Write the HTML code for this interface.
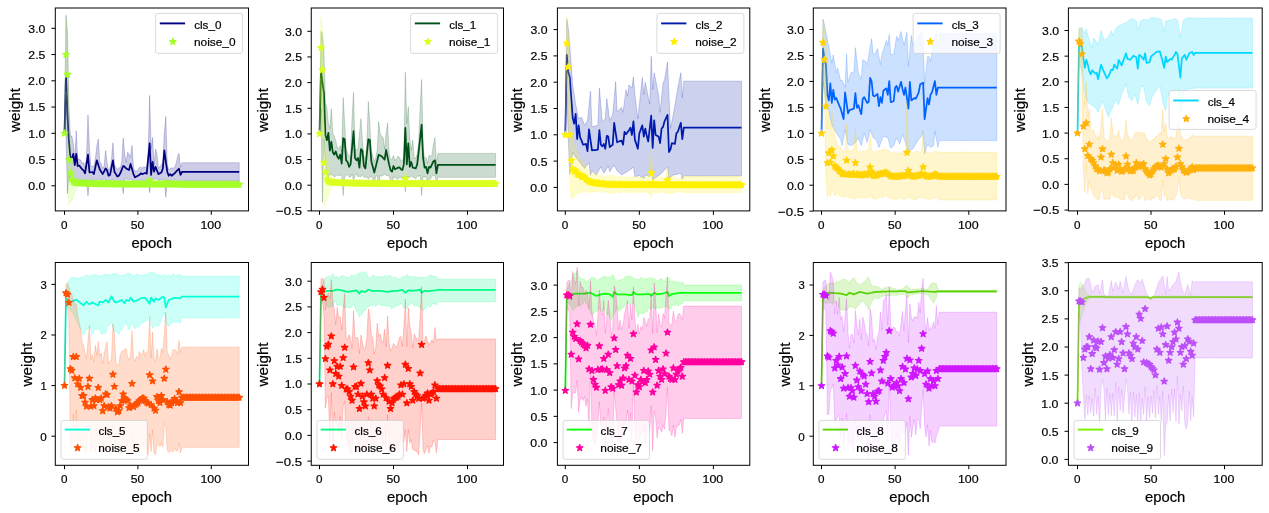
<!DOCTYPE html>
<html><head><meta charset="utf-8"><title>weights</title>
<style>
html,body{margin:0;padding:0;background:#fff}
body{width:1269px;height:513px;overflow:hidden;position:relative}
svg text{font-family:"Liberation Sans",sans-serif;fill:#000;stroke:#000;stroke-width:0.2px}
</style></head><body>
<svg width="1269" height="513" viewBox="0 0 1269 513" style="display:block;position:absolute;left:0;top:0">
<defs><path id="st" d="M0.00 -3.40 L0.82 -1.13 L3.23 -1.05 L1.33 0.43 L2.00 2.75 L0.00 1.40 L-2.00 2.75 L-1.33 0.43 L-3.23 -1.05 L-0.82 -1.13Z"/>
<clipPath id="c0"><rect x="55.3" y="8" width="193.2" height="202.9"/></clipPath>
<clipPath id="c1"><rect x="311.25" y="8" width="192.25" height="202.9"/></clipPath>
<clipPath id="c2"><rect x="557.4" y="8" width="192.4" height="202.9"/></clipPath>
<clipPath id="c3"><rect x="813.3" y="8" width="192.7" height="202.9"/></clipPath>
<clipPath id="c4"><rect x="1068.4" y="8" width="193.8" height="202.9"/></clipPath>
<clipPath id="c5"><rect x="55.3" y="262.5" width="193.2" height="202.8"/></clipPath>
<clipPath id="c6"><rect x="311.25" y="262.5" width="192.25" height="202.8"/></clipPath>
<clipPath id="c7"><rect x="557.4" y="262.5" width="192.4" height="202.8"/></clipPath>
<clipPath id="c8"><rect x="813.3" y="262.5" width="192.7" height="202.8"/></clipPath>
<clipPath id="c9"><rect x="1068.4" y="262.5" width="193.8" height="202.8"/></clipPath>
</defs>
<rect width="1269" height="513" fill="#fff"/>
<g style="will-change:transform;filter:blur(0.35px)">
<g clip-path="url(#c0)">
<path d="M64.5 126.74 L65.97 15.18 L67.44 33.55 L68.9 107.05 L70.37 135.93 L71.84 135.93 L73.31 143.8 L74.78 158.88 L76.24 130.68 L77.71 159.08 L79.18 158.97 L80.65 159.99 L82.12 163.36 L83.58 162.38 L85.05 167.97 L86.52 156.64 L87.99 114.93 L89.46 149.05 L90.92 166.56 L92.39 166.14 L93.86 166.34 L95.33 158.94 L96.8 146.43 L98.26 139.08 L99.73 161.25 L101.2 163.62 L102.67 168.59 L104.14 165.91 L105.6 150.62 L107.07 162.38 L108.54 170.17 L110.01 168.35 L111.48 159.37 L112.94 142.75 L114.41 164.26 L115.88 167.87 L117.35 169.13 L118.82 167.85 L120.28 168 L121.75 162.05 L123.22 138.03 L124.69 154.3 L126.16 162.32 L127.62 152.2 L129.09 154.3 L130.56 157.26 L132.03 145.38 L133.5 167.94 L134.96 171.19 L136.43 170.88 L137.9 170.42 L139.37 167.53 L140.84 167.39 L142.3 168.03 L143.77 166.75 L145.24 167.56 L146.71 166.57 L148.18 152.79 L149.64 95.5 L151.11 149.05 L152.58 137.5 L154.05 165.13 L155.52 149.05 L156.98 154.3 L158.45 168.71 L159.92 166.37 L161.39 165.15 L162.86 161.58 L164.32 133.3 L165.79 116.5 L167.26 163.59 L168.73 170.05 L170.2 168.42 L171.66 167.94 L173.13 168.01 L174.6 167.53 L176.07 163.51 L177.54 156.93 L179 153.25 L180.47 167.38 L181.94 162.7 L183.41 162.7 L184.88 162.7 L186.34 162.7 L187.81 162.7 L189.28 162.7 L190.75 162.7 L192.22 162.7 L193.68 162.7 L195.15 162.7 L196.62 162.7 L198.09 162.7 L199.56 162.7 L201.02 162.7 L202.49 162.7 L203.96 162.7 L205.43 162.7 L206.9 162.7 L208.36 162.7 L209.83 162.7 L211.3 162.7 L212.77 162.7 L214.24 162.7 L215.7 162.7 L217.17 162.7 L218.64 162.7 L220.11 162.7 L221.58 162.7 L223.04 162.7 L224.51 162.7 L225.98 162.7 L227.45 162.7 L228.92 162.7 L230.38 162.7 L231.85 162.7 L233.32 162.7 L234.79 162.7 L236.26 162.7 L237.72 162.7 L239.19 162.7 L239.19 181.08 L237.72 181.08 L236.26 181.08 L234.79 181.08 L233.32 181.08 L231.85 181.08 L230.38 181.08 L228.92 181.08 L227.45 181.08 L225.98 181.08 L224.51 181.08 L223.04 181.08 L221.58 181.08 L220.11 181.08 L218.64 181.08 L217.17 181.08 L215.7 181.08 L214.24 181.08 L212.77 181.08 L211.3 181.08 L209.83 181.08 L208.36 181.08 L206.9 181.08 L205.43 181.08 L203.96 181.08 L202.49 181.08 L201.02 181.08 L199.56 181.08 L198.09 181.08 L196.62 181.08 L195.15 181.08 L193.68 181.08 L192.22 181.08 L190.75 181.08 L189.28 181.08 L187.81 181.08 L186.34 181.08 L184.88 181.08 L183.41 181.08 L181.94 181.08 L180.47 182.46 L179 180.73 L177.54 180.72 L176.07 180.07 L174.6 179.73 L173.13 181.02 L171.66 183.52 L170.2 179.93 L168.73 181.41 L167.26 180.66 L165.79 197.35 L164.32 179 L162.86 179.83 L161.39 179.84 L159.92 180.24 L158.45 179.98 L156.98 179.24 L155.52 178.99 L154.05 179.23 L152.58 180 L151.11 182.38 L149.64 192.62 L148.18 180.37 L146.71 180.69 L145.24 179.96 L143.77 180.34 L142.3 180.2 L140.84 180.8 L139.37 182.31 L137.9 181.04 L136.43 182.2 L134.96 183.51 L133.5 180.64 L132.03 180.23 L130.56 178.99 L129.09 179.83 L127.62 179.24 L126.16 179.07 L124.69 178.9 L123.22 193.68 L121.75 180.64 L120.28 180.62 L118.82 183.61 L117.35 183.95 L115.88 180.36 L114.41 180.63 L112.94 179.39 L111.48 179.84 L110.01 181.5 L108.54 181.29 L107.07 180.3 L105.6 180.43 L104.14 178.77 L102.67 180.1 L101.2 180.25 L99.73 179.75 L98.26 179.08 L96.8 179.96 L95.33 180.25 L93.86 181.89 L92.39 178.83 L90.92 180.19 L89.46 180.68 L87.99 195.78 L86.52 180.4 L85.05 180.72 L83.58 179.91 L82.12 179.41 L80.65 180.01 L79.18 180.62 L77.71 179.67 L76.24 180.65 L74.78 180.67 L73.31 178.9 L71.84 180.52 L70.37 180.38 L68.9 175.3 L67.44 193.68 L65.97 133.3 L64.5 133.3Z" fill="#000080" fill-opacity="0.2" stroke="#000080" stroke-opacity="0.2" stroke-width="1"/>
<path d="M64.5 133.3 L65.97 74.5 L67.44 114.4 L68.9 141.18 L70.37 157.12 L71.84 157.93 L73.31 153.89 L74.78 165.21 L76.24 153.89 L77.71 166.02 L79.18 165.54 L80.65 167.4 L82.12 169.26 L83.58 170.39 L85.05 173.3 L86.52 164 L87.99 154.7 L89.46 172.49 L90.92 172.25 L92.39 172.01 L93.86 174.11 L95.33 167.24 L96.8 160.36 L98.26 164.81 L99.73 169.26 L101.2 171.69 L102.67 174.11 L104.14 171.28 L105.6 168.45 L107.07 170.39 L108.54 175.73 L110.01 174.92 L111.48 167.64 L112.94 160.36 L114.41 171.69 L115.88 174.11 L117.35 176.54 L118.82 175.73 L120.28 173.3 L121.75 169.66 L123.22 166.02 L124.69 166.83 L126.16 168.45 L127.62 169.26 L129.09 170.07 L130.56 163.92 L132.03 169.02 L133.5 174.11 L134.96 177.35 L136.43 176.54 L137.9 175.73 L139.37 174.92 L140.84 173.3 L142.3 174.11 L143.77 173.55 L145.24 172.98 L146.71 173.63 L148.18 158.5 L149.64 143.37 L151.11 174.92 L152.58 161.98 L154.05 171.69 L155.52 166.83 L156.98 170.47 L158.45 174.11 L159.92 173.3 L161.39 172.49 L162.86 168.45 L164.32 150.33 L165.79 161.01 L167.26 171.69 L168.73 175.73 L170.2 174.11 L171.66 175.73 L173.13 174.52 L174.6 173.3 L176.07 171.69 L177.54 170.23 L179 168.77 L180.47 174.92 L181.94 171.99 L183.41 171.99 L184.88 171.99 L186.34 171.99 L187.81 171.99 L189.28 171.99 L190.75 171.99 L192.22 171.99 L193.68 171.99 L195.15 171.99 L196.62 171.99 L198.09 171.99 L199.56 171.99 L201.02 171.99 L202.49 171.99 L203.96 171.99 L205.43 171.99 L206.9 171.99 L208.36 171.99 L209.83 171.99 L211.3 171.99 L212.77 171.99 L214.24 171.99 L215.7 171.99 L217.17 171.99 L218.64 171.99 L220.11 171.99 L221.58 171.99 L223.04 171.99 L224.51 171.99 L225.98 171.99 L227.45 171.99 L228.92 171.99 L230.38 171.99 L231.85 171.99 L233.32 171.99 L234.79 171.99 L236.26 171.99 L237.72 171.99 L239.19 171.99" fill="none" stroke="#000080" stroke-width="1.75" stroke-linejoin="round" stroke-linecap="butt"/>
<path d="M64.5 133.3 L65.97 17.8 L67.44 32.5 L68.9 114.93 L70.37 144.33 L71.84 158.5 L73.31 166.9 L74.78 173.2 L76.24 176.48 L77.71 178.69 L79.18 181.16 L80.65 181.26 L82.12 181.35 L83.58 181.43 L85.05 181.51 L86.52 181.58 L87.99 179.28 L89.46 181.7 L90.92 181.76 L92.39 181.81 L93.86 181.85 L95.33 181.9 L96.8 181.94 L98.26 181.97 L99.73 182.01 L101.2 182.04 L102.67 182.06 L104.14 182.09 L105.6 182.11 L107.07 182.14 L108.54 182.16 L110.01 182.17 L111.48 182.19 L112.94 182.21 L114.41 182.22 L115.88 182.23 L117.35 182.25 L118.82 182.26 L120.28 182.27 L121.75 182.28 L123.22 182.29 L124.69 182.29 L126.16 182.3 L127.62 182.31 L129.09 182.32 L130.56 182.32 L132.03 182.33 L133.5 182.33 L134.96 182.34 L136.43 182.34 L137.9 182.34 L139.37 182.35 L140.84 182.35 L142.3 182.35 L143.77 182.36 L145.24 182.36 L146.71 182.36 L148.18 182.36 L149.64 172.68 L151.11 181.34 L152.58 182.37 L154.05 182.37 L155.52 182.37 L156.98 182.37 L158.45 182.37 L159.92 182.37 L161.39 182.38 L162.86 182.38 L164.32 182.38 L165.79 178.45 L167.26 182.38 L168.73 182.38 L170.2 182.38 L171.66 182.38 L173.13 182.38 L174.6 182.38 L176.07 182.38 L177.54 182.38 L179 182.38 L180.47 182.38 L181.94 182.65 L183.41 182.65 L184.88 182.65 L186.34 182.65 L187.81 182.65 L189.28 182.65 L190.75 182.65 L192.22 182.65 L193.68 182.65 L195.15 182.65 L196.62 182.65 L198.09 182.65 L199.56 182.65 L201.02 182.65 L202.49 182.65 L203.96 182.65 L205.43 182.65 L206.9 182.65 L208.36 182.65 L209.83 182.65 L211.3 182.65 L212.77 182.65 L214.24 182.65 L215.7 182.65 L217.17 182.65 L218.64 182.65 L220.11 182.65 L221.58 182.65 L223.04 182.65 L224.51 182.65 L225.98 182.65 L227.45 182.65 L228.92 182.65 L230.38 182.65 L231.85 182.65 L233.32 182.65 L234.79 182.65 L236.26 182.65 L237.72 182.65 L239.19 182.65 L239.19 186.33 L237.72 186.33 L236.26 186.33 L234.79 186.33 L233.32 186.33 L231.85 186.33 L230.38 186.33 L228.92 186.33 L227.45 186.33 L225.98 186.33 L224.51 186.33 L223.04 186.33 L221.58 186.33 L220.11 186.33 L218.64 186.33 L217.17 186.33 L215.7 186.33 L214.24 186.33 L212.77 186.33 L211.3 186.33 L209.83 186.33 L208.36 186.33 L206.9 186.33 L205.43 186.33 L203.96 186.33 L202.49 186.33 L201.02 186.33 L199.56 186.33 L198.09 186.33 L196.62 186.33 L195.15 186.33 L193.68 186.33 L192.22 186.33 L190.75 186.33 L189.28 186.33 L187.81 186.33 L186.34 186.33 L184.88 186.33 L183.41 186.33 L181.94 186.33 L180.47 186.06 L179 186.06 L177.54 186.06 L176.07 186.06 L174.6 186.06 L173.13 186.06 L171.66 186.06 L170.2 186.06 L168.73 186.05 L167.26 186.05 L165.79 186.85 L164.32 186.05 L162.86 186.05 L161.39 186.05 L159.92 186.05 L158.45 186.05 L156.98 186.05 L155.52 186.05 L154.05 186.05 L152.58 186.04 L151.11 185.01 L149.64 188.43 L148.18 186.04 L146.71 186.04 L145.24 186.03 L143.77 186.03 L142.3 186.03 L140.84 186.03 L139.37 186.02 L137.9 186.02 L136.43 186.01 L134.96 186.01 L133.5 186.01 L132.03 186 L130.56 186 L129.09 185.99 L127.62 185.98 L126.16 185.98 L124.69 185.97 L123.22 185.96 L121.75 185.95 L120.28 185.94 L118.82 185.93 L117.35 185.92 L115.88 185.91 L114.41 185.9 L112.94 185.88 L111.48 185.87 L110.01 185.85 L108.54 185.83 L107.07 185.81 L105.6 185.79 L104.14 185.77 L102.67 185.74 L101.2 185.71 L99.73 185.68 L98.26 185.65 L96.8 185.61 L95.33 185.57 L93.86 185.53 L92.39 185.48 L90.92 185.43 L89.46 185.38 L87.99 187.68 L86.52 185.25 L85.05 185.18 L83.58 185.11 L82.12 185.02 L80.65 184.93 L79.18 184.84 L77.71 187.09 L76.24 189.08 L74.78 192.1 L73.31 196.3 L71.84 200.5 L70.37 202.08 L68.9 204.18 L67.44 116.5 L65.97 91.3 L64.5 133.3Z" fill="#a4ff28" fill-opacity="0.2" stroke="#a4ff28" stroke-opacity="0.2" stroke-width="1"/>
<g fill="#a4ff28" stroke="#a4ff28" stroke-width="1.2" stroke-linejoin="round">
<use href="#st" x="64.5" y="133.3"/><use href="#st" x="65.97" y="54.55"/><use href="#st" x="67.44" y="74.5"/><use href="#st" x="68.9" y="159.55"/><use href="#st" x="70.37" y="173.2"/><use href="#st" x="71.84" y="179.5"/><use href="#st" x="73.31" y="181.6"/><use href="#st" x="74.78" y="182.65"/><use href="#st" x="76.24" y="182.78"/><use href="#st" x="77.71" y="182.89"/><use href="#st" x="79.18" y="183"/><use href="#st" x="80.65" y="183.1"/><use href="#st" x="82.12" y="183.19"/><use href="#st" x="83.58" y="183.27"/><use href="#st" x="85.05" y="183.35"/><use href="#st" x="86.52" y="183.42"/><use href="#st" x="87.99" y="183.48"/><use href="#st" x="89.46" y="183.54"/><use href="#st" x="90.92" y="183.6"/><use href="#st" x="92.39" y="183.65"/><use href="#st" x="93.86" y="183.69"/><use href="#st" x="95.33" y="183.73"/><use href="#st" x="96.8" y="183.77"/><use href="#st" x="98.26" y="183.81"/><use href="#st" x="99.73" y="183.84"/><use href="#st" x="101.2" y="183.87"/><use href="#st" x="102.67" y="183.9"/><use href="#st" x="104.14" y="183.93"/><use href="#st" x="105.6" y="183.95"/><use href="#st" x="107.07" y="183.97"/><use href="#st" x="108.54" y="183.99"/><use href="#st" x="110.01" y="184.01"/><use href="#st" x="111.48" y="184.03"/><use href="#st" x="112.94" y="184.04"/><use href="#st" x="114.41" y="184.06"/><use href="#st" x="115.88" y="184.07"/><use href="#st" x="117.35" y="184.08"/><use href="#st" x="118.82" y="184.1"/><use href="#st" x="120.28" y="184.11"/><use href="#st" x="121.75" y="184.12"/><use href="#st" x="123.22" y="184.12"/><use href="#st" x="124.69" y="184.13"/><use href="#st" x="126.16" y="184.14"/><use href="#st" x="127.62" y="184.15"/><use href="#st" x="129.09" y="184.15"/><use href="#st" x="130.56" y="184.16"/><use href="#st" x="132.03" y="184.16"/><use href="#st" x="133.5" y="184.17"/><use href="#st" x="134.96" y="184.17"/><use href="#st" x="136.43" y="184.18"/><use href="#st" x="137.9" y="184.18"/><use href="#st" x="139.37" y="184.18"/><use href="#st" x="140.84" y="184.19"/><use href="#st" x="142.3" y="184.19"/><use href="#st" x="143.77" y="184.19"/><use href="#st" x="145.24" y="184.2"/><use href="#st" x="146.71" y="184.2"/><use href="#st" x="148.18" y="184.2"/><use href="#st" x="149.64" y="180.55"/><use href="#st" x="151.11" y="183.18"/><use href="#st" x="152.58" y="184.21"/><use href="#st" x="154.05" y="184.21"/><use href="#st" x="155.52" y="184.21"/><use href="#st" x="156.98" y="184.21"/><use href="#st" x="158.45" y="184.21"/><use href="#st" x="159.92" y="184.21"/><use href="#st" x="161.39" y="184.21"/><use href="#st" x="162.86" y="184.21"/><use href="#st" x="164.32" y="184.22"/><use href="#st" x="165.79" y="182.65"/><use href="#st" x="167.26" y="184.22"/><use href="#st" x="168.73" y="184.22"/><use href="#st" x="170.2" y="184.22"/><use href="#st" x="171.66" y="184.22"/><use href="#st" x="173.13" y="184.22"/><use href="#st" x="174.6" y="184.22"/><use href="#st" x="176.07" y="184.22"/><use href="#st" x="177.54" y="184.22"/><use href="#st" x="179" y="184.22"/><use href="#st" x="180.47" y="184.22"/><use href="#st" x="181.94" y="184.49"/><use href="#st" x="183.41" y="184.49"/><use href="#st" x="184.88" y="184.49"/><use href="#st" x="186.34" y="184.49"/><use href="#st" x="187.81" y="184.49"/><use href="#st" x="189.28" y="184.49"/><use href="#st" x="190.75" y="184.49"/><use href="#st" x="192.22" y="184.49"/><use href="#st" x="193.68" y="184.49"/><use href="#st" x="195.15" y="184.49"/><use href="#st" x="196.62" y="184.49"/><use href="#st" x="198.09" y="184.49"/><use href="#st" x="199.56" y="184.49"/><use href="#st" x="201.02" y="184.49"/><use href="#st" x="202.49" y="184.49"/><use href="#st" x="203.96" y="184.49"/><use href="#st" x="205.43" y="184.49"/><use href="#st" x="206.9" y="184.49"/><use href="#st" x="208.36" y="184.49"/><use href="#st" x="209.83" y="184.49"/><use href="#st" x="211.3" y="184.49"/><use href="#st" x="212.77" y="184.49"/><use href="#st" x="214.24" y="184.49"/><use href="#st" x="215.7" y="184.49"/><use href="#st" x="217.17" y="184.49"/><use href="#st" x="218.64" y="184.49"/><use href="#st" x="220.11" y="184.49"/><use href="#st" x="221.58" y="184.49"/><use href="#st" x="223.04" y="184.49"/><use href="#st" x="224.51" y="184.49"/><use href="#st" x="225.98" y="184.49"/><use href="#st" x="227.45" y="184.49"/><use href="#st" x="228.92" y="184.49"/><use href="#st" x="230.38" y="184.49"/><use href="#st" x="231.85" y="184.49"/><use href="#st" x="233.32" y="184.49"/><use href="#st" x="234.79" y="184.49"/><use href="#st" x="236.26" y="184.49"/><use href="#st" x="237.72" y="184.49"/><use href="#st" x="239.19" y="184.49"/>
</g>
</g>
<rect x="155.6" y="13.4" width="87" height="40" rx="2.4" ry="2.4" fill="#fff" fill-opacity="0.8" stroke="#ccc" stroke-opacity="0.8" stroke-width="0.9"/>
<path d="M160.75 23.4 H184.15" stroke="#000080" stroke-width="1.9" stroke-linecap="square" fill="none"/>
<use href="#st" x="172.8" y="41.7" fill="#a4ff28" stroke="#a4ff28" stroke-width="1.2" stroke-linejoin="round"/>
<text x="194.2" y="28.7" font-size="11.6" textLength="27.2" lengthAdjust="spacingAndGlyphs">cls_0</text>
<text x="193.93" y="46" font-size="11.6" textLength="41.67" lengthAdjust="spacingAndGlyphs">noise_0</text>
<rect x="55.3" y="8" width="193.2" height="202.9" fill="none" stroke="#000" stroke-width="1"/>
<text x="60.96" y="228.7" font-size="11.6" textLength="6.5" lengthAdjust="spacingAndGlyphs">0</text>
<text x="130.82" y="228.7" font-size="11.6" textLength="13.56" lengthAdjust="spacingAndGlyphs">50</text>
<text x="200.43" y="228.7" font-size="11.6" textLength="20.68" lengthAdjust="spacingAndGlyphs">100</text>
<text x="28.22" y="190.2" font-size="11.6" textLength="17.15" lengthAdjust="spacingAndGlyphs">0.0</text>
<text x="28.44" y="163.95" font-size="11.6" textLength="16.95" lengthAdjust="spacingAndGlyphs">0.5</text>
<text x="28.23" y="137.7" font-size="11.6" textLength="17.14" lengthAdjust="spacingAndGlyphs">1.0</text>
<text x="28.46" y="111.45" font-size="11.6" textLength="16.93" lengthAdjust="spacingAndGlyphs">1.5</text>
<text x="28.14" y="85.2" font-size="11.6" textLength="17.22" lengthAdjust="spacingAndGlyphs">2.0</text>
<text x="28.37" y="58.95" font-size="11.6" textLength="17.02" lengthAdjust="spacingAndGlyphs">2.5</text>
<text x="28.33" y="32.7" font-size="11.6" textLength="17.03" lengthAdjust="spacingAndGlyphs">3.0</text>
<path d="M64.5 210.9v3.9M137.9 210.9v3.9M211.3 210.9v3.9M55.3 185.8h-3.9M55.3 159.55h-3.9M55.3 133.3h-3.9M55.3 107.05h-3.9M55.3 80.8h-3.9M55.3 54.55h-3.9M55.3 28.3h-3.9" stroke="#000" stroke-width="1" fill="none"/>
<text x="131.59" y="247.5" font-size="14.2" textLength="40.34" lengthAdjust="spacingAndGlyphs">epoch</text>
<g transform="translate(20.1 110.05) rotate(-90)"><text x="-22.06" y="0" font-size="14.2" textLength="44.17" lengthAdjust="spacingAndGlyphs">weight</text></g>
<g clip-path="url(#c1)">
<path d="M319.5 123.9 L320.98 31.3 L322.46 33.86 L323.94 51.82 L325.42 103.12 L326.9 107.74 L328.38 123.64 L329.86 128.77 L331.34 108.76 L332.82 133.9 L334.3 135.95 L335.78 141.07 L337.26 147.54 L338.74 148.42 L340.22 145.72 L341.7 152.15 L343.18 97.48 L344.66 123.64 L346.14 148.67 L347.62 153.43 L349.1 156.54 L350.58 155.92 L352.06 118.51 L353.54 92.35 L355.02 149.19 L356.5 149.69 L357.98 148.79 L359.46 133.9 L360.94 118.51 L362.42 141 L363.9 155.88 L365.38 159.4 L366.86 143.04 L368.34 101.58 L369.82 123.64 L371.3 151.36 L372.78 155.36 L374.26 161.9 L375.74 157.95 L377.22 149.67 L378.7 121.59 L380.18 133.9 L381.66 136.47 L383.14 137.49 L384.62 149 L386.1 133.9 L387.58 123.13 L389.06 153 L390.54 159.65 L392.02 159.55 L393.5 155.57 L394.98 160.7 L396.46 158.73 L397.94 155.93 L399.42 157.43 L400.9 160.93 L402.38 160.83 L403.86 155.91 L405.34 72.34 L406.82 123.64 L408.3 106.71 L409.78 139.03 L411.26 150.62 L412.74 140.06 L414.22 158.62 L415.7 158.08 L417.18 154.72 L418.66 143.05 L420.14 108.25 L421.62 79.52 L423.1 147.65 L424.58 158.09 L426.06 157.55 L427.54 163.5 L429.02 155.2 L430.5 156.4 L431.98 154.63 L433.46 144.16 L434.94 137.49 L436.42 163.98 L437.9 153.39 L439.38 153.39 L440.86 153.39 L442.34 153.39 L443.82 153.39 L445.3 153.39 L446.78 153.39 L448.26 153.39 L449.74 153.39 L451.22 153.39 L452.7 153.39 L454.18 153.39 L455.66 153.39 L457.14 153.39 L458.62 153.39 L460.1 153.39 L461.58 153.39 L463.06 153.39 L464.54 153.39 L466.02 153.39 L467.5 153.39 L468.98 153.39 L470.46 153.39 L471.94 153.39 L473.42 153.39 L474.9 153.39 L476.38 153.39 L477.86 153.39 L479.34 153.39 L480.82 153.39 L482.3 153.39 L483.78 153.39 L485.26 153.39 L486.74 153.39 L488.22 153.39 L489.7 153.39 L491.18 153.39 L492.66 153.39 L494.14 153.39 L495.62 153.39 L495.62 177.35 L494.14 177.35 L492.66 177.35 L491.18 177.35 L489.7 177.35 L488.22 177.35 L486.74 177.35 L485.26 177.35 L483.78 177.35 L482.3 177.35 L480.82 177.35 L479.34 177.35 L477.86 177.35 L476.38 177.35 L474.9 177.35 L473.42 177.35 L471.94 177.35 L470.46 177.35 L468.98 177.35 L467.5 177.35 L466.02 177.35 L464.54 177.35 L463.06 177.35 L461.58 177.35 L460.1 177.35 L458.62 177.35 L457.14 177.35 L455.66 177.35 L454.18 177.35 L452.7 177.35 L451.22 177.35 L449.74 177.35 L448.26 177.35 L446.78 177.35 L445.3 177.35 L443.82 177.35 L442.34 177.35 L440.86 177.35 L439.38 177.35 L437.9 177.35 L436.42 182.61 L434.94 175.7 L433.46 175.26 L431.98 176.2 L430.5 178.86 L429.02 178.44 L427.54 183.09 L426.06 176.09 L424.58 177.17 L423.1 176.28 L421.62 195.46 L420.14 175.01 L418.66 176.54 L417.18 175.72 L415.7 178.8 L414.22 177.44 L412.74 177.19 L411.26 175.96 L409.78 177.5 L408.3 176.78 L406.82 176.58 L405.34 191.87 L403.86 176.08 L402.38 179.28 L400.9 177.57 L399.42 177.18 L397.94 179.33 L396.46 178.15 L394.98 177.79 L393.5 176.45 L392.02 183.8 L390.54 180.46 L389.06 175.79 L387.58 175.82 L386.1 175.45 L384.62 173.71 L383.14 175.59 L381.66 176.18 L380.18 175.37 L378.7 187.25 L377.22 176.07 L375.74 175.69 L374.26 183.07 L372.78 178.29 L371.3 176.39 L369.82 177.09 L368.34 179.04 L366.86 176.65 L365.38 177.47 L363.9 177.12 L362.42 174.34 L360.94 176.67 L359.46 176.28 L357.98 176.67 L356.5 173.66 L355.02 175.63 L353.54 180.07 L352.06 174.01 L350.58 176.91 L349.1 177.1 L347.62 174.5 L346.14 175.23 L344.66 177.07 L343.18 195.46 L341.7 175.02 L340.22 175.27 L338.74 175.66 L337.26 174.87 L335.78 176.01 L334.3 176.92 L332.82 175.11 L331.34 175.06 L329.86 173.91 L328.38 176.89 L326.9 174.32 L325.42 164.68 L323.94 139.03 L322.46 202.13 L320.98 108.25 L319.5 133.9Z" fill="#005019" fill-opacity="0.2" stroke="#005019" stroke-opacity="0.2" stroke-width="1"/>
<path d="M319.5 133.9 L320.98 71.31 L322.46 82.6 L323.94 93.37 L325.42 135.27 L326.9 140.12 L328.38 132.84 L329.86 150.64 L331.34 141.74 L332.82 152.26 L334.3 154.69 L335.78 151.45 L337.26 156.3 L338.74 158.73 L340.22 154.69 L341.7 163.58 L343.18 138.18 L344.66 139.31 L346.14 160.35 L347.62 161.97 L349.1 166.82 L350.58 164.39 L352.06 147.81 L353.54 131.22 L355.02 157.92 L356.5 160.35 L357.98 157.92 L359.46 167.63 L360.94 149.02 L362.42 150.64 L363.9 166.01 L365.38 168.44 L366.86 153.88 L368.34 139.31 L369.82 140.12 L371.3 161.16 L372.78 166.82 L374.26 172.48 L375.74 166.82 L377.22 160.75 L378.7 154.69 L380.18 155.49 L381.66 156.3 L383.14 157.92 L384.62 159.54 L386.1 149.83 L387.58 157.11 L389.06 164.39 L390.54 170.06 L392.02 171.67 L393.5 166.01 L394.98 169.25 L396.46 168.44 L397.94 167.63 L399.42 167.31 L400.9 169.25 L402.38 170.06 L403.86 164.39 L405.34 127.99 L406.82 164.39 L408.3 143.36 L409.78 166.82 L411.26 161.97 L412.74 167.63 L414.22 168.03 L415.7 168.44 L417.18 164.39 L418.66 151.45 L420.14 138.1 L421.62 124.75 L423.1 157.92 L424.58 167.63 L426.06 166.82 L427.54 173.29 L429.02 166.82 L430.5 167.63 L431.98 164.39 L433.46 161.16 L434.94 160.35 L436.42 173.29 L437.9 164.89 L439.38 164.89 L440.86 164.89 L442.34 164.89 L443.82 164.89 L445.3 164.89 L446.78 164.89 L448.26 164.89 L449.74 164.89 L451.22 164.89 L452.7 164.89 L454.18 164.89 L455.66 164.89 L457.14 164.89 L458.62 164.89 L460.1 164.89 L461.58 164.89 L463.06 164.89 L464.54 164.89 L466.02 164.89 L467.5 164.89 L468.98 164.89 L470.46 164.89 L471.94 164.89 L473.42 164.89 L474.9 164.89 L476.38 164.89 L477.86 164.89 L479.34 164.89 L480.82 164.89 L482.3 164.89 L483.78 164.89 L485.26 164.89 L486.74 164.89 L488.22 164.89 L489.7 164.89 L491.18 164.89 L492.66 164.89 L494.14 164.89 L495.62 164.89" fill="none" stroke="#005019" stroke-width="1.75" stroke-linejoin="round" stroke-linecap="butt"/>
<path d="M319.5 133.9 L320.98 16.94 L322.46 31.3 L323.94 119.02 L325.42 144.16 L326.9 158.52 L328.38 166.73 L329.86 172.89 L331.34 176.09 L332.82 178.25 L334.3 180.41 L335.78 180.51 L337.26 180.59 L338.74 180.68 L340.22 180.75 L341.7 180.82 L343.18 180.88 L344.66 180.94 L346.14 180.99 L347.62 181.04 L349.1 181.09 L350.58 181.13 L352.06 181.17 L353.54 181.2 L355.02 181.24 L356.5 181.27 L357.98 181.29 L359.46 181.32 L360.94 181.34 L362.42 181.36 L363.9 181.38 L365.38 181.4 L366.86 181.42 L368.34 181.43 L369.82 181.45 L371.3 181.46 L372.78 181.47 L374.26 181.48 L375.74 181.49 L377.22 181.5 L378.7 181.51 L380.18 181.52 L381.66 181.53 L383.14 181.53 L384.62 181.54 L386.1 181.54 L387.58 181.55 L389.06 181.55 L390.54 181.56 L392.02 181.56 L393.5 181.57 L394.98 181.57 L396.46 181.57 L397.94 181.58 L399.42 181.58 L400.9 181.58 L402.38 181.58 L403.86 181.59 L405.34 168.27 L406.82 180.58 L408.3 181.59 L409.78 181.59 L411.26 181.59 L412.74 181.59 L414.22 181.6 L415.7 181.6 L417.18 181.6 L418.66 181.6 L420.14 181.6 L421.62 178.52 L423.1 181.6 L424.58 181.6 L426.06 181.6 L427.54 181.6 L429.02 181.6 L430.5 181.6 L431.98 181.6 L433.46 181.6 L434.94 181.6 L436.42 181.61 L437.9 181.61 L439.38 181.61 L440.86 181.61 L442.34 181.61 L443.82 181.61 L445.3 181.61 L446.78 181.61 L448.26 181.61 L449.74 181.61 L451.22 181.61 L452.7 181.61 L454.18 181.61 L455.66 181.61 L457.14 181.61 L458.62 181.61 L460.1 181.61 L461.58 181.61 L463.06 181.61 L464.54 181.61 L466.02 181.61 L467.5 181.61 L468.98 181.61 L470.46 181.61 L471.94 181.61 L473.42 181.61 L474.9 181.61 L476.38 181.61 L477.86 181.61 L479.34 181.61 L480.82 181.61 L482.3 181.61 L483.78 181.61 L485.26 181.61 L486.74 181.61 L488.22 181.61 L489.7 181.61 L491.18 181.61 L492.66 181.61 L494.14 181.61 L495.62 181.61 L495.62 185.71 L494.14 185.71 L492.66 185.71 L491.18 185.71 L489.7 185.71 L488.22 185.71 L486.74 185.71 L485.26 185.71 L483.78 185.71 L482.3 185.71 L480.82 185.71 L479.34 185.71 L477.86 185.71 L476.38 185.71 L474.9 185.71 L473.42 185.71 L471.94 185.71 L470.46 185.71 L468.98 185.71 L467.5 185.71 L466.02 185.71 L464.54 185.71 L463.06 185.71 L461.58 185.71 L460.1 185.71 L458.62 185.71 L457.14 185.71 L455.66 185.71 L454.18 185.71 L452.7 185.71 L451.22 185.71 L449.74 185.71 L448.26 185.71 L446.78 185.71 L445.3 185.71 L443.82 185.71 L442.34 185.71 L440.86 185.71 L439.38 185.71 L437.9 185.71 L436.42 185.71 L434.94 185.71 L433.46 185.71 L431.98 185.71 L430.5 185.71 L429.02 185.71 L427.54 185.71 L426.06 185.71 L424.58 185.71 L423.1 185.7 L421.62 188.78 L420.14 185.7 L418.66 185.7 L417.18 185.7 L415.7 185.7 L414.22 185.7 L412.74 185.7 L411.26 185.7 L409.78 185.7 L408.3 185.69 L406.82 184.69 L405.34 188.79 L403.86 185.69 L402.38 185.69 L400.9 185.68 L399.42 185.68 L397.94 185.68 L396.46 185.68 L394.98 185.67 L393.5 185.67 L392.02 185.67 L390.54 185.66 L389.06 185.66 L387.58 185.65 L386.1 185.65 L384.62 185.64 L383.14 185.64 L381.66 185.63 L380.18 185.62 L378.7 185.61 L377.22 185.61 L375.74 185.6 L374.26 185.59 L372.78 185.58 L371.3 185.56 L369.82 185.55 L368.34 185.54 L366.86 185.52 L365.38 185.5 L363.9 185.49 L362.42 185.47 L360.94 185.45 L359.46 185.42 L357.98 185.4 L356.5 185.37 L355.02 185.34 L353.54 185.31 L352.06 185.27 L350.58 185.23 L349.1 185.19 L347.62 185.15 L346.14 185.1 L344.66 185.04 L343.18 184.99 L341.7 184.92 L340.22 184.85 L338.74 184.78 L337.26 184.7 L335.78 184.61 L334.3 184.51 L332.82 186.46 L331.34 188.4 L329.86 191.36 L328.38 195.46 L326.9 199.56 L325.42 200.59 L323.94 206.23 L322.46 108.25 L320.98 78.5 L319.5 133.9Z" fill="#dbff20" fill-opacity="0.2" stroke="#dbff20" stroke-opacity="0.2" stroke-width="1"/>
<g fill="#dbff20" stroke="#dbff20" stroke-width="1.2" stroke-linejoin="round">
<use href="#st" x="319.5" y="133.9"/><use href="#st" x="320.98" y="47.72"/><use href="#st" x="322.46" y="69.77"/><use href="#st" x="323.94" y="162.63"/><use href="#st" x="325.42" y="172.38"/><use href="#st" x="326.9" y="179.04"/><use href="#st" x="328.38" y="181.1"/><use href="#st" x="329.86" y="182.12"/><use href="#st" x="331.34" y="182.25"/><use href="#st" x="332.82" y="182.36"/><use href="#st" x="334.3" y="182.46"/><use href="#st" x="335.78" y="182.56"/><use href="#st" x="337.26" y="182.65"/><use href="#st" x="338.74" y="182.73"/><use href="#st" x="340.22" y="182.8"/><use href="#st" x="341.7" y="182.87"/><use href="#st" x="343.18" y="182.93"/><use href="#st" x="344.66" y="182.99"/><use href="#st" x="346.14" y="183.05"/><use href="#st" x="347.62" y="183.09"/><use href="#st" x="349.1" y="183.14"/><use href="#st" x="350.58" y="183.18"/><use href="#st" x="352.06" y="183.22"/><use href="#st" x="353.54" y="183.26"/><use href="#st" x="355.02" y="183.29"/><use href="#st" x="356.5" y="183.32"/><use href="#st" x="357.98" y="183.35"/><use href="#st" x="359.46" y="183.37"/><use href="#st" x="360.94" y="183.39"/><use href="#st" x="362.42" y="183.41"/><use href="#st" x="363.9" y="183.43"/><use href="#st" x="365.38" y="183.45"/><use href="#st" x="366.86" y="183.47"/><use href="#st" x="368.34" y="183.48"/><use href="#st" x="369.82" y="183.5"/><use href="#st" x="371.3" y="183.51"/><use href="#st" x="372.78" y="183.52"/><use href="#st" x="374.26" y="183.53"/><use href="#st" x="375.74" y="183.54"/><use href="#st" x="377.22" y="183.55"/><use href="#st" x="378.7" y="183.56"/><use href="#st" x="380.18" y="183.57"/><use href="#st" x="381.66" y="183.58"/><use href="#st" x="383.14" y="183.58"/><use href="#st" x="384.62" y="183.59"/><use href="#st" x="386.1" y="183.6"/><use href="#st" x="387.58" y="183.6"/><use href="#st" x="389.06" y="183.61"/><use href="#st" x="390.54" y="183.61"/><use href="#st" x="392.02" y="183.61"/><use href="#st" x="393.5" y="183.62"/><use href="#st" x="394.98" y="183.62"/><use href="#st" x="396.46" y="183.62"/><use href="#st" x="397.94" y="183.63"/><use href="#st" x="399.42" y="183.63"/><use href="#st" x="400.9" y="183.63"/><use href="#st" x="402.38" y="183.64"/><use href="#st" x="403.86" y="183.64"/><use href="#st" x="405.34" y="178.53"/><use href="#st" x="406.82" y="182.63"/><use href="#st" x="408.3" y="183.64"/><use href="#st" x="409.78" y="183.64"/><use href="#st" x="411.26" y="183.65"/><use href="#st" x="412.74" y="183.65"/><use href="#st" x="414.22" y="183.65"/><use href="#st" x="415.7" y="183.65"/><use href="#st" x="417.18" y="183.65"/><use href="#st" x="418.66" y="183.65"/><use href="#st" x="420.14" y="183.65"/><use href="#st" x="421.62" y="183.65"/><use href="#st" x="423.1" y="183.65"/><use href="#st" x="424.58" y="183.65"/><use href="#st" x="426.06" y="183.65"/><use href="#st" x="427.54" y="183.65"/><use href="#st" x="429.02" y="183.66"/><use href="#st" x="430.5" y="183.66"/><use href="#st" x="431.98" y="183.66"/><use href="#st" x="433.46" y="183.66"/><use href="#st" x="434.94" y="183.66"/><use href="#st" x="436.42" y="183.66"/><use href="#st" x="437.9" y="183.66"/><use href="#st" x="439.38" y="183.66"/><use href="#st" x="440.86" y="183.66"/><use href="#st" x="442.34" y="183.66"/><use href="#st" x="443.82" y="183.66"/><use href="#st" x="445.3" y="183.66"/><use href="#st" x="446.78" y="183.66"/><use href="#st" x="448.26" y="183.66"/><use href="#st" x="449.74" y="183.66"/><use href="#st" x="451.22" y="183.66"/><use href="#st" x="452.7" y="183.66"/><use href="#st" x="454.18" y="183.66"/><use href="#st" x="455.66" y="183.66"/><use href="#st" x="457.14" y="183.66"/><use href="#st" x="458.62" y="183.66"/><use href="#st" x="460.1" y="183.66"/><use href="#st" x="461.58" y="183.66"/><use href="#st" x="463.06" y="183.66"/><use href="#st" x="464.54" y="183.66"/><use href="#st" x="466.02" y="183.66"/><use href="#st" x="467.5" y="183.66"/><use href="#st" x="468.98" y="183.66"/><use href="#st" x="470.46" y="183.66"/><use href="#st" x="471.94" y="183.66"/><use href="#st" x="473.42" y="183.66"/><use href="#st" x="474.9" y="183.66"/><use href="#st" x="476.38" y="183.66"/><use href="#st" x="477.86" y="183.66"/><use href="#st" x="479.34" y="183.66"/><use href="#st" x="480.82" y="183.66"/><use href="#st" x="482.3" y="183.66"/><use href="#st" x="483.78" y="183.66"/><use href="#st" x="485.26" y="183.66"/><use href="#st" x="486.74" y="183.66"/><use href="#st" x="488.22" y="183.66"/><use href="#st" x="489.7" y="183.66"/><use href="#st" x="491.18" y="183.66"/><use href="#st" x="492.66" y="183.66"/><use href="#st" x="494.14" y="183.66"/><use href="#st" x="495.62" y="183.66"/>
</g>
</g>
<rect x="410.6" y="13.4" width="87" height="40" rx="2.4" ry="2.4" fill="#fff" fill-opacity="0.8" stroke="#ccc" stroke-opacity="0.8" stroke-width="0.9"/>
<path d="M415.75 23.4 H439.15" stroke="#005019" stroke-width="1.9" stroke-linecap="square" fill="none"/>
<use href="#st" x="427.8" y="41.7" fill="#dbff20" stroke="#dbff20" stroke-width="1.2" stroke-linejoin="round"/>
<text x="449.21" y="28.7" font-size="11.6" textLength="27.04" lengthAdjust="spacingAndGlyphs">cls_1</text>
<text x="448.93" y="46" font-size="11.6" textLength="41.5" lengthAdjust="spacingAndGlyphs">noise_1</text>
<rect x="311.25" y="8" width="192.25" height="202.9" fill="none" stroke="#000" stroke-width="1"/>
<text x="315.96" y="228.7" font-size="11.6" textLength="6.5" lengthAdjust="spacingAndGlyphs">0</text>
<text x="386.42" y="228.7" font-size="11.6" textLength="13.56" lengthAdjust="spacingAndGlyphs">50</text>
<text x="456.63" y="228.7" font-size="11.6" textLength="20.68" lengthAdjust="spacingAndGlyphs">100</text>
<text x="276.06" y="215.25" font-size="11.6" textLength="26.03" lengthAdjust="spacingAndGlyphs">−0.5</text>
<text x="284.87" y="189.6" font-size="11.6" textLength="17.15" lengthAdjust="spacingAndGlyphs">0.0</text>
<text x="285.09" y="163.95" font-size="11.6" textLength="16.95" lengthAdjust="spacingAndGlyphs">0.5</text>
<text x="284.88" y="138.3" font-size="11.6" textLength="17.14" lengthAdjust="spacingAndGlyphs">1.0</text>
<text x="285.11" y="112.65" font-size="11.6" textLength="16.93" lengthAdjust="spacingAndGlyphs">1.5</text>
<text x="284.79" y="87" font-size="11.6" textLength="17.22" lengthAdjust="spacingAndGlyphs">2.0</text>
<text x="285.02" y="61.35" font-size="11.6" textLength="17.02" lengthAdjust="spacingAndGlyphs">2.5</text>
<text x="284.98" y="35.7" font-size="11.6" textLength="17.03" lengthAdjust="spacingAndGlyphs">3.0</text>
<path d="M319.5 210.9v3.9M393.5 210.9v3.9M467.5 210.9v3.9M311.25 210.85h-3.9M311.25 185.2h-3.9M311.25 159.55h-3.9M311.25 133.9h-3.9M311.25 108.25h-3.9M311.25 82.6h-3.9M311.25 56.95h-3.9M311.25 31.3h-3.9" stroke="#000" stroke-width="1" fill="none"/>
<text x="387.07" y="247.5" font-size="14.2" textLength="40.34" lengthAdjust="spacingAndGlyphs">epoch</text>
<g transform="translate(267.5 110.05) rotate(-90)"><text x="-22.06" y="0" font-size="14.2" textLength="44.17" lengthAdjust="spacingAndGlyphs">weight</text></g>
<g clip-path="url(#c2)">
<path d="M565.3 134.8 L566.78 19.08 L568.26 27.5 L569.74 45.38 L571.22 65.12 L572.7 84.85 L574.19 94.56 L575.67 104.27 L577.15 111.55 L578.63 118.83 L580.11 118.02 L581.59 117.21 L583.07 121.26 L584.55 125.3 L586.03 122.88 L587.51 120.45 L589 105.89 L590.48 91.33 L591.96 126.92 L593.44 126.52 L594.92 126.11 L596.4 125.71 L597.88 125.3 L599.36 88.09 L600.84 105.08 L602.32 122.07 L603.81 120.45 L605.29 118.83 L606.77 98.61 L608.25 109.53 L609.73 120.45 L611.21 117.62 L612.69 114.79 L614.17 98.2 L615.65 81.62 L617.13 111.55 L618.62 110.2 L620.1 108.85 L621.58 107.51 L623.06 112.36 L624.54 101.03 L626.02 89.71 L627.5 96.18 L628.98 84.85 L630.46 86.47 L631.94 88.09 L633.43 76.93 L634.91 94.56 L636.39 106.7 L637.87 118.83 L639.35 105.08 L640.83 91.33 L642.31 77.57 L643.79 94.56 L645.27 82.27 L646.75 89.71 L648.24 96.99 L649.72 104.27 L651.2 56.38 L652.68 89.71 L654.16 72.72 L655.64 80 L657.12 87.69 L658.6 95.37 L660.08 112.36 L661.56 97.8 L663.05 83.24 L664.53 80 L666.01 71.1 L667.49 62.2 L668.97 95.37 L670.45 128.54 L671.93 121.26 L673.41 113.98 L674.89 105.35 L676.38 96.72 L677.86 88.09 L679.34 80.4 L680.82 72.72 L682.3 97.8 L683.78 81.15 L685.26 81.15 L686.74 81.15 L688.22 81.15 L689.7 81.15 L691.18 81.15 L692.67 81.15 L694.15 81.15 L695.63 81.15 L697.11 81.15 L698.59 81.15 L700.07 81.15 L701.55 81.15 L703.03 81.15 L704.51 81.15 L706 81.15 L707.48 81.15 L708.96 81.15 L710.44 81.15 L711.92 81.15 L713.4 81.15 L714.88 81.15 L716.36 81.15 L717.84 81.15 L719.32 81.15 L720.8 81.15 L722.29 81.15 L723.77 81.15 L725.25 81.15 L726.73 81.15 L728.21 81.15 L729.69 81.15 L731.17 81.15 L732.65 81.15 L734.13 81.15 L735.62 81.15 L737.1 81.15 L738.58 81.15 L740.06 81.15 L741.54 81.15 L741.54 175.83 L740.06 175.83 L738.58 175.83 L737.1 175.83 L735.62 175.83 L734.13 175.83 L732.65 175.83 L731.17 175.83 L729.69 175.83 L728.21 175.83 L726.73 175.83 L725.25 175.83 L723.77 175.83 L722.29 175.83 L720.8 175.83 L719.32 175.83 L717.84 175.83 L716.36 175.83 L714.88 175.83 L713.4 175.83 L711.92 175.83 L710.44 175.83 L708.96 175.83 L707.48 175.83 L706 175.83 L704.51 175.83 L703.03 175.83 L701.55 175.83 L700.07 175.83 L698.59 175.83 L697.11 175.83 L695.63 175.83 L694.15 175.83 L692.67 175.83 L691.18 175.83 L689.7 175.83 L688.22 175.83 L686.74 175.83 L685.26 175.83 L683.78 175.83 L682.3 178.97 L680.82 173.3 L679.34 173.71 L677.86 174.11 L676.38 174.38 L674.89 174.65 L673.41 174.92 L671.93 176 L670.45 177.08 L668.97 178.16 L667.49 166.83 L666.01 168.45 L664.53 170.07 L663.05 171.69 L661.56 173.3 L660.08 174.38 L658.6 175.46 L657.12 176.54 L655.64 177.62 L654.16 178.7 L652.68 179.78 L651.2 169.26 L649.72 176.54 L648.24 176 L646.75 175.46 L645.27 174.92 L643.79 178.16 L642.31 177.35 L640.83 176.54 L639.35 175.73 L637.87 176 L636.39 176.27 L634.91 176.54 L633.43 166.83 L631.94 168.45 L630.46 169.46 L628.98 170.47 L627.5 171.48 L626.02 172.49 L624.54 173.3 L623.06 174.11 L621.58 174.92 L620.1 173.57 L618.62 172.23 L617.13 170.88 L615.65 168.05 L614.17 165.21 L612.69 167.37 L611.21 169.53 L609.73 171.69 L608.25 166.02 L606.77 168.45 L605.29 170.88 L603.81 173.3 L602.32 170.07 L600.84 166.83 L599.36 169.53 L597.88 172.23 L596.4 174.92 L594.92 173.57 L593.44 172.23 L591.96 170.88 L590.48 174.92 L589 162.79 L587.51 164.67 L586.03 166.56 L584.55 168.45 L583.07 166.56 L581.59 164.67 L580.11 162.79 L578.63 160.9 L577.15 159.01 L575.67 157.12 L574.19 154.7 L572.7 152.27 L571.22 163.73 L569.74 174.25 L568.26 134.8 L566.78 92.72 L565.3 134.8Z" fill="#001bac" fill-opacity="0.2" stroke="#001bac" stroke-opacity="0.2" stroke-width="1"/>
<path d="M565.3 134.8 L566.78 54.85 L568.26 71.68 L569.74 76.94 L571.22 97.48 L572.7 118.02 L574.19 123.69 L575.67 113.98 L577.15 139.06 L578.63 125.3 L580.11 137.44 L581.59 140.67 L583.07 144.72 L584.55 144.32 L586.03 143.91 L587.51 151.19 L589 129.35 L590.48 139.87 L591.96 150.38 L593.44 150.22 L594.92 150.06 L596.4 149.82 L597.88 149.57 L599.36 130.16 L600.84 144.72 L602.32 146.34 L603.81 143.91 L605.29 148.76 L606.77 135.82 L608.25 136.63 L609.73 147.15 L611.21 145.93 L612.69 144.72 L614.17 122.88 L615.65 132.58 L617.13 142.29 L618.62 141.48 L620.1 141.08 L621.58 140.67 L623.06 144.72 L624.54 131.78 L626.02 134.2 L627.5 132.18 L628.98 130.16 L630.46 127.73 L631.94 135.01 L633.43 121.26 L634.91 139.87 L636.39 144.32 L637.87 148.76 L639.35 133.39 L640.83 129.35 L642.31 125.3 L643.79 136.63 L645.27 128.54 L646.75 135.82 L648.24 141.48 L649.72 128.54 L651.2 115.6 L652.68 147.96 L654.16 120.45 L655.64 135.01 L657.12 135.82 L658.6 136.63 L660.08 143.1 L661.56 128.54 L663.05 126.92 L664.53 121.26 L666.01 118.02 L667.49 114.79 L668.97 152 L670.45 149.57 L671.93 143.1 L673.41 143.51 L674.89 143.91 L676.38 133.39 L677.86 131.78 L679.34 127.33 L680.82 122.88 L682.3 139.06 L683.78 127.7 L685.26 127.7 L686.74 127.7 L688.22 127.7 L689.7 127.7 L691.18 127.7 L692.67 127.7 L694.15 127.7 L695.63 127.7 L697.11 127.7 L698.59 127.7 L700.07 127.7 L701.55 127.7 L703.03 127.7 L704.51 127.7 L706 127.7 L707.48 127.7 L708.96 127.7 L710.44 127.7 L711.92 127.7 L713.4 127.7 L714.88 127.7 L716.36 127.7 L717.84 127.7 L719.32 127.7 L720.8 127.7 L722.29 127.7 L723.77 127.7 L725.25 127.7 L726.73 127.7 L728.21 127.7 L729.69 127.7 L731.17 127.7 L732.65 127.7 L734.13 127.7 L735.62 127.7 L737.1 127.7 L738.58 127.7 L740.06 127.7 L741.54 127.7" fill="none" stroke="#001bac" stroke-width="1.75" stroke-linejoin="round" stroke-linecap="butt"/>
<path d="M565.3 134.8 L566.78 16.98 L568.26 32.76 L569.74 87.46 L571.22 122.72 L572.7 138.88 L574.19 146.35 L575.67 147.58 L577.15 153.98 L578.63 155.88 L580.11 158.59 L581.59 161.08 L583.07 161.49 L584.55 163.87 L586.03 166.14 L587.51 168.49 L589 171.35 L590.48 171.3 L591.96 172.89 L593.44 173.13 L594.92 175.23 L596.4 173.44 L597.88 175.31 L599.36 175.74 L600.84 175.77 L602.32 175.14 L603.81 176.33 L605.29 177.08 L606.77 176.78 L608.25 175.61 L609.73 175.25 L611.21 176.09 L612.69 175.53 L614.17 175.73 L615.65 177 L617.13 177.79 L618.62 176.33 L620.1 176.6 L621.58 177.13 L623.06 177.51 L624.54 177.05 L626.02 176.9 L627.5 177.44 L628.98 177.4 L630.46 176.98 L631.94 175.93 L633.43 176.66 L634.91 177.46 L636.39 177.48 L637.87 177.02 L639.35 177.68 L640.83 177.69 L642.31 176.88 L643.79 178 L645.27 176.96 L646.75 177.29 L648.24 176.38 L649.72 176.29 L651.2 149.53 L652.68 174.8 L654.16 177.28 L655.64 176.51 L657.12 177.38 L658.6 176.77 L660.08 177.43 L661.56 177.12 L663.05 178.13 L664.53 177.66 L666.01 175.75 L667.49 166.89 L668.97 176.49 L670.45 176.6 L671.93 176.42 L673.41 177.08 L674.89 176.76 L676.38 178.16 L677.86 178.15 L679.34 177.82 L680.82 177.95 L682.3 178.09 L683.78 176.35 L685.26 176.35 L686.74 176.35 L688.22 176.35 L689.7 176.35 L691.18 176.35 L692.67 176.35 L694.15 176.35 L695.63 176.35 L697.11 176.35 L698.59 176.35 L700.07 176.35 L701.55 176.35 L703.03 176.35 L704.51 176.35 L706 176.35 L707.48 176.35 L708.96 176.35 L710.44 176.35 L711.92 176.35 L713.4 176.35 L714.88 176.35 L716.36 176.35 L717.84 176.35 L719.32 176.35 L720.8 176.35 L722.29 176.35 L723.77 176.35 L725.25 176.35 L726.73 176.35 L728.21 176.35 L729.69 176.35 L731.17 176.35 L732.65 176.35 L734.13 176.35 L735.62 176.35 L737.1 176.35 L738.58 176.35 L740.06 176.35 L741.54 176.35 L741.54 192.4 L740.06 192.4 L738.58 192.4 L737.1 192.4 L735.62 192.4 L734.13 192.4 L732.65 192.4 L731.17 192.4 L729.69 192.4 L728.21 192.4 L726.73 192.4 L725.25 192.4 L723.77 192.4 L722.29 192.4 L720.8 192.4 L719.32 192.4 L717.84 192.4 L716.36 192.4 L714.88 192.4 L713.4 192.4 L711.92 192.4 L710.44 192.4 L708.96 192.4 L707.48 192.4 L706 192.4 L704.51 192.4 L703.03 192.4 L701.55 192.4 L700.07 192.4 L698.59 192.4 L697.11 192.4 L695.63 192.4 L694.15 192.4 L692.67 192.4 L691.18 192.4 L689.7 192.4 L688.22 192.4 L686.74 192.4 L685.26 192.4 L683.78 192.4 L682.3 191.77 L680.82 191.9 L679.34 192.02 L677.86 191.68 L676.38 191.66 L674.89 193.05 L673.41 192.72 L671.93 193.37 L670.45 193.18 L668.97 193.28 L667.49 193.19 L666.01 194.01 L664.53 192.09 L663.05 191.6 L661.56 192.61 L660.08 192.29 L658.6 192.93 L657.12 192.32 L655.64 193.18 L654.16 192.4 L652.68 191.58 L651.2 196.87 L649.72 193.36 L648.24 193.26 L646.75 192.34 L645.27 192.66 L643.79 191.61 L642.31 192.73 L640.83 191.9 L639.35 191.91 L637.87 192.56 L636.39 192.09 L634.91 192.1 L633.43 192.89 L631.94 193.61 L630.46 192.53 L628.98 192.08 L627.5 192.01 L626.02 192.52 L624.54 192.34 L623.06 191.84 L621.58 192.19 L620.1 192.69 L618.62 192.92 L617.13 191.43 L615.65 192.14 L614.17 193.32 L612.69 193.43 L611.21 192.78 L609.73 193.53 L608.25 193.68 L606.77 191.97 L605.29 191.4 L603.81 191.09 L602.32 192.39 L600.84 192.21 L599.36 190.56 L597.88 192.04 L596.4 191.92 L594.92 191.97 L593.44 191.62 L591.96 191.61 L590.48 192.65 L589 190.94 L587.51 192.12 L586.03 192.31 L584.55 190.06 L583.07 191.73 L581.59 192.94 L580.11 190.83 L578.63 193.96 L577.15 193.7 L575.67 193.38 L574.19 196.98 L572.7 198.83 L571.22 198.43 L569.74 182.14 L568.26 101.14 L566.78 69.58 L565.3 134.8Z" fill="#fff000" fill-opacity="0.2" stroke="#fff000" stroke-opacity="0.2" stroke-width="1"/>
<g fill="#fff000" stroke="#fff000" stroke-width="1.2" stroke-linejoin="round">
<use href="#st" x="565.3" y="134.8"/><use href="#st" x="566.78" y="43.28"/><use href="#st" x="568.26" y="66.95"/><use href="#st" x="569.74" y="134.8"/><use href="#st" x="571.22" y="160.57"/><use href="#st" x="572.7" y="168.86"/><use href="#st" x="574.19" y="171.66"/><use href="#st" x="575.67" y="170.48"/><use href="#st" x="577.15" y="173.84"/><use href="#st" x="578.63" y="174.92"/><use href="#st" x="580.11" y="174.71"/><use href="#st" x="581.59" y="177.01"/><use href="#st" x="583.07" y="176.61"/><use href="#st" x="584.55" y="176.96"/><use href="#st" x="586.03" y="179.23"/><use href="#st" x="587.51" y="180.31"/><use href="#st" x="589" y="181.15"/><use href="#st" x="590.48" y="181.97"/><use href="#st" x="591.96" y="182.25"/><use href="#st" x="593.44" y="182.37"/><use href="#st" x="594.92" y="183.6"/><use href="#st" x="596.4" y="182.68"/><use href="#st" x="597.88" y="183.68"/><use href="#st" x="599.36" y="183.15"/><use href="#st" x="600.84" y="183.99"/><use href="#st" x="602.32" y="183.76"/><use href="#st" x="603.81" y="183.71"/><use href="#st" x="605.29" y="184.24"/><use href="#st" x="606.77" y="184.37"/><use href="#st" x="608.25" y="184.64"/><use href="#st" x="609.73" y="184.39"/><use href="#st" x="611.21" y="184.44"/><use href="#st" x="612.69" y="184.48"/><use href="#st" x="614.17" y="184.52"/><use href="#st" x="615.65" y="184.57"/><use href="#st" x="617.13" y="184.61"/><use href="#st" x="618.62" y="184.63"/><use href="#st" x="620.1" y="184.64"/><use href="#st" x="621.58" y="184.66"/><use href="#st" x="623.06" y="184.68"/><use href="#st" x="624.54" y="184.69"/><use href="#st" x="626.02" y="184.71"/><use href="#st" x="627.5" y="184.72"/><use href="#st" x="628.98" y="184.74"/><use href="#st" x="630.46" y="184.75"/><use href="#st" x="631.94" y="184.77"/><use href="#st" x="633.43" y="184.77"/><use href="#st" x="634.91" y="184.78"/><use href="#st" x="636.39" y="184.78"/><use href="#st" x="637.87" y="184.79"/><use href="#st" x="639.35" y="184.79"/><use href="#st" x="640.83" y="184.8"/><use href="#st" x="642.31" y="184.8"/><use href="#st" x="643.79" y="184.81"/><use href="#st" x="645.27" y="184.81"/><use href="#st" x="646.75" y="184.82"/><use href="#st" x="648.24" y="184.82"/><use href="#st" x="649.72" y="184.83"/><use href="#st" x="651.2" y="173.2"/><use href="#st" x="652.68" y="183.19"/><use href="#st" x="654.16" y="184.84"/><use href="#st" x="655.64" y="184.84"/><use href="#st" x="657.12" y="184.85"/><use href="#st" x="658.6" y="184.85"/><use href="#st" x="660.08" y="184.86"/><use href="#st" x="661.56" y="184.86"/><use href="#st" x="663.05" y="184.87"/><use href="#st" x="664.53" y="184.87"/><use href="#st" x="666.01" y="184.88"/><use href="#st" x="667.49" y="180.04"/><use href="#st" x="668.97" y="184.89"/><use href="#st" x="670.45" y="184.89"/><use href="#st" x="671.93" y="184.9"/><use href="#st" x="673.41" y="184.9"/><use href="#st" x="674.89" y="184.9"/><use href="#st" x="676.38" y="184.91"/><use href="#st" x="677.86" y="184.91"/><use href="#st" x="679.34" y="184.92"/><use href="#st" x="680.82" y="184.92"/><use href="#st" x="682.3" y="184.93"/><use href="#st" x="683.78" y="184.98"/><use href="#st" x="685.26" y="184.98"/><use href="#st" x="686.74" y="184.98"/><use href="#st" x="688.22" y="184.98"/><use href="#st" x="689.7" y="184.98"/><use href="#st" x="691.18" y="184.98"/><use href="#st" x="692.67" y="184.98"/><use href="#st" x="694.15" y="184.98"/><use href="#st" x="695.63" y="184.98"/><use href="#st" x="697.11" y="184.98"/><use href="#st" x="698.59" y="184.98"/><use href="#st" x="700.07" y="184.98"/><use href="#st" x="701.55" y="184.98"/><use href="#st" x="703.03" y="184.98"/><use href="#st" x="704.51" y="184.98"/><use href="#st" x="706" y="184.98"/><use href="#st" x="707.48" y="184.98"/><use href="#st" x="708.96" y="184.98"/><use href="#st" x="710.44" y="184.98"/><use href="#st" x="711.92" y="184.98"/><use href="#st" x="713.4" y="184.98"/><use href="#st" x="714.88" y="184.98"/><use href="#st" x="716.36" y="184.98"/><use href="#st" x="717.84" y="184.98"/><use href="#st" x="719.32" y="184.98"/><use href="#st" x="720.8" y="184.98"/><use href="#st" x="722.29" y="184.98"/><use href="#st" x="723.77" y="184.98"/><use href="#st" x="725.25" y="184.98"/><use href="#st" x="726.73" y="184.98"/><use href="#st" x="728.21" y="184.98"/><use href="#st" x="729.69" y="184.98"/><use href="#st" x="731.17" y="184.98"/><use href="#st" x="732.65" y="184.98"/><use href="#st" x="734.13" y="184.98"/><use href="#st" x="735.62" y="184.98"/><use href="#st" x="737.1" y="184.98"/><use href="#st" x="738.58" y="184.98"/><use href="#st" x="740.06" y="184.98"/><use href="#st" x="741.54" y="184.98"/>
</g>
</g>
<rect x="656.9" y="13.4" width="87" height="40" rx="2.4" ry="2.4" fill="#fff" fill-opacity="0.8" stroke="#ccc" stroke-opacity="0.8" stroke-width="0.9"/>
<path d="M662.05 23.4 H685.45" stroke="#001bac" stroke-width="1.9" stroke-linecap="square" fill="none"/>
<use href="#st" x="674.1" y="41.7" fill="#fff000" stroke="#fff000" stroke-width="1.2" stroke-linejoin="round"/>
<text x="695.51" y="28.7" font-size="11.6" textLength="26.95" lengthAdjust="spacingAndGlyphs">cls_2</text>
<text x="695.23" y="46" font-size="11.6" textLength="41.42" lengthAdjust="spacingAndGlyphs">noise_2</text>
<rect x="557.4" y="8" width="192.4" height="202.9" fill="none" stroke="#000" stroke-width="1"/>
<text x="561.76" y="228.7" font-size="11.6" textLength="6.5" lengthAdjust="spacingAndGlyphs">0</text>
<text x="632.27" y="228.7" font-size="11.6" textLength="13.56" lengthAdjust="spacingAndGlyphs">50</text>
<text x="702.53" y="228.7" font-size="11.6" textLength="20.68" lengthAdjust="spacingAndGlyphs">100</text>
<text x="530.32" y="191.8" font-size="11.6" textLength="17.15" lengthAdjust="spacingAndGlyphs">0.0</text>
<text x="530.54" y="165.5" font-size="11.6" textLength="16.95" lengthAdjust="spacingAndGlyphs">0.5</text>
<text x="530.33" y="139.2" font-size="11.6" textLength="17.14" lengthAdjust="spacingAndGlyphs">1.0</text>
<text x="530.56" y="112.9" font-size="11.6" textLength="16.93" lengthAdjust="spacingAndGlyphs">1.5</text>
<text x="530.24" y="86.6" font-size="11.6" textLength="17.22" lengthAdjust="spacingAndGlyphs">2.0</text>
<text x="530.47" y="60.3" font-size="11.6" textLength="17.02" lengthAdjust="spacingAndGlyphs">2.5</text>
<text x="530.43" y="34" font-size="11.6" textLength="17.03" lengthAdjust="spacingAndGlyphs">3.0</text>
<path d="M565.3 210.9v3.9M639.35 210.9v3.9M713.4 210.9v3.9M557.4 187.4h-3.9M557.4 161.1h-3.9M557.4 134.8h-3.9M557.4 108.5h-3.9M557.4 82.2h-3.9M557.4 55.9h-3.9M557.4 29.6h-3.9" stroke="#000" stroke-width="1" fill="none"/>
<text x="633.29" y="247.5" font-size="14.2" textLength="40.34" lengthAdjust="spacingAndGlyphs">epoch</text>
<g transform="translate(522.2 110.05) rotate(-90)"><text x="-22.06" y="0" font-size="14.2" textLength="44.17" lengthAdjust="spacingAndGlyphs">weight</text></g>
<g clip-path="url(#c3)">
<path d="M821.5 133.3 L822.97 19.12 L824.45 24.31 L825.92 32.27 L827.39 39.55 L828.87 46.83 L830.34 54.92 L831.81 63.01 L833.28 54.92 L834.76 63.82 L836.23 72.72 L837.7 67.87 L839.18 74.34 L840.65 80.81 L842.12 80 L843.6 83.64 L845.07 87.28 L846.54 54.11 L848.01 82.43 L849.49 77.57 L850.96 72.72 L852.43 72.32 L853.91 71.91 L855.38 47.64 L856.85 60.18 L858.33 72.72 L859.8 75.96 L861.27 79.19 L862.74 59.78 L864.22 60.58 L865.69 61.39 L867.16 64.63 L868.64 56 L870.11 47.37 L871.58 38.74 L873.05 53.3 L874.53 54.92 L876 51.69 L877.47 48.45 L878.95 56.54 L880.42 64.63 L881.89 54.92 L883.37 50.07 L884.84 45.21 L886.31 40.36 L887.78 45.21 L889.26 34.7 L890.73 54.92 L892.2 54.52 L893.68 54.11 L895.15 45.21 L896.62 36.31 L898.1 40.36 L899.57 35.91 L901.04 31.46 L902.51 38.34 L903.99 45.21 L905.46 38.74 L906.93 32.27 L908.41 66.25 L909.88 50.88 L911.35 35.51 L912.83 45.21 L914.3 42.79 L915.77 40.36 L917.25 38.34 L918.72 36.31 L920.19 34.29 L921.66 32.27 L923.14 40.36 L924.61 84.05 L926.08 70.29 L927.56 56.54 L929.03 56.54 L930.5 61.39 L931.98 52.49 L933.45 43.6 L934.92 37.93 L936.39 32.27 L937.87 48.45 L939.34 33.65 L940.81 33.65 L942.29 33.65 L943.76 33.65 L945.23 33.65 L946.71 33.65 L948.18 33.65 L949.65 33.65 L951.12 33.65 L952.6 33.65 L954.07 33.65 L955.54 33.65 L957.02 33.65 L958.49 33.65 L959.96 33.65 L961.43 33.65 L962.91 33.65 L964.38 33.65 L965.85 33.65 L967.33 33.65 L968.8 33.65 L970.27 33.65 L971.75 33.65 L973.22 33.65 L974.69 33.65 L976.16 33.65 L977.64 33.65 L979.11 33.65 L980.58 33.65 L982.06 33.65 L983.53 33.65 L985 33.65 L986.48 33.65 L987.95 33.65 L989.42 33.65 L990.89 33.65 L992.37 33.65 L993.84 33.65 L995.31 33.65 L996.79 33.65 L996.79 140.57 L995.31 140.57 L993.84 140.57 L992.37 140.57 L990.89 140.57 L989.42 140.57 L987.95 140.57 L986.48 140.57 L985 140.57 L983.53 140.57 L982.06 140.57 L980.58 140.57 L979.11 140.57 L977.64 140.57 L976.16 140.57 L974.69 140.57 L973.22 140.57 L971.75 140.57 L970.27 140.57 L968.8 140.57 L967.33 140.57 L965.85 140.57 L964.38 140.57 L962.91 140.57 L961.43 140.57 L959.96 140.57 L958.49 140.57 L957.02 140.57 L955.54 140.57 L954.07 140.57 L952.6 140.57 L951.12 140.57 L949.65 140.57 L948.18 140.57 L946.71 140.57 L945.23 140.57 L943.76 140.57 L942.29 140.57 L940.81 140.57 L939.34 140.57 L937.87 147.42 L936.39 139.33 L934.92 131.24 L933.45 145.8 L931.98 146.61 L930.5 147.42 L929.03 145.8 L927.56 144.18 L926.08 149.03 L924.61 153.89 L923.14 131.24 L921.66 136.09 L920.19 137.71 L918.72 139.33 L917.25 141.75 L915.77 144.18 L914.3 146.61 L912.83 149.03 L911.35 149.57 L909.88 150.11 L908.41 150.65 L906.93 146.61 L905.46 142.56 L903.99 138.52 L902.51 134.47 L901.04 139.33 L899.57 144.18 L898.1 140.94 L896.62 137.71 L895.15 141.75 L893.68 145.8 L892.2 147.01 L890.73 148.22 L889.26 142.97 L887.78 137.71 L886.31 137.17 L884.84 136.63 L883.37 136.09 L881.89 139.87 L880.42 143.64 L878.95 147.42 L877.47 143.37 L876 139.33 L874.53 138.52 L873.05 137.71 L871.58 133.66 L870.11 129.62 L868.64 136.09 L867.16 142.56 L865.69 137.71 L864.22 132.85 L862.74 139.33 L861.27 145.8 L859.8 141.75 L858.33 137.71 L856.85 140.13 L855.38 142.56 L853.91 143.64 L852.43 144.72 L850.96 145.8 L849.49 144.99 L848.01 144.18 L846.54 136.9 L845.07 129.62 L843.6 137.71 L842.12 145.8 L840.65 139.33 L839.18 137.17 L837.7 135.01 L836.23 132.85 L834.76 130.16 L833.28 127.46 L831.81 124.76 L830.34 118.29 L828.87 111.82 L827.39 106.99 L825.92 102.16 L824.45 91.78 L822.97 81.4 L821.5 133.3Z" fill="#0063ff" fill-opacity="0.2" stroke="#0063ff" stroke-opacity="0.2" stroke-width="1"/>
<path d="M821.5 133.3 L822.97 48.7 L824.45 58.04 L825.92 64.85 L827.39 94.79 L828.87 100.45 L830.34 83.46 L831.81 102.88 L833.28 89.93 L834.76 99.64 L836.23 98.02 L837.7 101.66 L839.18 105.3 L840.65 108.54 L842.12 113.8 L843.6 119.06 L845.07 92.36 L846.54 102.88 L848.01 113.39 L849.49 110.16 L850.96 109.62 L852.43 109.08 L853.91 108.54 L855.38 93.17 L856.85 107.73 L858.33 105.3 L859.8 109.75 L861.27 114.2 L862.74 98.83 L864.22 97.21 L865.69 100.05 L867.16 102.88 L868.64 102.07 L870.11 77.8 L871.58 81.03 L873.05 95.6 L874.53 96.4 L876 95.19 L877.47 93.98 L878.95 106.11 L880.42 97.21 L881.89 102.88 L883.37 90.74 L884.84 89.53 L886.31 88.31 L887.78 94.79 L889.26 81.03 L890.73 102.07 L892.2 101.66 L893.68 101.26 L895.15 87.51 L896.62 85.89 L898.1 91.55 L899.57 86.7 L901.04 81.84 L902.51 89.12 L903.99 94.79 L905.46 87.51 L906.93 98.02 L908.41 108.54 L909.88 81.84 L911.35 100.45 L912.83 99.24 L914.3 98.02 L915.77 98.83 L917.25 95.6 L918.72 92.36 L920.19 84.27 L921.66 83.46 L923.14 82.65 L924.61 119.06 L926.08 108.54 L927.56 98.02 L929.03 104.49 L930.5 94.79 L931.98 92.36 L933.45 86.7 L934.92 81.03 L936.39 94.79 L937.87 87.51 L939.34 87.63 L940.81 87.63 L942.29 87.63 L943.76 87.63 L945.23 87.63 L946.71 87.63 L948.18 87.63 L949.65 87.63 L951.12 87.63 L952.6 87.63 L954.07 87.63 L955.54 87.63 L957.02 87.63 L958.49 87.63 L959.96 87.63 L961.43 87.63 L962.91 87.63 L964.38 87.63 L965.85 87.63 L967.33 87.63 L968.8 87.63 L970.27 87.63 L971.75 87.63 L973.22 87.63 L974.69 87.63 L976.16 87.63 L977.64 87.63 L979.11 87.63 L980.58 87.63 L982.06 87.63 L983.53 87.63 L985 87.63 L986.48 87.63 L987.95 87.63 L989.42 87.63 L990.89 87.63 L992.37 87.63 L993.84 87.63 L995.31 87.63 L996.79 87.63" fill="none" stroke="#0063ff" stroke-width="1.75" stroke-linejoin="round" stroke-linecap="butt"/>
<path d="M821.5 133.3 L822.97 19.12 L824.45 28.46 L825.92 38.84 L827.39 129.15 L828.87 111.5 L830.34 128.63 L831.81 110.98 L833.28 119.81 L834.76 135.89 L836.23 140.57 L837.7 146.18 L839.18 146.18 L840.65 146.85 L842.12 151.47 L843.6 150.64 L845.07 151.96 L846.54 123.96 L848.01 152.37 L849.49 149.52 L850.96 151.66 L852.43 149.55 L853.91 149.54 L855.38 126.55 L856.85 151.96 L858.33 152.79 L859.8 151.15 L861.27 153.02 L862.74 150.74 L864.22 151.23 L865.69 151.38 L867.16 149.58 L868.64 150.36 L870.11 133.3 L871.58 149.42 L873.05 151.84 L874.53 152.43 L876 151.56 L877.47 151.77 L878.95 150.48 L880.42 150.75 L881.89 150.04 L883.37 149.08 L884.84 150.39 L886.31 149.78 L887.78 150.42 L889.26 150.88 L890.73 153.27 L892.2 152.85 L893.68 152.63 L895.15 151.79 L896.62 153.45 L898.1 152.59 L899.57 153.98 L901.04 152.51 L902.51 153.49 L903.99 151.2 L905.46 152.2 L906.93 100.6 L908.41 147.57 L909.88 150.2 L911.35 152.8 L912.83 153.55 L914.3 152.8 L915.77 151.43 L917.25 151.38 L918.72 151.69 L920.19 152.76 L921.66 150.12 L923.14 130.7 L924.61 150.74 L926.08 151.27 L927.56 152.98 L929.03 152.7 L930.5 154.38 L931.98 152.38 L933.45 153.14 L934.92 150.59 L936.39 151.89 L937.87 151.67 L939.34 152.24 L940.81 152.24 L942.29 152.24 L943.76 152.24 L945.23 152.24 L946.71 152.24 L948.18 152.24 L949.65 152.24 L951.12 152.24 L952.6 152.24 L954.07 152.24 L955.54 152.24 L957.02 152.24 L958.49 152.24 L959.96 152.24 L961.43 152.24 L962.91 152.24 L964.38 152.24 L965.85 152.24 L967.33 152.24 L968.8 152.24 L970.27 152.24 L971.75 152.24 L973.22 152.24 L974.69 152.24 L976.16 152.24 L977.64 152.24 L979.11 152.24 L980.58 152.24 L982.06 152.24 L983.53 152.24 L985 152.24 L986.48 152.24 L987.95 152.24 L989.42 152.24 L990.89 152.24 L992.37 152.24 L993.84 152.24 L995.31 152.24 L996.79 152.24 L996.79 199.99 L995.31 199.99 L993.84 199.99 L992.37 199.99 L990.89 199.99 L989.42 199.99 L987.95 199.99 L986.48 199.99 L985 199.99 L983.53 199.99 L982.06 199.99 L980.58 199.99 L979.11 199.99 L977.64 199.99 L976.16 199.99 L974.69 199.99 L973.22 199.99 L971.75 199.99 L970.27 199.99 L968.8 199.99 L967.33 199.99 L965.85 199.99 L964.38 199.99 L962.91 199.99 L961.43 199.99 L959.96 199.99 L958.49 199.99 L957.02 199.99 L955.54 199.99 L954.07 199.99 L952.6 199.99 L951.12 199.99 L949.65 199.99 L948.18 199.99 L946.71 199.99 L945.23 199.99 L943.76 199.99 L942.29 199.99 L940.81 199.99 L939.34 199.99 L937.87 198.55 L936.39 197.75 L934.92 198.01 L933.45 197.54 L931.98 199.34 L930.5 198.38 L929.03 199.44 L927.56 199.63 L926.08 198.36 L924.61 198.4 L923.14 198.25 L921.66 197.44 L920.19 196.88 L918.72 198.24 L917.25 198.43 L915.77 200.29 L914.3 199.96 L912.83 199.21 L911.35 198.29 L909.88 198.68 L908.41 193.76 L906.93 198.56 L905.46 198.48 L903.99 200.52 L902.51 198.22 L901.04 198.02 L899.57 198.72 L898.1 198.33 L896.62 199.3 L895.15 198.02 L893.68 200.12 L892.2 197.84 L890.73 198.04 L889.26 198.5 L887.78 197.14 L886.31 195.71 L884.84 195.1 L883.37 197.45 L881.89 197.52 L880.42 196.82 L878.95 198.12 L877.47 197.87 L876 199.12 L874.53 199.29 L873.05 198.83 L871.58 194 L870.11 198.55 L868.64 197.2 L867.16 197.68 L865.69 198.26 L864.22 197.37 L862.74 198.1 L861.27 197.66 L859.8 198.49 L858.33 196.85 L856.85 196.64 L855.38 199.21 L853.91 198.03 L852.43 199.05 L850.96 197.98 L849.49 197.67 L848.01 196.24 L846.54 196.62 L845.07 195.61 L843.6 197.89 L842.12 196.09 L840.65 196.57 L839.18 195.15 L837.7 191.01 L836.23 194.54 L834.76 196.1 L833.28 192.47 L831.81 188.83 L830.34 196.1 L828.87 194.54 L827.39 196.62 L825.92 173.78 L824.45 90.74 L822.97 65.83 L821.5 133.3Z" fill="#ffd303" fill-opacity="0.2" stroke="#ffd303" stroke-opacity="0.2" stroke-width="1"/>
<g fill="#ffd303" stroke="#ffd303" stroke-width="1.2" stroke-linejoin="round">
<use href="#st" x="821.5" y="133.3"/><use href="#st" x="822.97" y="42.47"/><use href="#st" x="824.45" y="59.6"/><use href="#st" x="825.92" y="106.31"/><use href="#st" x="827.39" y="162.88"/><use href="#st" x="828.87" y="153.02"/><use href="#st" x="830.34" y="162.36"/><use href="#st" x="831.81" y="149.91"/><use href="#st" x="833.28" y="156.14"/><use href="#st" x="834.76" y="166"/><use href="#st" x="836.23" y="167.55"/><use href="#st" x="837.7" y="168.59"/><use href="#st" x="839.18" y="170.67"/><use href="#st" x="840.65" y="171.71"/><use href="#st" x="842.12" y="173.78"/><use href="#st" x="843.6" y="174.3"/><use href="#st" x="845.07" y="173.78"/><use href="#st" x="846.54" y="160.29"/><use href="#st" x="848.01" y="174.3"/><use href="#st" x="849.49" y="174.3"/><use href="#st" x="850.96" y="174.82"/><use href="#st" x="852.43" y="174.3"/><use href="#st" x="853.91" y="173.78"/><use href="#st" x="855.38" y="162.88"/><use href="#st" x="856.85" y="174.3"/><use href="#st" x="858.33" y="174.82"/><use href="#st" x="859.8" y="174.82"/><use href="#st" x="861.27" y="175.34"/><use href="#st" x="862.74" y="174.82"/><use href="#st" x="864.22" y="174.3"/><use href="#st" x="865.69" y="174.82"/><use href="#st" x="867.16" y="174.3"/><use href="#st" x="868.64" y="173.78"/><use href="#st" x="870.11" y="167.03"/><use href="#st" x="871.58" y="171.71"/><use href="#st" x="873.05" y="175.34"/><use href="#st" x="874.53" y="175.86"/><use href="#st" x="876" y="175.34"/><use href="#st" x="877.47" y="174.82"/><use href="#st" x="878.95" y="174.3"/><use href="#st" x="880.42" y="173.78"/><use href="#st" x="881.89" y="173.78"/><use href="#st" x="883.37" y="173.26"/><use href="#st" x="884.84" y="172.74"/><use href="#st" x="886.31" y="172.74"/><use href="#st" x="887.78" y="173.78"/><use href="#st" x="889.26" y="174.82"/><use href="#st" x="890.73" y="175.86"/><use href="#st" x="892.2" y="176.38"/><use href="#st" x="893.68" y="176.38"/><use href="#st" x="895.15" y="176.38"/><use href="#st" x="896.62" y="176.38"/><use href="#st" x="898.1" y="176.38"/><use href="#st" x="899.57" y="176.38"/><use href="#st" x="901.04" y="175.86"/><use href="#st" x="902.51" y="175.86"/><use href="#st" x="903.99" y="175.86"/><use href="#st" x="905.46" y="175.34"/><use href="#st" x="906.93" y="152.5"/><use href="#st" x="908.41" y="170.67"/><use href="#st" x="909.88" y="174.82"/><use href="#st" x="911.35" y="175.86"/><use href="#st" x="912.83" y="176.38"/><use href="#st" x="914.3" y="176.38"/><use href="#st" x="915.77" y="175.86"/><use href="#st" x="917.25" y="175.86"/><use href="#st" x="918.72" y="175.34"/><use href="#st" x="920.19" y="174.82"/><use href="#st" x="921.66" y="173.78"/><use href="#st" x="923.14" y="167.03"/><use href="#st" x="924.61" y="174.82"/><use href="#st" x="926.08" y="175.86"/><use href="#st" x="927.56" y="176.38"/><use href="#st" x="929.03" y="176.38"/><use href="#st" x="930.5" y="176.38"/><use href="#st" x="931.98" y="175.86"/><use href="#st" x="933.45" y="175.34"/><use href="#st" x="934.92" y="174.3"/><use href="#st" x="936.39" y="174.82"/><use href="#st" x="937.87" y="175.86"/><use href="#st" x="939.34" y="176.53"/><use href="#st" x="940.81" y="176.53"/><use href="#st" x="942.29" y="176.53"/><use href="#st" x="943.76" y="176.53"/><use href="#st" x="945.23" y="176.53"/><use href="#st" x="946.71" y="176.53"/><use href="#st" x="948.18" y="176.53"/><use href="#st" x="949.65" y="176.53"/><use href="#st" x="951.12" y="176.53"/><use href="#st" x="952.6" y="176.53"/><use href="#st" x="954.07" y="176.53"/><use href="#st" x="955.54" y="176.53"/><use href="#st" x="957.02" y="176.53"/><use href="#st" x="958.49" y="176.53"/><use href="#st" x="959.96" y="176.53"/><use href="#st" x="961.43" y="176.53"/><use href="#st" x="962.91" y="176.53"/><use href="#st" x="964.38" y="176.53"/><use href="#st" x="965.85" y="176.53"/><use href="#st" x="967.33" y="176.53"/><use href="#st" x="968.8" y="176.53"/><use href="#st" x="970.27" y="176.53"/><use href="#st" x="971.75" y="176.53"/><use href="#st" x="973.22" y="176.53"/><use href="#st" x="974.69" y="176.53"/><use href="#st" x="976.16" y="176.53"/><use href="#st" x="977.64" y="176.53"/><use href="#st" x="979.11" y="176.53"/><use href="#st" x="980.58" y="176.53"/><use href="#st" x="982.06" y="176.53"/><use href="#st" x="983.53" y="176.53"/><use href="#st" x="985" y="176.53"/><use href="#st" x="986.48" y="176.53"/><use href="#st" x="987.95" y="176.53"/><use href="#st" x="989.42" y="176.53"/><use href="#st" x="990.89" y="176.53"/><use href="#st" x="992.37" y="176.53"/><use href="#st" x="993.84" y="176.53"/><use href="#st" x="995.31" y="176.53"/><use href="#st" x="996.79" y="176.53"/>
</g>
</g>
<rect x="913.1" y="13.4" width="87" height="40" rx="2.4" ry="2.4" fill="#fff" fill-opacity="0.8" stroke="#ccc" stroke-opacity="0.8" stroke-width="0.9"/>
<path d="M918.25 23.4 H941.65" stroke="#0063ff" stroke-width="1.9" stroke-linecap="square" fill="none"/>
<use href="#st" x="930.3" y="41.7" fill="#ffd303" stroke="#ffd303" stroke-width="1.2" stroke-linejoin="round"/>
<text x="951.71" y="28.7" font-size="11.6" textLength="27.12" lengthAdjust="spacingAndGlyphs">cls_3</text>
<text x="951.43" y="46" font-size="11.6" textLength="41.58" lengthAdjust="spacingAndGlyphs">noise_3</text>
<rect x="813.3" y="8" width="192.7" height="202.9" fill="none" stroke="#000" stroke-width="1"/>
<text x="817.96" y="228.7" font-size="11.6" textLength="6.5" lengthAdjust="spacingAndGlyphs">0</text>
<text x="888.07" y="228.7" font-size="11.6" textLength="13.56" lengthAdjust="spacingAndGlyphs">50</text>
<text x="957.93" y="228.7" font-size="11.6" textLength="20.68" lengthAdjust="spacingAndGlyphs">100</text>
<text x="778.11" y="215.55" font-size="11.6" textLength="26.03" lengthAdjust="spacingAndGlyphs">−0.5</text>
<text x="786.92" y="189.6" font-size="11.6" textLength="17.15" lengthAdjust="spacingAndGlyphs">0.0</text>
<text x="787.14" y="163.65" font-size="11.6" textLength="16.95" lengthAdjust="spacingAndGlyphs">0.5</text>
<text x="786.93" y="137.7" font-size="11.6" textLength="17.14" lengthAdjust="spacingAndGlyphs">1.0</text>
<text x="787.16" y="111.75" font-size="11.6" textLength="16.93" lengthAdjust="spacingAndGlyphs">1.5</text>
<text x="786.84" y="85.8" font-size="11.6" textLength="17.22" lengthAdjust="spacingAndGlyphs">2.0</text>
<text x="787.07" y="59.85" font-size="11.6" textLength="17.02" lengthAdjust="spacingAndGlyphs">2.5</text>
<text x="787.03" y="33.9" font-size="11.6" textLength="17.03" lengthAdjust="spacingAndGlyphs">3.0</text>
<path d="M821.5 210.9v3.9M895.15 210.9v3.9M968.8 210.9v3.9M813.3 211.15h-3.9M813.3 185.2h-3.9M813.3 159.25h-3.9M813.3 133.3h-3.9M813.3 107.35h-3.9M813.3 81.4h-3.9M813.3 55.45h-3.9M813.3 29.5h-3.9" stroke="#000" stroke-width="1" fill="none"/>
<text x="889.34" y="247.5" font-size="14.2" textLength="40.34" lengthAdjust="spacingAndGlyphs">epoch</text>
<g transform="translate(769.55 110.05) rotate(-90)"><text x="-22.06" y="0" font-size="14.2" textLength="44.17" lengthAdjust="spacingAndGlyphs">weight</text></g>
<g clip-path="url(#c4)">
<path d="M1077.5 133.1 L1078.97 29.03 L1080.44 28.22 L1081.91 27.42 L1083.38 30.65 L1084.85 33.89 L1086.32 29.03 L1087.79 34.7 L1089.26 40.36 L1090.73 44 L1092.2 47.64 L1093.67 37.93 L1095.14 39.96 L1096.61 41.98 L1098.08 45.21 L1099.55 37.93 L1101.02 30.65 L1102.49 35.51 L1103.96 40.36 L1105.43 39.28 L1106.9 38.2 L1108.37 37.12 L1109.84 33.89 L1111.31 30.65 L1112.78 35.51 L1114.25 32.27 L1115.72 29.03 L1117.19 27.42 L1118.66 25.8 L1120.13 25.19 L1121.6 24.58 L1123.07 23.98 L1124.54 23.37 L1126.01 22.56 L1127.48 21.75 L1128.95 20.67 L1130.42 19.6 L1131.89 18.52 L1133.36 19.33 L1134.83 20.13 L1136.3 20.94 L1137.77 30.65 L1139.24 25.8 L1140.71 20.94 L1142.18 20.13 L1143.65 19.33 L1145.12 19.6 L1146.59 19.87 L1148.06 20.13 L1149.53 18.92 L1151 17.71 L1152.47 17.79 L1153.94 17.87 L1155.41 17.95 L1156.88 18.03 L1158.35 18.46 L1159.82 18.89 L1161.29 19.33 L1162.76 25.39 L1164.23 31.46 L1165.7 20.94 L1167.17 20.67 L1168.64 20.4 L1170.11 20.13 L1171.58 19.73 L1173.05 19.33 L1174.52 18.92 L1175.99 18.52 L1177.46 20.13 L1178.93 29.03 L1180.4 37.93 L1181.87 29.03 L1183.34 20.13 L1184.81 19.08 L1186.28 18.03 L1187.75 18.03 L1189.22 18.03 L1190.69 18.03 L1192.16 18.03 L1193.63 18.03 L1195.1 18.19 L1196.57 18.19 L1198.04 18.19 L1199.51 18.19 L1200.98 18.19 L1202.45 18.19 L1203.92 18.19 L1205.39 18.19 L1206.86 18.19 L1208.33 18.19 L1209.8 18.19 L1211.27 18.19 L1212.74 18.19 L1214.21 18.19 L1215.68 18.19 L1217.15 18.19 L1218.62 18.19 L1220.09 18.19 L1221.56 18.19 L1223.03 18.19 L1224.5 18.19 L1225.97 18.19 L1227.44 18.19 L1228.91 18.19 L1230.38 18.19 L1231.85 18.19 L1233.32 18.19 L1234.79 18.19 L1236.26 18.19 L1237.73 18.19 L1239.2 18.19 L1240.67 18.19 L1242.14 18.19 L1243.61 18.19 L1245.08 18.19 L1246.55 18.19 L1248.02 18.19 L1249.49 18.19 L1250.96 18.19 L1252.43 18.19 L1252.43 88.11 L1250.96 88.11 L1249.49 88.11 L1248.02 88.11 L1246.55 88.11 L1245.08 88.11 L1243.61 88.11 L1242.14 88.11 L1240.67 88.11 L1239.2 88.11 L1237.73 88.11 L1236.26 88.11 L1234.79 88.11 L1233.32 88.11 L1231.85 88.11 L1230.38 88.11 L1228.91 88.11 L1227.44 88.11 L1225.97 88.11 L1224.5 88.11 L1223.03 88.11 L1221.56 88.11 L1220.09 88.11 L1218.62 88.11 L1217.15 88.11 L1215.68 88.11 L1214.21 88.11 L1212.74 88.11 L1211.27 88.11 L1209.8 88.11 L1208.33 88.11 L1206.86 88.11 L1205.39 88.11 L1203.92 88.11 L1202.45 88.11 L1200.98 88.11 L1199.51 88.11 L1198.04 88.11 L1196.57 88.11 L1195.1 88.11 L1193.63 88.61 L1192.16 88.61 L1190.69 88.81 L1189.22 89.01 L1187.75 89.21 L1186.28 89.42 L1184.81 91.03 L1183.34 92.65 L1181.87 102.36 L1180.4 112.07 L1178.93 99.93 L1177.46 87.8 L1175.99 89.42 L1174.52 90.22 L1173.05 91.03 L1171.58 91.84 L1170.11 92.65 L1168.64 95.08 L1167.17 97.51 L1165.7 110.45 L1164.23 106.4 L1162.76 102.36 L1161.29 93.87 L1159.82 85.37 L1158.35 87.39 L1156.88 89.42 L1155.41 91.57 L1153.94 93.73 L1152.47 95.89 L1151 100.74 L1149.53 105.6 L1148.06 103.98 L1146.59 102.36 L1145.12 94.27 L1143.65 86.18 L1142.18 86.58 L1140.71 86.99 L1139.24 95.48 L1137.77 103.98 L1136.3 99.12 L1134.83 94.27 L1133.36 97.51 L1131.89 100.74 L1130.42 99.12 L1128.95 97.51 L1127.48 90.63 L1126.01 83.75 L1124.54 87.26 L1123.07 90.76 L1121.6 94.27 L1120.13 99.53 L1118.66 104.79 L1117.19 101.96 L1115.72 99.12 L1114.25 103.17 L1112.78 107.21 L1111.31 110.45 L1109.84 113.69 L1108.37 116.92 L1106.9 112.88 L1105.43 108.83 L1103.96 104.79 L1102.49 100.74 L1101.02 104.52 L1099.55 108.29 L1098.08 112.07 L1096.61 109.64 L1095.14 107.21 L1093.67 106.4 L1092.2 105.6 L1090.73 104.52 L1089.26 103.44 L1087.79 102.36 L1086.32 97.51 L1084.85 92.65 L1083.38 79.71 L1081.91 71.54 L1080.44 66.41 L1078.97 66.41 L1077.5 133.1Z" fill="#00d7ff" fill-opacity="0.2" stroke="#00d7ff" stroke-opacity="0.2" stroke-width="1"/>
<path d="M1077.5 133.1 L1078.97 46.02 L1080.44 46.02 L1081.91 46.02 L1083.38 58.16 L1084.85 67.87 L1086.32 59.78 L1087.79 64.63 L1089.26 71.1 L1090.73 74.34 L1092.2 70.29 L1093.67 71.91 L1095.14 73.53 L1096.61 72.72 L1098.08 79.19 L1099.55 71.91 L1101.02 64.63 L1102.49 68.67 L1103.96 71.91 L1105.43 75.15 L1106.9 78.38 L1108.37 76.76 L1109.84 73.12 L1111.31 69.48 L1112.78 70.29 L1114.25 64.63 L1115.72 66.65 L1117.19 68.67 L1118.66 59.78 L1120.13 62.61 L1121.6 65.44 L1123.07 61.39 L1124.54 57.35 L1126.01 53.3 L1127.48 58.97 L1128.95 59.37 L1130.42 59.78 L1131.89 57.75 L1133.36 55.73 L1134.83 56.54 L1136.3 57.35 L1137.77 68.67 L1139.24 54.92 L1140.71 55.73 L1142.18 57.75 L1143.65 59.78 L1145.12 53.3 L1146.59 63.01 L1148.06 62.61 L1149.53 62.2 L1151 56.54 L1152.47 55.33 L1153.94 54.11 L1155.41 52.9 L1156.88 51.69 L1158.35 51.52 L1159.82 51.36 L1161.29 56.54 L1162.76 62.2 L1164.23 67.87 L1165.7 56.54 L1167.17 62.2 L1168.64 60.58 L1170.11 58.97 L1171.58 59.78 L1173.05 57.35 L1174.52 54.92 L1175.99 52.01 L1177.46 54.11 L1178.93 65.84 L1180.4 77.57 L1181.87 58.16 L1183.34 56.54 L1184.81 54.92 L1186.28 59.78 L1187.75 56.54 L1189.22 53.3 L1190.69 52.66 L1192.16 52.01 L1193.63 54.92 L1195.1 52.82 L1196.57 52.82 L1198.04 52.82 L1199.51 52.82 L1200.98 52.82 L1202.45 52.82 L1203.92 52.82 L1205.39 52.82 L1206.86 52.82 L1208.33 52.82 L1209.8 52.82 L1211.27 52.82 L1212.74 52.82 L1214.21 52.82 L1215.68 52.82 L1217.15 52.82 L1218.62 52.82 L1220.09 52.82 L1221.56 52.82 L1223.03 52.82 L1224.5 52.82 L1225.97 52.82 L1227.44 52.82 L1228.91 52.82 L1230.38 52.82 L1231.85 52.82 L1233.32 52.82 L1234.79 52.82 L1236.26 52.82 L1237.73 52.82 L1239.2 52.82 L1240.67 52.82 L1242.14 52.82 L1243.61 52.82 L1245.08 52.82 L1246.55 52.82 L1248.02 52.82 L1249.49 52.82 L1250.96 52.82 L1252.43 52.82" fill="none" stroke="#00d7ff" stroke-width="1.75" stroke-linejoin="round" stroke-linecap="butt"/>
<path d="M1077.5 133.1 L1078.97 27.42 L1080.44 27.94 L1081.91 28.45 L1083.38 80.26 L1084.85 105.4 L1086.32 81.8 L1087.79 117.2 L1089.26 108.48 L1090.73 128.55 L1092.2 130.63 L1093.67 129.82 L1095.14 134.43 L1096.61 138.96 L1098.08 135.25 L1099.55 140.41 L1101.02 125.84 L1102.49 108.99 L1103.96 137.57 L1105.43 138.85 L1106.9 140.8 L1108.37 141.48 L1109.84 138.31 L1111.31 117.45 L1112.78 131.93 L1114.25 137.49 L1115.72 135.33 L1117.19 136.36 L1118.66 130.23 L1120.13 138.8 L1121.6 142.21 L1123.07 140.26 L1124.54 136.18 L1126.01 120.28 L1127.48 135.03 L1128.95 136.81 L1130.42 141.81 L1131.89 138.66 L1133.36 138.03 L1134.83 133.17 L1136.3 132.28 L1137.77 132.57 L1139.24 133.25 L1140.71 131.44 L1142.18 135.65 L1143.65 132.23 L1145.12 134.73 L1146.59 139.77 L1148.06 139.7 L1149.53 143.12 L1151 140.94 L1152.47 139.33 L1153.94 139.62 L1155.41 137.27 L1156.88 136.12 L1158.35 134.89 L1159.82 132.25 L1161.29 134.99 L1162.76 109.5 L1164.23 131.73 L1165.7 122.84 L1167.17 135.6 L1168.64 139.12 L1170.11 137.14 L1171.58 136.05 L1173.05 139.8 L1174.52 137.92 L1175.99 137.02 L1177.46 125.17 L1178.93 120.28 L1180.4 134.38 L1181.87 136.75 L1183.34 138.92 L1184.81 140.57 L1186.28 139.28 L1187.75 140.53 L1189.22 137.52 L1190.69 137.24 L1192.16 134.72 L1193.63 135.98 L1195.1 136.18 L1196.57 136.18 L1198.04 136.18 L1199.51 136.18 L1200.98 136.18 L1202.45 136.18 L1203.92 136.18 L1205.39 136.18 L1206.86 136.18 L1208.33 136.18 L1209.8 136.18 L1211.27 136.18 L1212.74 136.18 L1214.21 136.18 L1215.68 136.18 L1217.15 136.18 L1218.62 136.18 L1220.09 136.18 L1221.56 136.18 L1223.03 136.18 L1224.5 136.18 L1225.97 136.18 L1227.44 136.18 L1228.91 136.18 L1230.38 136.18 L1231.85 136.18 L1233.32 136.18 L1234.79 136.18 L1236.26 136.18 L1237.73 136.18 L1239.2 136.18 L1240.67 136.18 L1242.14 136.18 L1243.61 136.18 L1245.08 136.18 L1246.55 136.18 L1248.02 136.18 L1249.49 136.18 L1250.96 136.18 L1252.43 136.18 L1252.43 200.3 L1250.96 200.3 L1249.49 200.3 L1248.02 200.3 L1246.55 200.3 L1245.08 200.3 L1243.61 200.3 L1242.14 200.3 L1240.67 200.3 L1239.2 200.3 L1237.73 200.3 L1236.26 200.3 L1234.79 200.3 L1233.32 200.3 L1231.85 200.3 L1230.38 200.3 L1228.91 200.3 L1227.44 200.3 L1225.97 200.3 L1224.5 200.3 L1223.03 200.3 L1221.56 200.3 L1220.09 200.3 L1218.62 200.3 L1217.15 200.3 L1215.68 200.3 L1214.21 200.3 L1212.74 200.3 L1211.27 200.3 L1209.8 200.3 L1208.33 200.3 L1206.86 200.3 L1205.39 200.3 L1203.92 200.3 L1202.45 200.3 L1200.98 200.3 L1199.51 200.3 L1198.04 200.3 L1196.57 200.3 L1195.1 200.3 L1193.63 198.61 L1192.16 199.19 L1190.69 198.79 L1189.22 197.94 L1187.75 197.86 L1186.28 198.8 L1184.81 199.11 L1183.34 198.53 L1181.87 197.17 L1180.4 193.38 L1178.93 176.71 L1177.46 189.25 L1175.99 195.87 L1174.52 198.8 L1173.05 199.25 L1171.58 199.78 L1170.11 200.61 L1168.64 198.45 L1167.17 200.96 L1165.7 194.66 L1164.23 196.03 L1162.76 179.27 L1161.29 199.66 L1159.82 200.64 L1158.35 195.95 L1156.88 195.74 L1155.41 196.64 L1153.94 198.1 L1152.47 198.13 L1151 200.16 L1149.53 199.82 L1148.06 198.47 L1146.59 199.29 L1145.12 200.97 L1143.65 195.53 L1142.18 194.16 L1140.71 197.96 L1139.24 200.11 L1137.77 198.52 L1136.3 193.42 L1134.83 198.28 L1133.36 197.69 L1131.89 200.54 L1130.42 199.98 L1128.95 198.54 L1127.48 193.75 L1126.01 192.09 L1124.54 199.54 L1123.07 199.38 L1121.6 199.4 L1120.13 199.22 L1118.66 197.85 L1117.19 197.98 L1115.72 195.51 L1114.25 197.45 L1112.78 193.78 L1111.31 191.33 L1109.84 199.19 L1108.37 199.04 L1106.9 199.03 L1105.43 198.73 L1103.96 199.61 L1102.49 189.02 L1101.02 188.58 L1099.55 199.07 L1098.08 199.74 L1096.61 199.06 L1095.14 197.44 L1093.67 195.88 L1092.2 189.94 L1090.73 188.95 L1089.26 180.3 L1087.79 194.15 L1086.32 163.88 L1084.85 192.61 L1083.38 172.6 L1081.91 79.75 L1080.44 58.72 L1078.97 55.12 L1077.5 133.1Z" fill="#ffb20d" fill-opacity="0.2" stroke="#ffb20d" stroke-opacity="0.2" stroke-width="1"/>
<g fill="#ffb20d" stroke="#ffb20d" stroke-width="1.2" stroke-linejoin="round">
<use href="#st" x="1077.5" y="133.1"/><use href="#st" x="1078.97" y="41.27"/><use href="#st" x="1080.44" y="43.33"/><use href="#st" x="1081.91" y="54.1"/><use href="#st" x="1083.38" y="126.43"/><use href="#st" x="1084.85" y="149"/><use href="#st" x="1086.32" y="122.84"/><use href="#st" x="1087.79" y="155.67"/><use href="#st" x="1089.26" y="144.39"/><use href="#st" x="1090.73" y="158.75"/><use href="#st" x="1092.2" y="160.29"/><use href="#st" x="1093.67" y="162.85"/><use href="#st" x="1095.14" y="165.93"/><use href="#st" x="1096.61" y="169.01"/><use href="#st" x="1098.08" y="169.01"/><use href="#st" x="1099.55" y="171.06"/><use href="#st" x="1101.02" y="157.21"/><use href="#st" x="1102.49" y="149"/><use href="#st" x="1103.96" y="170.04"/><use href="#st" x="1105.43" y="171.06"/><use href="#st" x="1106.9" y="173.11"/><use href="#st" x="1108.37" y="172.09"/><use href="#st" x="1109.84" y="169.01"/><use href="#st" x="1111.31" y="154.39"/><use href="#st" x="1112.78" y="162.85"/><use href="#st" x="1114.25" y="167.47"/><use href="#st" x="1115.72" y="165.42"/><use href="#st" x="1117.19" y="170.55"/><use href="#st" x="1118.66" y="164.39"/><use href="#st" x="1120.13" y="169.01"/><use href="#st" x="1121.6" y="171.58"/><use href="#st" x="1123.07" y="170.55"/><use href="#st" x="1124.54" y="169.01"/><use href="#st" x="1126.01" y="156.19"/><use href="#st" x="1127.48" y="164.39"/><use href="#st" x="1128.95" y="169.01"/><use href="#st" x="1130.42" y="171.06"/><use href="#st" x="1131.89" y="170.55"/><use href="#st" x="1133.36" y="170.55"/><use href="#st" x="1134.83" y="167.47"/><use href="#st" x="1136.3" y="162.85"/><use href="#st" x="1137.77" y="165.93"/><use href="#st" x="1139.24" y="166.96"/><use href="#st" x="1140.71" y="165.42"/><use href="#st" x="1142.18" y="164.91"/><use href="#st" x="1143.65" y="163.88"/><use href="#st" x="1145.12" y="169.01"/><use href="#st" x="1146.59" y="171.06"/><use href="#st" x="1148.06" y="173.11"/><use href="#st" x="1149.53" y="175.17"/><use href="#st" x="1151" y="174.14"/><use href="#st" x="1152.47" y="171.06"/><use href="#st" x="1153.94" y="169.01"/><use href="#st" x="1155.41" y="166.96"/><use href="#st" x="1156.88" y="165.93"/><use href="#st" x="1158.35" y="165.42"/><use href="#st" x="1159.82" y="166.44"/><use href="#st" x="1161.29" y="167.47"/><use href="#st" x="1162.76" y="144.39"/><use href="#st" x="1164.23" y="163.88"/><use href="#st" x="1165.7" y="158.75"/><use href="#st" x="1167.17" y="169.01"/><use href="#st" x="1168.64" y="173.11"/><use href="#st" x="1170.11" y="171.06"/><use href="#st" x="1171.58" y="169.52"/><use href="#st" x="1173.05" y="169.52"/><use href="#st" x="1174.52" y="169.01"/><use href="#st" x="1175.99" y="166.44"/><use href="#st" x="1177.46" y="157.21"/><use href="#st" x="1178.93" y="148.49"/><use href="#st" x="1180.4" y="163.88"/><use href="#st" x="1181.87" y="166.96"/><use href="#st" x="1183.34" y="170.04"/><use href="#st" x="1184.81" y="171.06"/><use href="#st" x="1186.28" y="172.6"/><use href="#st" x="1187.75" y="171.58"/><use href="#st" x="1189.22" y="170.04"/><use href="#st" x="1190.69" y="169.01"/><use href="#st" x="1192.16" y="166.96"/><use href="#st" x="1193.63" y="170.04"/><use href="#st" x="1195.1" y="168.14"/><use href="#st" x="1196.57" y="168.14"/><use href="#st" x="1198.04" y="168.14"/><use href="#st" x="1199.51" y="168.14"/><use href="#st" x="1200.98" y="168.14"/><use href="#st" x="1202.45" y="168.14"/><use href="#st" x="1203.92" y="168.14"/><use href="#st" x="1205.39" y="168.14"/><use href="#st" x="1206.86" y="168.14"/><use href="#st" x="1208.33" y="168.14"/><use href="#st" x="1209.8" y="168.14"/><use href="#st" x="1211.27" y="168.14"/><use href="#st" x="1212.74" y="168.14"/><use href="#st" x="1214.21" y="168.14"/><use href="#st" x="1215.68" y="168.14"/><use href="#st" x="1217.15" y="168.14"/><use href="#st" x="1218.62" y="168.14"/><use href="#st" x="1220.09" y="168.14"/><use href="#st" x="1221.56" y="168.14"/><use href="#st" x="1223.03" y="168.14"/><use href="#st" x="1224.5" y="168.14"/><use href="#st" x="1225.97" y="168.14"/><use href="#st" x="1227.44" y="168.14"/><use href="#st" x="1228.91" y="168.14"/><use href="#st" x="1230.38" y="168.14"/><use href="#st" x="1231.85" y="168.14"/><use href="#st" x="1233.32" y="168.14"/><use href="#st" x="1234.79" y="168.14"/><use href="#st" x="1236.26" y="168.14"/><use href="#st" x="1237.73" y="168.14"/><use href="#st" x="1239.2" y="168.14"/><use href="#st" x="1240.67" y="168.14"/><use href="#st" x="1242.14" y="168.14"/><use href="#st" x="1243.61" y="168.14"/><use href="#st" x="1245.08" y="168.14"/><use href="#st" x="1246.55" y="168.14"/><use href="#st" x="1248.02" y="168.14"/><use href="#st" x="1249.49" y="168.14"/><use href="#st" x="1250.96" y="168.14"/><use href="#st" x="1252.43" y="168.14"/>
</g>
</g>
<rect x="1169.1" y="90.5" width="87" height="38.9" rx="2.4" ry="2.4" fill="#fff" fill-opacity="0.8" stroke="#ccc" stroke-opacity="0.8" stroke-width="0.9"/>
<path d="M1174.25 100.5 H1197.65" stroke="#00d7ff" stroke-width="1.9" stroke-linecap="square" fill="none"/>
<use href="#st" x="1186.3" y="118.8" fill="#ffb20d" stroke="#ffb20d" stroke-width="1.2" stroke-linejoin="round"/>
<text x="1207.7" y="105.8" font-size="11.6" textLength="27.23" lengthAdjust="spacingAndGlyphs">cls_4</text>
<text x="1207.43" y="123.1" font-size="11.6" textLength="41.69" lengthAdjust="spacingAndGlyphs">noise_4</text>
<rect x="1068.4" y="8" width="193.8" height="202.9" fill="none" stroke="#000" stroke-width="1"/>
<text x="1073.96" y="228.7" font-size="11.6" textLength="6.5" lengthAdjust="spacingAndGlyphs">0</text>
<text x="1143.92" y="228.7" font-size="11.6" textLength="13.56" lengthAdjust="spacingAndGlyphs">50</text>
<text x="1213.63" y="228.7" font-size="11.6" textLength="20.68" lengthAdjust="spacingAndGlyphs">100</text>
<text x="1033.21" y="214.45" font-size="11.6" textLength="26.03" lengthAdjust="spacingAndGlyphs">−0.5</text>
<text x="1042.02" y="188.8" font-size="11.6" textLength="17.15" lengthAdjust="spacingAndGlyphs">0.0</text>
<text x="1042.24" y="163.15" font-size="11.6" textLength="16.95" lengthAdjust="spacingAndGlyphs">0.5</text>
<text x="1042.03" y="137.5" font-size="11.6" textLength="17.14" lengthAdjust="spacingAndGlyphs">1.0</text>
<text x="1042.26" y="111.85" font-size="11.6" textLength="16.93" lengthAdjust="spacingAndGlyphs">1.5</text>
<text x="1041.94" y="86.2" font-size="11.6" textLength="17.22" lengthAdjust="spacingAndGlyphs">2.0</text>
<text x="1042.17" y="60.55" font-size="11.6" textLength="17.02" lengthAdjust="spacingAndGlyphs">2.5</text>
<text x="1042.13" y="34.9" font-size="11.6" textLength="17.03" lengthAdjust="spacingAndGlyphs">3.0</text>
<path d="M1077.5 210.9v3.9M1151 210.9v3.9M1224.5 210.9v3.9M1068.4 210.05h-3.9M1068.4 184.4h-3.9M1068.4 158.75h-3.9M1068.4 133.1h-3.9M1068.4 107.45h-3.9M1068.4 81.8h-3.9M1068.4 56.15h-3.9M1068.4 30.5h-3.9" stroke="#000" stroke-width="1" fill="none"/>
<text x="1144.99" y="247.5" font-size="14.2" textLength="40.34" lengthAdjust="spacingAndGlyphs">epoch</text>
<g transform="translate(1024.65 110.05) rotate(-90)"><text x="-22.06" y="0" font-size="14.2" textLength="44.17" lengthAdjust="spacingAndGlyphs">weight</text></g>
<g clip-path="url(#c5)">
<path d="M64.5 384.8 L65.97 293.08 L67.44 282.38 L68.9 281.13 L70.37 278.17 L71.84 277.18 L73.31 277.31 L74.78 277.54 L76.24 278.11 L77.71 277.93 L79.18 278.04 L80.65 277.16 L82.12 277.33 L83.58 276.67 L85.05 276 L86.52 274.76 L87.99 275.48 L89.46 276.68 L90.92 276.12 L92.39 274.85 L93.86 275.04 L95.33 274.5 L96.8 275.14 L98.26 276.08 L99.73 275.71 L101.2 275.62 L102.67 276.03 L104.14 273.96 L105.6 274.71 L107.07 274.71 L108.54 274.5 L110.01 274.75 L111.48 275.44 L112.94 273.79 L114.41 273.13 L115.88 273.53 L117.35 273.74 L118.82 275.57 L120.28 275.93 L121.75 275.79 L123.22 275.25 L124.69 274.73 L126.16 274.81 L127.62 272.98 L129.09 273.43 L130.56 274.39 L132.03 274.52 L133.5 276.6 L134.96 275.58 L136.43 274.45 L137.9 274.08 L139.37 275.17 L140.84 275.46 L142.3 275 L143.77 275.01 L145.24 273.93 L146.71 274.76 L148.18 273.67 L149.64 271.82 L151.11 272.69 L152.58 272.55 L154.05 272.77 L155.52 273.45 L156.98 275.16 L158.45 274.65 L159.92 275.32 L161.39 275.7 L162.86 275.26 L164.32 275.09 L165.79 275.38 L167.26 276.48 L168.73 275.34 L170.2 276.08 L171.66 275.24 L173.13 273.87 L174.6 275.03 L176.07 275.66 L177.54 274.47 L179 275.41 L180.47 274.32 L181.94 276.3 L183.41 276.3 L184.88 276.3 L186.34 276.3 L187.81 276.3 L189.28 276.3 L190.75 276.3 L192.22 276.3 L193.68 276.3 L195.15 276.3 L196.62 276.3 L198.09 276.3 L199.56 276.3 L201.02 276.3 L202.49 276.3 L203.96 276.3 L205.43 276.3 L206.9 276.3 L208.36 276.3 L209.83 276.3 L211.3 276.3 L212.77 276.3 L214.24 276.3 L215.7 276.3 L217.17 276.3 L218.64 276.3 L220.11 276.3 L221.58 276.3 L223.04 276.3 L224.51 276.3 L225.98 276.3 L227.45 276.3 L228.92 276.3 L230.38 276.3 L231.85 276.3 L233.32 276.3 L234.79 276.3 L236.26 276.3 L237.72 276.3 L239.19 276.3 L239.19 317.8 L237.72 317.8 L236.26 317.8 L234.79 317.8 L233.32 317.8 L231.85 317.8 L230.38 317.8 L228.92 317.8 L227.45 317.8 L225.98 317.8 L224.51 317.8 L223.04 317.8 L221.58 317.8 L220.11 317.8 L218.64 317.8 L217.17 317.8 L215.7 317.8 L214.24 317.8 L212.77 317.8 L211.3 317.8 L209.83 317.8 L208.36 317.8 L206.9 317.8 L205.43 317.8 L203.96 317.8 L202.49 317.8 L201.02 317.8 L199.56 317.8 L198.09 317.8 L196.62 317.8 L195.15 317.8 L193.68 317.8 L192.22 317.8 L190.75 317.8 L189.28 317.8 L187.81 317.8 L186.34 317.8 L184.88 317.8 L183.41 317.8 L181.94 317.8 L180.47 323.28 L179 322.4 L177.54 321.53 L176.07 322.56 L174.6 321.91 L173.13 321.67 L171.66 323.06 L170.2 324.06 L168.73 326.22 L167.26 325.68 L165.79 320.33 L164.32 312.72 L162.86 315.66 L161.39 318.84 L159.92 324.29 L158.45 326.44 L156.98 325.68 L155.52 324.84 L154.05 326.16 L152.58 328.57 L151.11 322.89 L149.64 316.94 L148.18 317.45 L146.71 320.41 L145.24 321.76 L143.77 322.12 L142.3 323.41 L140.84 324.15 L139.37 325.86 L137.9 326.96 L136.43 326.53 L134.96 328.77 L133.5 327.1 L132.03 322.13 L130.56 325.24 L129.09 330.08 L127.62 326.3 L126.16 321.39 L124.69 324.74 L123.22 326.86 L121.75 329.83 L120.28 331.35 L118.82 334.57 L117.35 332.38 L115.88 331.36 L114.41 331.98 L112.94 326.79 L111.48 322.25 L110.01 323.51 L108.54 326 L107.07 326.82 L105.6 333.49 L104.14 332.97 L102.67 333.39 L101.2 334.31 L99.73 329.52 L98.26 328.19 L96.8 329.97 L95.33 328.59 L93.86 331.27 L92.39 334.63 L90.92 328.65 L89.46 326.87 L87.99 329.21 L86.52 328.71 L85.05 332.62 L83.58 335.32 L82.12 332.34 L80.65 329.03 L79.18 326.18 L77.71 323.48 L76.24 320.14 L74.78 316.69 L73.31 313.77 L71.84 312.04 L70.37 309.09 L68.9 308.24 L67.44 307.49 L65.97 304.84 L64.5 386.89Z" fill="#00fed8" fill-opacity="0.2" stroke="#00fed8" stroke-opacity="0.2" stroke-width="1"/>
<path d="M64.5 385.6 L65.97 298.57 L67.44 299.21 L68.9 302.45 L70.37 301.91 L71.84 301.37 L73.31 300.83 L74.78 300.18 L76.24 299.54 L77.71 300.83 L79.18 302.05 L80.65 303.26 L82.12 304.31 L83.58 305.36 L85.05 303.5 L86.52 301.64 L87.99 303.02 L89.46 304.39 L90.92 303.42 L92.39 302.45 L93.86 303.26 L95.33 304.07 L96.8 304.71 L98.26 305.36 L99.73 301.64 L101.2 302.05 L102.67 302.45 L104.14 301.24 L105.6 300.02 L107.07 301.24 L108.54 302.45 L110.01 299.38 L111.48 296.3 L112.94 298.97 L114.41 301.64 L115.88 302.45 L117.35 301.91 L118.82 301.37 L120.28 300.83 L121.75 300.02 L123.22 301.64 L124.69 303.26 L126.16 300.02 L127.62 300.43 L129.09 300.83 L130.56 297.6 L132.03 299.62 L133.5 301.64 L134.96 301.24 L136.43 300.83 L137.9 300.02 L139.37 299.21 L140.84 298.57 L142.3 297.92 L143.77 297.92 L145.24 297.92 L146.71 300.02 L148.18 301.88 L149.64 303.74 L151.11 297.6 L152.58 299.62 L154.05 301.64 L155.52 298.4 L156.98 299.21 L158.45 300.02 L159.92 298.81 L161.39 297.6 L162.86 296.79 L164.32 297.92 L165.79 307.3 L167.26 303.66 L168.73 300.02 L170.2 299.46 L171.66 298.89 L173.13 298.4 L174.6 297.92 L176.07 297.92 L177.54 297.92 L179 298.16 L180.47 298.4 L181.94 296.54 L183.41 296.54 L184.88 296.54 L186.34 296.54 L187.81 296.54 L189.28 296.54 L190.75 296.54 L192.22 296.54 L193.68 296.54 L195.15 296.54 L196.62 296.54 L198.09 296.54 L199.56 296.54 L201.02 296.54 L202.49 296.54 L203.96 296.54 L205.43 296.54 L206.9 296.54 L208.36 296.54 L209.83 296.54 L211.3 296.54 L212.77 296.54 L214.24 296.54 L215.7 296.54 L217.17 296.54 L218.64 296.54 L220.11 296.54 L221.58 296.54 L223.04 296.54 L224.51 296.54 L225.98 296.54 L227.45 296.54 L228.92 296.54 L230.38 296.54 L231.85 296.54 L233.32 296.54 L234.79 296.54 L236.26 296.54 L237.72 296.54 L239.19 296.54" fill="none" stroke="#00fed8" stroke-width="1.75" stroke-linejoin="round" stroke-linecap="butt"/>
<path d="M64.5 385.6 L65.97 284.4 L67.44 283.39 L68.9 286.93 L70.37 291.99 L71.84 294.52 L73.31 299.58 L74.78 304.64 L76.24 303.63 L77.71 314.76 L79.18 322.35 L80.65 329.94 L82.12 342.59 L83.58 345.5 L85.05 353.02 L86.52 359.02 L87.99 340.68 L89.46 325.65 L90.92 359.96 L92.39 354.54 L93.86 362.16 L95.33 345.29 L96.8 355.46 L98.26 341.35 L99.73 356.04 L101.2 352.97 L102.67 363.91 L104.14 353.76 L105.6 347.7 L107.07 341.73 L108.54 363.55 L110.01 361.8 L111.48 358.97 L112.94 323.72 L114.41 334.1 L115.88 362.12 L117.35 364.53 L118.82 365.16 L120.28 354.72 L121.75 351.31 L123.22 350.5 L124.69 349.13 L126.16 348.71 L127.62 357.45 L129.09 360.24 L130.56 354.83 L132.03 330.56 L133.5 357.93 L134.96 361.42 L136.43 356.29 L137.9 357.89 L139.37 351.42 L140.84 354.58 L142.3 353.71 L143.77 349.81 L145.24 356.75 L146.71 351.89 L148.18 350.79 L149.64 316.78 L151.11 358.03 L152.58 332.01 L154.05 358.66 L155.52 362.22 L156.98 348.96 L158.45 357.68 L159.92 359.11 L161.39 348.31 L162.86 352.39 L164.32 333.62 L165.79 312.23 L167.26 352.72 L168.73 354.52 L170.2 359.22 L171.66 355.7 L173.13 349.44 L174.6 349.8 L176.07 350.62 L177.54 354.63 L179 340.51 L180.47 352.5 L181.94 347.14 L183.41 347.14 L184.88 347.14 L186.34 347.14 L187.81 347.14 L189.28 347.14 L190.75 347.14 L192.22 347.14 L193.68 347.14 L195.15 347.14 L196.62 347.14 L198.09 347.14 L199.56 347.14 L201.02 347.14 L202.49 347.14 L203.96 347.14 L205.43 347.14 L206.9 347.14 L208.36 347.14 L209.83 347.14 L211.3 347.14 L212.77 347.14 L214.24 347.14 L215.7 347.14 L217.17 347.14 L218.64 347.14 L220.11 347.14 L221.58 347.14 L223.04 347.14 L224.51 347.14 L225.98 347.14 L227.45 347.14 L228.92 347.14 L230.38 347.14 L231.85 347.14 L233.32 347.14 L234.79 347.14 L236.26 347.14 L237.72 347.14 L239.19 347.14 L239.19 447.33 L237.72 447.33 L236.26 447.33 L234.79 447.33 L233.32 447.33 L231.85 447.33 L230.38 447.33 L228.92 447.33 L227.45 447.33 L225.98 447.33 L224.51 447.33 L223.04 447.33 L221.58 447.33 L220.11 447.33 L218.64 447.33 L217.17 447.33 L215.7 447.33 L214.24 447.33 L212.77 447.33 L211.3 447.33 L209.83 447.33 L208.36 447.33 L206.9 447.33 L205.43 447.33 L203.96 447.33 L202.49 447.33 L201.02 447.33 L199.56 447.33 L198.09 447.33 L196.62 447.33 L195.15 447.33 L193.68 447.33 L192.22 447.33 L190.75 447.33 L189.28 447.33 L187.81 447.33 L186.34 447.33 L184.88 447.33 L183.41 447.33 L181.94 447.33 L180.47 452.84 L179 443.34 L177.54 450.98 L176.07 450.94 L174.6 447.71 L173.13 452.12 L171.66 449.91 L170.2 451.44 L168.73 452.34 L167.26 450.86 L165.79 426.59 L164.32 423.41 L162.86 447.14 L161.39 443.13 L159.92 446.5 L158.45 443.88 L156.98 444.51 L155.52 454.75 L154.05 453.4 L152.58 430.08 L151.11 451.63 L149.64 433.16 L148.18 454.87 L146.71 452.57 L145.24 444.81 L143.77 446.69 L142.3 442.79 L140.84 444.96 L139.37 450.14 L137.9 447.72 L136.43 451.34 L134.96 448.23 L133.5 453.64 L132.03 436.59 L130.56 451.19 L129.09 453.82 L127.62 444.11 L126.16 450.83 L124.69 447.37 L123.22 437.91 L121.75 450.25 L120.28 454.24 L118.82 453.07 L117.35 454.84 L115.88 451.37 L114.41 439.12 L112.94 425.21 L111.48 451.43 L110.01 453.42 L108.54 450.15 L107.07 447.68 L105.6 440.71 L104.14 451.4 L102.67 451.7 L101.2 443.53 L99.73 443.5 L98.26 433.89 L96.8 444.07 L95.33 451.21 L93.86 449.52 L92.39 444.99 L90.92 452.73 L89.46 431.38 L87.99 432.55 L86.52 453.67 L85.05 451.58 L83.58 445.94 L82.12 448.85 L80.65 445.31 L79.18 434.68 L77.71 452.95 L76.24 409.89 L74.78 451.38 L73.31 413.94 L71.84 446.32 L70.37 445.81 L68.9 318.3 L67.44 305.65 L65.97 301.6 L64.5 385.6Z" fill="#ff5002" fill-opacity="0.2" stroke="#ff5002" stroke-opacity="0.2" stroke-width="1"/>
<g fill="#ff5002" stroke="#ff5002" stroke-width="1.2" stroke-linejoin="round">
<use href="#st" x="64.5" y="385.6"/><use href="#st" x="65.97" y="293"/><use href="#st" x="67.44" y="294.52"/><use href="#st" x="68.9" y="302.62"/><use href="#st" x="70.37" y="368.9"/><use href="#st" x="71.84" y="370.42"/><use href="#st" x="73.31" y="356.76"/><use href="#st" x="74.78" y="378.01"/><use href="#st" x="76.24" y="356.76"/><use href="#st" x="77.71" y="384.08"/><use href="#st" x="79.18" y="378.52"/><use href="#st" x="80.65" y="387.62"/><use href="#st" x="82.12" y="395.72"/><use href="#st" x="83.58" y="395.72"/><use href="#st" x="85.05" y="402.3"/><use href="#st" x="86.52" y="406.35"/><use href="#st" x="87.99" y="386.61"/><use href="#st" x="89.46" y="378.52"/><use href="#st" x="90.92" y="406.35"/><use href="#st" x="92.39" y="399.77"/><use href="#st" x="93.86" y="405.84"/><use href="#st" x="95.33" y="398.25"/><use href="#st" x="96.8" y="399.77"/><use href="#st" x="98.26" y="387.62"/><use href="#st" x="99.73" y="399.77"/><use href="#st" x="101.2" y="398.25"/><use href="#st" x="102.67" y="410.9"/><use href="#st" x="104.14" y="405.84"/><use href="#st" x="105.6" y="394.2"/><use href="#st" x="107.07" y="394.71"/><use href="#st" x="108.54" y="406.85"/><use href="#st" x="110.01" y="408.37"/><use href="#st" x="111.48" y="405.84"/><use href="#st" x="112.94" y="374.47"/><use href="#st" x="114.41" y="386.61"/><use href="#st" x="115.88" y="408.37"/><use href="#st" x="117.35" y="411.91"/><use href="#st" x="118.82" y="410.9"/><use href="#st" x="120.28" y="405.84"/><use href="#st" x="121.75" y="400.78"/><use href="#st" x="123.22" y="394.2"/><use href="#st" x="124.69" y="398.25"/><use href="#st" x="126.16" y="399.77"/><use href="#st" x="127.62" y="400.78"/><use href="#st" x="129.09" y="407.86"/><use href="#st" x="130.56" y="405.84"/><use href="#st" x="132.03" y="383.58"/><use href="#st" x="133.5" y="406.85"/><use href="#st" x="134.96" y="404.83"/><use href="#st" x="136.43" y="403.82"/><use href="#st" x="137.9" y="402.8"/><use href="#st" x="139.37" y="400.78"/><use href="#st" x="140.84" y="399.77"/><use href="#st" x="142.3" y="398.25"/><use href="#st" x="143.77" y="398.25"/><use href="#st" x="145.24" y="400.78"/><use href="#st" x="146.71" y="402.3"/><use href="#st" x="148.18" y="403.31"/><use href="#st" x="149.64" y="374.97"/><use href="#st" x="151.11" y="404.83"/><use href="#st" x="152.58" y="381.05"/><use href="#st" x="154.05" y="408.37"/><use href="#st" x="155.52" y="410.39"/><use href="#st" x="156.98" y="396.73"/><use href="#st" x="158.45" y="400.78"/><use href="#st" x="159.92" y="402.8"/><use href="#st" x="161.39" y="395.72"/><use href="#st" x="162.86" y="399.77"/><use href="#st" x="164.32" y="378.52"/><use href="#st" x="165.79" y="369.41"/><use href="#st" x="167.26" y="401.79"/><use href="#st" x="168.73" y="404.83"/><use href="#st" x="170.2" y="405.33"/><use href="#st" x="171.66" y="402.8"/><use href="#st" x="173.13" y="400.78"/><use href="#st" x="174.6" y="398.76"/><use href="#st" x="176.07" y="400.78"/><use href="#st" x="177.54" y="402.8"/><use href="#st" x="179" y="391.93"/><use href="#st" x="180.47" y="402.8"/><use href="#st" x="181.94" y="397.49"/><use href="#st" x="183.41" y="397.49"/><use href="#st" x="184.88" y="397.49"/><use href="#st" x="186.34" y="397.49"/><use href="#st" x="187.81" y="397.49"/><use href="#st" x="189.28" y="397.49"/><use href="#st" x="190.75" y="397.49"/><use href="#st" x="192.22" y="397.49"/><use href="#st" x="193.68" y="397.49"/><use href="#st" x="195.15" y="397.49"/><use href="#st" x="196.62" y="397.49"/><use href="#st" x="198.09" y="397.49"/><use href="#st" x="199.56" y="397.49"/><use href="#st" x="201.02" y="397.49"/><use href="#st" x="202.49" y="397.49"/><use href="#st" x="203.96" y="397.49"/><use href="#st" x="205.43" y="397.49"/><use href="#st" x="206.9" y="397.49"/><use href="#st" x="208.36" y="397.49"/><use href="#st" x="209.83" y="397.49"/><use href="#st" x="211.3" y="397.49"/><use href="#st" x="212.77" y="397.49"/><use href="#st" x="214.24" y="397.49"/><use href="#st" x="215.7" y="397.49"/><use href="#st" x="217.17" y="397.49"/><use href="#st" x="218.64" y="397.49"/><use href="#st" x="220.11" y="397.49"/><use href="#st" x="221.58" y="397.49"/><use href="#st" x="223.04" y="397.49"/><use href="#st" x="224.51" y="397.49"/><use href="#st" x="225.98" y="397.49"/><use href="#st" x="227.45" y="397.49"/><use href="#st" x="228.92" y="397.49"/><use href="#st" x="230.38" y="397.49"/><use href="#st" x="231.85" y="397.49"/><use href="#st" x="233.32" y="397.49"/><use href="#st" x="234.79" y="397.49"/><use href="#st" x="236.26" y="397.49"/><use href="#st" x="237.72" y="397.49"/><use href="#st" x="239.19" y="397.49"/>
</g>
</g>
<rect x="61" y="420.4" width="86.4" height="38.9" rx="2.4" ry="2.4" fill="#fff" fill-opacity="0.8" stroke="#ccc" stroke-opacity="0.8" stroke-width="0.9"/>
<path d="M65.65 429.6 H89.05" stroke="#00fed8" stroke-width="1.9" stroke-linecap="square" fill="none"/>
<use href="#st" x="77.6" y="447.9" fill="#ff5002" stroke="#ff5002" stroke-width="1.2" stroke-linejoin="round"/>
<text x="98.51" y="434.9" font-size="11.6" textLength="27" lengthAdjust="spacingAndGlyphs">cls_5</text>
<text x="98.23" y="452.2" font-size="11.6" textLength="41.47" lengthAdjust="spacingAndGlyphs">noise_5</text>
<rect x="55.3" y="262.5" width="193.2" height="202.8" fill="none" stroke="#000" stroke-width="1"/>
<text x="60.96" y="483.1" font-size="11.6" textLength="6.5" lengthAdjust="spacingAndGlyphs">0</text>
<text x="130.82" y="483.1" font-size="11.6" textLength="13.56" lengthAdjust="spacingAndGlyphs">50</text>
<text x="200.43" y="483.1" font-size="11.6" textLength="20.68" lengthAdjust="spacingAndGlyphs">100</text>
<text x="40.25" y="440.6" font-size="11.6" textLength="6.5" lengthAdjust="spacingAndGlyphs">0</text>
<text x="40.6" y="390" font-size="11.6" textLength="6.25" lengthAdjust="spacingAndGlyphs">1</text>
<text x="40.57" y="339.4" font-size="11.6" textLength="6.28" lengthAdjust="spacingAndGlyphs">2</text>
<text x="40.52" y="288.8" font-size="11.6" textLength="6.28" lengthAdjust="spacingAndGlyphs">3</text>
<path d="M64.5 465.3v3.9M137.9 465.3v3.9M211.3 465.3v3.9M55.3 436.2h-3.9M55.3 385.6h-3.9M55.3 335h-3.9M55.3 284.4h-3.9" stroke="#000" stroke-width="1" fill="none"/>
<text x="131.59" y="501.9" font-size="14.2" textLength="40.34" lengthAdjust="spacingAndGlyphs">epoch</text>
<g transform="translate(31.7 364.5) rotate(-90)"><text x="-22.06" y="0" font-size="14.2" textLength="44.17" lengthAdjust="spacingAndGlyphs">weight</text></g>
<g clip-path="url(#c6)">
<path d="M319.5 385.51 L320.98 287.88 L322.46 284.13 L323.94 281.47 L325.42 277.67 L326.9 277.16 L328.38 276.27 L329.86 276.53 L331.34 275.82 L332.82 273.8 L334.3 278.4 L335.78 276.61 L337.26 276.79 L338.74 279.06 L340.22 276.49 L341.7 276.34 L343.18 275.6 L344.66 276.59 L346.14 277.22 L347.62 277.15 L349.1 278.53 L350.58 276.37 L352.06 274.75 L353.54 276.24 L355.02 275.15 L356.5 275.95 L357.98 273.21 L359.46 273.54 L360.94 272.65 L362.42 271.55 L363.9 272.66 L365.38 272.21 L366.86 273.49 L368.34 277.53 L369.82 278.97 L371.3 276.38 L372.78 275.63 L374.26 275.44 L375.74 276.87 L377.22 276.67 L378.7 276.49 L380.18 277.11 L381.66 277.44 L383.14 277.03 L384.62 275.15 L386.1 276.72 L387.58 275.55 L389.06 275.88 L390.54 275.57 L392.02 278.55 L393.5 276.92 L394.98 277.11 L396.46 277.81 L397.94 279.23 L399.42 279.44 L400.9 279.2 L402.38 276.26 L403.86 277.2 L405.34 276.26 L406.82 274.59 L408.3 275.8 L409.78 276.76 L411.26 276.44 L412.74 277.93 L414.22 275.78 L415.7 278.36 L417.18 277.11 L418.66 277.49 L420.14 277.25 L421.62 277.14 L423.1 277.17 L424.58 277.64 L426.06 277.44 L427.54 276.63 L429.02 275.77 L430.5 274.64 L431.98 276.01 L433.46 275.9 L434.94 276.58 L436.42 276.78 L437.9 279.14 L439.38 279.14 L440.86 279.14 L442.34 279.14 L443.82 279.14 L445.3 279.14 L446.78 279.14 L448.26 279.14 L449.74 279.14 L451.22 279.14 L452.7 279.14 L454.18 279.14 L455.66 279.14 L457.14 279.14 L458.62 279.14 L460.1 279.14 L461.58 279.14 L463.06 279.14 L464.54 279.14 L466.02 279.14 L467.5 279.14 L468.98 279.14 L470.46 279.14 L471.94 279.14 L473.42 279.14 L474.9 279.14 L476.38 279.14 L477.86 279.14 L479.34 279.14 L480.82 279.14 L482.3 279.14 L483.78 279.14 L485.26 279.14 L486.74 279.14 L488.22 279.14 L489.7 279.14 L491.18 279.14 L492.66 279.14 L494.14 279.14 L495.62 279.14 L495.62 301.76 L494.14 301.76 L492.66 301.76 L491.18 301.76 L489.7 301.76 L488.22 301.76 L486.74 301.76 L485.26 301.76 L483.78 301.76 L482.3 301.76 L480.82 301.76 L479.34 301.76 L477.86 301.76 L476.38 301.76 L474.9 301.76 L473.42 301.76 L471.94 301.76 L470.46 301.76 L468.98 301.76 L467.5 301.76 L466.02 301.76 L464.54 301.76 L463.06 301.76 L461.58 301.76 L460.1 301.76 L458.62 301.76 L457.14 301.76 L455.66 301.76 L454.18 301.76 L452.7 301.76 L451.22 301.76 L449.74 301.76 L448.26 301.76 L446.78 301.76 L445.3 301.76 L443.82 301.76 L442.34 301.76 L440.86 301.76 L439.38 301.76 L437.9 301.76 L436.42 305.22 L434.94 303.32 L433.46 303.96 L431.98 303.64 L430.5 307.24 L429.02 306.16 L427.54 305.12 L426.06 307.66 L424.58 308.4 L423.1 311.22 L421.62 309.41 L420.14 308.4 L418.66 305.68 L417.18 306.44 L415.7 305.14 L414.22 306.29 L412.74 303.86 L411.26 303.93 L409.78 303.62 L408.3 306.09 L406.82 308.73 L405.34 307.58 L403.86 307.89 L402.38 304.49 L400.9 303.45 L399.42 304.54 L397.94 306.15 L396.46 304.04 L394.98 307.68 L393.5 307.1 L392.02 308.68 L390.54 307.62 L389.06 304.92 L387.58 306.93 L386.1 304.64 L384.62 306.16 L383.14 303.95 L381.66 306.52 L380.18 303.83 L378.7 304.82 L377.22 304.36 L375.74 306.58 L374.26 303.2 L372.78 305.98 L371.3 305.05 L369.82 305.75 L368.34 306.97 L366.86 306.7 L365.38 310.45 L363.9 310.9 L362.42 313.36 L360.94 314.78 L359.46 316.96 L357.98 313.29 L356.5 310.81 L355.02 307.54 L353.54 303.35 L352.06 305.8 L350.58 307.97 L349.1 307.53 L347.62 308.04 L346.14 306.56 L344.66 308.48 L343.18 306.07 L341.7 305.87 L340.22 304.4 L338.74 304.83 L337.26 306.11 L335.78 301.39 L334.3 301.69 L332.82 305.76 L331.34 307.05 L329.86 306.23 L328.38 307.33 L326.9 306.01 L325.42 303.67 L323.94 301.43 L322.46 299.07 L320.98 298.76 L319.5 382.88Z" fill="#00fa88" fill-opacity="0.2" stroke="#00fa88" stroke-opacity="0.2" stroke-width="1"/>
<path d="M319.5 384 L320.98 291.99 L322.46 291.93 L323.94 291.53 L325.42 291.12 L326.9 291.06 L328.38 290.99 L329.86 290.93 L331.34 290.86 L332.82 290.8 L334.3 290.37 L335.78 289.94 L337.26 289.51 L338.74 289.78 L340.22 290.05 L341.7 290.31 L343.18 290.72 L344.66 291.12 L346.14 291.53 L347.62 291.93 L349.1 291.66 L350.58 291.39 L352.06 291.12 L353.54 290.85 L355.02 290.58 L356.5 290.31 L357.98 291.93 L359.46 293.55 L360.94 291.12 L362.42 291.39 L363.9 291.66 L365.38 291.93 L366.86 290.72 L368.34 289.51 L369.82 290.05 L371.3 290.58 L372.78 291.12 L374.26 291.02 L375.74 290.91 L377.22 290.8 L378.7 290.88 L380.18 290.96 L381.66 291.04 L383.14 291.12 L384.62 291.39 L386.1 291.66 L387.58 291.93 L389.06 291.66 L390.54 291.39 L392.02 291.12 L393.5 291.04 L394.98 290.96 L396.46 290.88 L397.94 290.8 L399.42 290.48 L400.9 290.15 L402.38 289.83 L403.86 291.29 L405.34 292.74 L406.82 291.53 L408.3 290.31 L409.78 290.56 L411.26 290.8 L412.74 290.68 L414.22 290.56 L415.7 290.44 L417.18 290.31 L418.66 289.91 L420.14 289.51 L421.62 292.74 L423.1 291.77 L424.58 290.8 L426.06 290.91 L427.54 291.02 L429.02 291.12 L430.5 290.92 L431.98 290.72 L433.46 290.52 L434.94 290.31 L436.42 290.31 L437.9 289.94 L439.38 289.94 L440.86 289.94 L442.34 289.94 L443.82 289.94 L445.3 289.94 L446.78 289.94 L448.26 289.94 L449.74 289.94 L451.22 289.94 L452.7 289.94 L454.18 289.94 L455.66 289.94 L457.14 289.94 L458.62 289.94 L460.1 289.94 L461.58 289.94 L463.06 289.94 L464.54 289.94 L466.02 289.94 L467.5 289.94 L468.98 289.94 L470.46 289.94 L471.94 289.94 L473.42 289.94 L474.9 289.94 L476.38 289.94 L477.86 289.94 L479.34 289.94 L480.82 289.94 L482.3 289.94 L483.78 289.94 L485.26 289.94 L486.74 289.94 L488.22 289.94 L489.7 289.94 L491.18 289.94 L492.66 289.94 L494.14 289.94 L495.62 289.94" fill="none" stroke="#00fa88" stroke-width="1.75" stroke-linejoin="round" stroke-linecap="butt"/>
<path d="M319.5 384 L320.98 279.14 L322.46 278.12 L323.94 279.66 L325.42 309.98 L326.9 295.08 L328.38 293.02 L329.86 298.16 L331.34 279.66 L332.82 301.76 L334.3 309.47 L335.78 324.58 L337.26 307.69 L338.74 317.91 L340.22 316.69 L341.7 329.94 L343.18 309.73 L344.66 293.54 L346.14 337.44 L347.62 339.39 L349.1 334.55 L350.58 338.44 L352.06 348.39 L353.54 310.5 L355.02 337.39 L356.5 337.73 L357.98 337.69 L359.46 353.47 L360.94 335 L362.42 342.62 L363.9 349.23 L365.38 347.84 L366.86 337.62 L368.34 308.96 L369.82 315.51 L371.3 334.77 L372.78 338.42 L374.26 354.13 L375.74 347.63 L377.22 323.29 L378.7 336.44 L380.18 333.76 L381.66 340.47 L383.14 342.54 L384.62 329.16 L386.1 346.5 L387.58 316.15 L389.06 342.5 L390.54 351.09 L392.02 348.29 L393.5 343.5 L394.98 345.62 L396.46 347.48 L397.94 343.15 L399.42 337.44 L400.9 336.45 L402.38 346.22 L403.86 326.69 L405.34 299.19 L406.82 346.57 L408.3 307.93 L409.78 324.69 L411.26 333.83 L412.74 348.22 L414.22 333.96 L415.7 337.05 L417.18 339.97 L418.66 340.59 L420.14 317.48 L421.62 286.6 L423.1 346.47 L424.58 340.45 L426.06 335.79 L427.54 341.33 L429.02 345.1 L430.5 341.97 L431.98 339.76 L433.46 342.98 L434.94 327.46 L436.42 341.22 L437.9 339.02 L439.38 339.02 L440.86 339.02 L442.34 339.02 L443.82 339.02 L445.3 339.02 L446.78 339.02 L448.26 339.02 L449.74 339.02 L451.22 339.02 L452.7 339.02 L454.18 339.02 L455.66 339.02 L457.14 339.02 L458.62 339.02 L460.1 339.02 L461.58 339.02 L463.06 339.02 L464.54 339.02 L466.02 339.02 L467.5 339.02 L468.98 339.02 L470.46 339.02 L471.94 339.02 L473.42 339.02 L474.9 339.02 L476.38 339.02 L477.86 339.02 L479.34 339.02 L480.82 339.02 L482.3 339.02 L483.78 339.02 L485.26 339.02 L486.74 339.02 L488.22 339.02 L489.7 339.02 L491.18 339.02 L492.66 339.02 L494.14 339.02 L495.62 339.02 L495.62 439.51 L494.14 439.51 L492.66 439.51 L491.18 439.51 L489.7 439.51 L488.22 439.51 L486.74 439.51 L485.26 439.51 L483.78 439.51 L482.3 439.51 L480.82 439.51 L479.34 439.51 L477.86 439.51 L476.38 439.51 L474.9 439.51 L473.42 439.51 L471.94 439.51 L470.46 439.51 L468.98 439.51 L467.5 439.51 L466.02 439.51 L464.54 439.51 L463.06 439.51 L461.58 439.51 L460.1 439.51 L458.62 439.51 L457.14 439.51 L455.66 439.51 L454.18 439.51 L452.7 439.51 L451.22 439.51 L449.74 439.51 L448.26 439.51 L446.78 439.51 L445.3 439.51 L443.82 439.51 L442.34 439.51 L440.86 439.51 L439.38 439.51 L437.9 439.51 L436.42 452.81 L434.94 442.6 L433.46 440.44 L431.98 446.75 L430.5 446.59 L429.02 453.29 L427.54 445.18 L426.06 449.53 L424.58 453.62 L423.1 450.31 L421.62 402.76 L420.14 428.93 L418.66 455.08 L417.18 451.19 L415.7 451.51 L414.22 449.46 L412.74 449.71 L411.26 439.31 L409.78 443.31 L408.3 429.23 L406.82 451.78 L405.34 429.75 L403.86 441.31 L402.38 442.34 L400.9 433.61 L399.42 451.12 L397.94 449.52 L396.46 447.25 L394.98 450.14 L393.5 451 L392.02 451.34 L390.54 450.59 L389.06 454.47 L387.58 414.84 L386.1 449.26 L384.62 426.5 L383.14 446.02 L381.66 437.81 L380.18 438.36 L378.7 433.62 L377.22 438.54 L375.74 449.15 L374.26 453.93 L372.78 452.77 L371.3 452.44 L369.82 424.74 L368.34 416.9 L366.86 450.94 L365.38 450.54 L363.9 452.3 L362.42 450.06 L360.94 431.97 L359.46 450.46 L357.98 450.87 L356.5 435.41 L355.02 435.75 L353.54 423.58 L352.06 452.5 L350.58 454.23 L349.1 448.87 L347.62 438.89 L346.14 440.84 L344.66 401.48 L343.18 405.84 L341.7 441.14 L340.22 416.36 L338.74 434.67 L337.26 425.35 L335.78 422.86 L334.3 412.27 L332.82 452.23 L331.34 392.74 L329.86 442.08 L328.38 395.82 L326.9 397.88 L325.42 407.64 L323.94 315.64 L322.46 300.73 L320.98 304.84 L319.5 384Z" fill="#ff1300" fill-opacity="0.2" stroke="#ff1300" stroke-opacity="0.2" stroke-width="1"/>
<g fill="#ff1300" stroke="#ff1300" stroke-width="1.2" stroke-linejoin="round">
<use href="#st" x="319.5" y="384"/><use href="#st" x="320.98" y="291.99"/><use href="#st" x="322.46" y="289.42"/><use href="#st" x="323.94" y="297.65"/><use href="#st" x="325.42" y="358.81"/><use href="#st" x="326.9" y="346.48"/><use href="#st" x="328.38" y="344.42"/><use href="#st" x="329.86" y="370.12"/><use href="#st" x="331.34" y="336.2"/><use href="#st" x="332.82" y="384"/><use href="#st" x="334.3" y="360.87"/><use href="#st" x="335.78" y="373.72"/><use href="#st" x="337.26" y="366.52"/><use href="#st" x="338.74" y="376.29"/><use href="#st" x="340.22" y="366.52"/><use href="#st" x="341.7" y="385.54"/><use href="#st" x="343.18" y="357.79"/><use href="#st" x="344.66" y="347.51"/><use href="#st" x="346.14" y="389.14"/><use href="#st" x="347.62" y="389.14"/><use href="#st" x="349.1" y="391.71"/><use href="#st" x="350.58" y="396.34"/><use href="#st" x="352.06" y="400.45"/><use href="#st" x="353.54" y="367.04"/><use href="#st" x="355.02" y="386.57"/><use href="#st" x="356.5" y="386.57"/><use href="#st" x="357.98" y="394.28"/><use href="#st" x="359.46" y="408.67"/><use href="#st" x="360.94" y="383.49"/><use href="#st" x="362.42" y="396.34"/><use href="#st" x="363.9" y="401.99"/><use href="#st" x="365.38" y="406.1"/><use href="#st" x="366.86" y="394.28"/><use href="#st" x="368.34" y="362.93"/><use href="#st" x="369.82" y="370.12"/><use href="#st" x="371.3" y="394.28"/><use href="#st" x="372.78" y="398.39"/><use href="#st" x="374.26" y="406.1"/><use href="#st" x="375.74" y="398.39"/><use href="#st" x="377.22" y="380.92"/><use href="#st" x="378.7" y="385.03"/><use href="#st" x="380.18" y="386.06"/><use href="#st" x="381.66" y="389.14"/><use href="#st" x="383.14" y="394.28"/><use href="#st" x="384.62" y="377.83"/><use href="#st" x="386.1" y="397.88"/><use href="#st" x="387.58" y="365.5"/><use href="#st" x="389.06" y="401.48"/><use href="#st" x="390.54" y="408.67"/><use href="#st" x="392.02" y="403.02"/><use href="#st" x="393.5" y="398.91"/><use href="#st" x="394.98" y="397.88"/><use href="#st" x="396.46" y="397.36"/><use href="#st" x="397.94" y="396.34"/><use href="#st" x="399.42" y="394.28"/><use href="#st" x="400.9" y="385.03"/><use href="#st" x="402.38" y="394.28"/><use href="#st" x="403.86" y="384"/><use href="#st" x="405.34" y="364.47"/><use href="#st" x="406.82" y="403.02"/><use href="#st" x="408.3" y="368.58"/><use href="#st" x="409.78" y="384"/><use href="#st" x="411.26" y="386.57"/><use href="#st" x="412.74" y="400.45"/><use href="#st" x="414.22" y="391.71"/><use href="#st" x="415.7" y="394.28"/><use href="#st" x="417.18" y="395.82"/><use href="#st" x="418.66" y="398.39"/><use href="#st" x="420.14" y="373.21"/><use href="#st" x="421.62" y="344.68"/><use href="#st" x="423.1" y="398.39"/><use href="#st" x="424.58" y="397.36"/><use href="#st" x="426.06" y="395.31"/><use href="#st" x="427.54" y="393.25"/><use href="#st" x="429.02" y="400.45"/><use href="#st" x="430.5" y="394.28"/><use href="#st" x="431.98" y="393.25"/><use href="#st" x="433.46" y="391.71"/><use href="#st" x="434.94" y="385.03"/><use href="#st" x="436.42" y="398.39"/><use href="#st" x="437.9" y="388.88"/><use href="#st" x="439.38" y="388.88"/><use href="#st" x="440.86" y="388.88"/><use href="#st" x="442.34" y="388.88"/><use href="#st" x="443.82" y="388.88"/><use href="#st" x="445.3" y="388.88"/><use href="#st" x="446.78" y="388.88"/><use href="#st" x="448.26" y="388.88"/><use href="#st" x="449.74" y="388.88"/><use href="#st" x="451.22" y="388.88"/><use href="#st" x="452.7" y="388.88"/><use href="#st" x="454.18" y="388.88"/><use href="#st" x="455.66" y="388.88"/><use href="#st" x="457.14" y="388.88"/><use href="#st" x="458.62" y="388.88"/><use href="#st" x="460.1" y="388.88"/><use href="#st" x="461.58" y="388.88"/><use href="#st" x="463.06" y="388.88"/><use href="#st" x="464.54" y="388.88"/><use href="#st" x="466.02" y="388.88"/><use href="#st" x="467.5" y="388.88"/><use href="#st" x="468.98" y="388.88"/><use href="#st" x="470.46" y="388.88"/><use href="#st" x="471.94" y="388.88"/><use href="#st" x="473.42" y="388.88"/><use href="#st" x="474.9" y="388.88"/><use href="#st" x="476.38" y="388.88"/><use href="#st" x="477.86" y="388.88"/><use href="#st" x="479.34" y="388.88"/><use href="#st" x="480.82" y="388.88"/><use href="#st" x="482.3" y="388.88"/><use href="#st" x="483.78" y="388.88"/><use href="#st" x="485.26" y="388.88"/><use href="#st" x="486.74" y="388.88"/><use href="#st" x="488.22" y="388.88"/><use href="#st" x="489.7" y="388.88"/><use href="#st" x="491.18" y="388.88"/><use href="#st" x="492.66" y="388.88"/><use href="#st" x="494.14" y="388.88"/><use href="#st" x="495.62" y="388.88"/>
</g>
</g>
<rect x="316.95" y="420.4" width="86.4" height="38.9" rx="2.4" ry="2.4" fill="#fff" fill-opacity="0.8" stroke="#ccc" stroke-opacity="0.8" stroke-width="0.9"/>
<path d="M321.6 429.6 H345" stroke="#00fa88" stroke-width="1.9" stroke-linecap="square" fill="none"/>
<use href="#st" x="333.55" y="447.9" fill="#ff1300" stroke="#ff1300" stroke-width="1.2" stroke-linejoin="round"/>
<text x="354.45" y="434.9" font-size="11.6" textLength="27.32" lengthAdjust="spacingAndGlyphs">cls_6</text>
<text x="354.17" y="452.2" font-size="11.6" textLength="41.78" lengthAdjust="spacingAndGlyphs">noise_6</text>
<rect x="311.25" y="262.5" width="192.25" height="202.8" fill="none" stroke="#000" stroke-width="1"/>
<text x="315.96" y="483.1" font-size="11.6" textLength="6.5" lengthAdjust="spacingAndGlyphs">0</text>
<text x="386.42" y="483.1" font-size="11.6" textLength="13.56" lengthAdjust="spacingAndGlyphs">50</text>
<text x="456.63" y="483.1" font-size="11.6" textLength="20.68" lengthAdjust="spacingAndGlyphs">100</text>
<text x="276.06" y="465.5" font-size="11.6" textLength="26.03" lengthAdjust="spacingAndGlyphs">−0.5</text>
<text x="284.87" y="439.8" font-size="11.6" textLength="17.15" lengthAdjust="spacingAndGlyphs">0.0</text>
<text x="285.09" y="414.1" font-size="11.6" textLength="16.95" lengthAdjust="spacingAndGlyphs">0.5</text>
<text x="284.88" y="388.4" font-size="11.6" textLength="17.14" lengthAdjust="spacingAndGlyphs">1.0</text>
<text x="285.11" y="362.7" font-size="11.6" textLength="16.93" lengthAdjust="spacingAndGlyphs">1.5</text>
<text x="284.79" y="337" font-size="11.6" textLength="17.22" lengthAdjust="spacingAndGlyphs">2.0</text>
<text x="285.02" y="311.3" font-size="11.6" textLength="17.02" lengthAdjust="spacingAndGlyphs">2.5</text>
<text x="284.98" y="285.6" font-size="11.6" textLength="17.03" lengthAdjust="spacingAndGlyphs">3.0</text>
<path d="M319.5 465.3v3.9M393.5 465.3v3.9M467.5 465.3v3.9M311.25 461.1h-3.9M311.25 435.4h-3.9M311.25 409.7h-3.9M311.25 384h-3.9M311.25 358.3h-3.9M311.25 332.6h-3.9M311.25 306.9h-3.9M311.25 281.2h-3.9" stroke="#000" stroke-width="1" fill="none"/>
<text x="387.07" y="501.9" font-size="14.2" textLength="40.34" lengthAdjust="spacingAndGlyphs">epoch</text>
<g transform="translate(267.5 364.5) rotate(-90)"><text x="-22.06" y="0" font-size="14.2" textLength="44.17" lengthAdjust="spacingAndGlyphs">weight</text></g>
<g clip-path="url(#c7)">
<path d="M565.3 391.19 L566.78 288.75 L568.26 287.02 L569.74 282.93 L571.22 281.6 L572.7 275.78 L574.19 272.87 L575.67 274.39 L577.15 270.27 L578.63 275.55 L580.11 277.78 L581.59 279.46 L583.07 278.8 L584.55 279.5 L586.03 282.58 L587.51 281.35 L589 279.9 L590.48 278.77 L591.96 276.53 L593.44 278.98 L594.92 277.62 L596.4 280.5 L597.88 279.73 L599.36 279.39 L600.84 278.37 L602.32 276.83 L603.81 277.06 L605.29 275.57 L606.77 277.76 L608.25 276.91 L609.73 277.54 L611.21 276.7 L612.69 274.66 L614.17 277.08 L615.65 282.64 L617.13 280.81 L618.62 280.57 L620.1 279.58 L621.58 280.09 L623.06 279.14 L624.54 278.49 L626.02 275.81 L627.5 278.18 L628.98 275.51 L630.46 277.02 L631.94 276.8 L633.43 277.89 L634.91 279.39 L636.39 278.83 L637.87 279.91 L639.35 279.49 L640.83 277.45 L642.31 277.75 L643.79 279.67 L645.27 278.81 L646.75 278.9 L648.24 279.26 L649.72 277.62 L651.2 277.8 L652.68 278.79 L654.16 278.76 L655.64 279.65 L657.12 281.42 L658.6 280.5 L660.08 278.95 L661.56 279.01 L663.05 280.18 L664.53 281.54 L666.01 278.15 L667.49 277.04 L668.97 279.07 L670.45 281.59 L671.93 281.75 L673.41 280.73 L674.89 283.14 L676.38 280.82 L677.86 283.57 L679.34 281.93 L680.82 283.7 L682.3 281.7 L683.78 285.1 L685.26 285.1 L686.74 285.1 L688.22 285.1 L689.7 285.1 L691.18 285.1 L692.67 285.1 L694.15 285.1 L695.63 285.1 L697.11 285.1 L698.59 285.1 L700.07 285.1 L701.55 285.1 L703.03 285.1 L704.51 285.1 L706 285.1 L707.48 285.1 L708.96 285.1 L710.44 285.1 L711.92 285.1 L713.4 285.1 L714.88 285.1 L716.36 285.1 L717.84 285.1 L719.32 285.1 L720.8 285.1 L722.29 285.1 L723.77 285.1 L725.25 285.1 L726.73 285.1 L728.21 285.1 L729.69 285.1 L731.17 285.1 L732.65 285.1 L734.13 285.1 L735.62 285.1 L737.1 285.1 L738.58 285.1 L740.06 285.1 L741.54 285.1 L741.54 300.85 L740.06 300.85 L738.58 300.85 L737.1 300.85 L735.62 300.85 L734.13 300.85 L732.65 300.85 L731.17 300.85 L729.69 300.85 L728.21 300.85 L726.73 300.85 L725.25 300.85 L723.77 300.85 L722.29 300.85 L720.8 300.85 L719.32 300.85 L717.84 300.85 L716.36 300.85 L714.88 300.85 L713.4 300.85 L711.92 300.85 L710.44 300.85 L708.96 300.85 L707.48 300.85 L706 300.85 L704.51 300.85 L703.03 300.85 L701.55 300.85 L700.07 300.85 L698.59 300.85 L697.11 300.85 L695.63 300.85 L694.15 300.85 L692.67 300.85 L691.18 300.85 L689.7 300.85 L688.22 300.85 L686.74 300.85 L685.26 300.85 L683.78 300.85 L682.3 303.8 L680.82 303.67 L679.34 305.17 L677.86 305.8 L676.38 302.91 L674.89 305.82 L673.41 305.44 L671.93 304.49 L670.45 309.22 L668.97 308.93 L667.49 306.86 L666.01 305.91 L664.53 306.58 L663.05 307.02 L661.56 307.79 L660.08 308.53 L658.6 307.97 L657.12 306.69 L655.64 309.64 L654.16 307.34 L652.68 307.01 L651.2 309.21 L649.72 308.17 L648.24 307.94 L646.75 312 L645.27 312.15 L643.79 313.3 L642.31 313.68 L640.83 313.03 L639.35 313.53 L637.87 317.21 L636.39 309.94 L634.91 306.33 L633.43 302.96 L631.94 303.81 L630.46 303.27 L628.98 304.49 L627.5 301.99 L626.02 303.25 L624.54 306.62 L623.06 308.04 L621.58 308.03 L620.1 309.98 L618.62 311.02 L617.13 307.01 L615.65 311.43 L614.17 313.74 L612.69 315.55 L611.21 320.41 L609.73 315.29 L608.25 313.55 L606.77 314.63 L605.29 308.97 L603.81 309.59 L602.32 311.56 L600.84 311.29 L599.36 307.17 L597.88 310.65 L596.4 312.05 L594.92 309.95 L593.44 313.4 L591.96 315.84 L590.48 311.83 L589 309.62 L587.51 305.25 L586.03 303.95 L584.55 299.33 L583.07 303.98 L581.59 304.27 L580.11 306.67 L578.63 305.08 L577.15 306.71 L575.67 307.23 L574.19 309 L572.7 310.74 L571.22 306.4 L569.74 304.27 L568.26 302.71 L566.78 301.93 L565.3 388.93Z" fill="#0dff0b" fill-opacity="0.2" stroke="#0dff0b" stroke-opacity="0.2" stroke-width="1"/>
<path d="M565.3 390.1 L566.78 294.55 L568.26 295.17 L569.74 294.85 L571.22 294.52 L572.7 294.2 L574.19 293.87 L575.67 293.55 L577.15 293.55 L578.63 293.55 L580.11 293.55 L581.59 293.55 L583.07 293.55 L584.55 293.55 L586.03 293.35 L587.51 293.15 L589 292.94 L590.48 292.74 L591.96 293.55 L593.44 294.36 L594.92 295.17 L596.4 295.98 L597.88 295.44 L599.36 294.9 L600.84 294.36 L602.32 294.09 L603.81 293.82 L605.29 293.55 L606.77 293.82 L608.25 294.09 L609.73 294.36 L611.21 295.57 L612.69 296.79 L614.17 291.93 L615.65 293.15 L617.13 294.36 L618.62 294.36 L620.1 294.36 L621.58 294.36 L623.06 294.36 L624.54 294.36 L626.02 294.52 L627.5 294.68 L628.98 294.85 L630.46 295.01 L631.94 295.17 L633.43 291.93 L634.91 293.15 L636.39 294.36 L637.87 294.36 L639.35 294.36 L640.83 294.36 L642.31 294.36 L643.79 294.3 L645.27 294.23 L646.75 294.17 L648.24 294.1 L649.72 294.04 L651.2 295.98 L652.68 294.36 L654.16 292.74 L655.64 293.55 L657.12 294.36 L658.6 294.16 L660.08 293.96 L661.56 293.75 L663.05 293.55 L664.53 293.01 L666.01 292.47 L667.49 291.93 L668.97 295.98 L670.45 295.01 L671.93 294.04 L673.41 293.79 L674.89 293.55 L676.38 293.31 L677.86 293.07 L679.34 292.96 L680.82 292.85 L682.3 292.74 L683.78 292.76 L685.26 292.76 L686.74 292.76 L688.22 292.76 L689.7 292.76 L691.18 292.76 L692.67 292.76 L694.15 292.76 L695.63 292.76 L697.11 292.76 L698.59 292.76 L700.07 292.76 L701.55 292.76 L703.03 292.76 L704.51 292.76 L706 292.76 L707.48 292.76 L708.96 292.76 L710.44 292.76 L711.92 292.76 L713.4 292.76 L714.88 292.76 L716.36 292.76 L717.84 292.76 L719.32 292.76 L720.8 292.76 L722.29 292.76 L723.77 292.76 L725.25 292.76 L726.73 292.76 L728.21 292.76 L729.69 292.76 L731.17 292.76 L732.65 292.76 L734.13 292.76 L735.62 292.76 L737.1 292.76 L738.58 292.76 L740.06 292.76 L741.54 292.76" fill="none" stroke="#0dff0b" stroke-width="1.75" stroke-linejoin="round" stroke-linecap="butt"/>
<path d="M565.3 390.62 L566.78 281.95 L568.26 280.38 L569.74 280.38 L571.22 300.22 L572.7 271.37 L574.19 280.24 L575.67 284.38 L577.15 267.36 L578.63 305.88 L580.11 281.36 L581.59 287.81 L583.07 287.32 L584.55 294.49 L586.03 290.11 L587.51 292.34 L589 308.38 L590.48 280.9 L591.96 311.85 L593.44 320.66 L594.92 324.26 L596.4 335.39 L597.88 315.55 L599.36 290.09 L600.84 311.63 L602.32 315.47 L603.81 300.31 L605.29 332.8 L606.77 316.79 L608.25 300.09 L609.73 312.53 L611.21 335.15 L612.69 329.76 L614.17 285.62 L615.65 291.07 L617.13 307.23 L618.62 329.64 L620.1 319.84 L621.58 329.7 L623.06 325.11 L624.54 313.43 L626.02 307.52 L627.5 300.77 L628.98 328.13 L630.46 304.36 L631.94 319.76 L633.43 286.68 L634.91 319.63 L636.39 333.55 L637.87 324.02 L639.35 334.18 L640.83 326.44 L642.31 329.38 L643.79 317.56 L645.27 321.37 L646.75 326.09 L648.24 319.12 L649.72 318.15 L651.2 294.49 L652.68 333.56 L654.16 283 L655.64 302.2 L657.12 332.87 L658.6 314.1 L660.08 324.26 L661.56 327.07 L663.05 313.45 L664.53 318.39 L666.01 294.72 L667.49 277.23 L668.97 322.6 L670.45 325.89 L671.93 323.34 L673.41 311.04 L674.89 321.97 L676.38 321.18 L677.86 315.37 L679.34 313.27 L680.82 315.73 L682.3 319.54 L683.78 306.1 L685.26 306.1 L686.74 306.1 L688.22 306.1 L689.7 306.1 L691.18 306.1 L692.67 306.1 L694.15 306.1 L695.63 306.1 L697.11 306.1 L698.59 306.1 L700.07 306.1 L701.55 306.1 L703.03 306.1 L704.51 306.1 L706 306.1 L707.48 306.1 L708.96 306.1 L710.44 306.1 L711.92 306.1 L713.4 306.1 L714.88 306.1 L716.36 306.1 L717.84 306.1 L719.32 306.1 L720.8 306.1 L722.29 306.1 L723.77 306.1 L725.25 306.1 L726.73 306.1 L728.21 306.1 L729.69 306.1 L731.17 306.1 L732.65 306.1 L734.13 306.1 L735.62 306.1 L737.1 306.1 L738.58 306.1 L740.06 306.1 L741.54 306.1 L741.54 418.45 L740.06 418.45 L738.58 418.45 L737.1 418.45 L735.62 418.45 L734.13 418.45 L732.65 418.45 L731.17 418.45 L729.69 418.45 L728.21 418.45 L726.73 418.45 L725.25 418.45 L723.77 418.45 L722.29 418.45 L720.8 418.45 L719.32 418.45 L717.84 418.45 L716.36 418.45 L714.88 418.45 L713.4 418.45 L711.92 418.45 L710.44 418.45 L708.96 418.45 L707.48 418.45 L706 418.45 L704.51 418.45 L703.03 418.45 L701.55 418.45 L700.07 418.45 L698.59 418.45 L697.11 418.45 L695.63 418.45 L694.15 418.45 L692.67 418.45 L691.18 418.45 L689.7 418.45 L688.22 418.45 L686.74 418.45 L685.26 418.45 L683.78 418.45 L682.3 433.36 L680.82 419.32 L679.34 424.93 L677.86 425.98 L676.38 427.52 L674.89 437.23 L673.41 425.06 L671.93 435.86 L670.45 431.21 L668.97 430.3 L667.49 387.48 L666.01 411.98 L664.53 429.26 L663.05 424.75 L661.56 432.13 L660.08 428.64 L658.6 427.25 L657.12 437.88 L655.64 417.1 L654.16 411.1 L652.68 450.84 L651.2 405.91 L649.72 430.55 L648.24 423.28 L646.75 433.11 L645.27 444.13 L643.79 423.79 L642.31 434.02 L640.83 432.76 L639.35 439.72 L637.87 445.68 L636.39 450.85 L634.91 431.17 L633.43 381.18 L631.94 442.59 L630.46 412.84 L628.98 431.07 L627.5 410.13 L626.02 424.38 L624.54 422.67 L623.06 430.94 L621.58 441.05 L620.1 442.51 L618.62 440.06 L617.13 424.67 L615.65 408.28 L614.17 390.62 L612.69 447.29 L611.21 438.75 L609.73 433.02 L608.25 408.71 L606.77 422.46 L605.29 448.45 L603.81 416.89 L602.32 422.73 L600.84 427.62 L599.36 401.91 L597.88 423.7 L596.4 439.56 L594.92 444.39 L593.44 438.54 L591.96 429.5 L590.48 368.05 L589 429.82 L587.51 398.61 L586.03 406.09 L584.55 396.46 L583.07 400.48 L581.59 396.84 L580.11 400.14 L578.63 412.37 L577.15 380.54 L575.67 392.92 L574.19 392.86 L572.7 393.33 L571.22 408.58 L569.74 311.88 L568.26 309.77 L566.78 308.2 L565.3 390.62Z" fill="#ff009f" fill-opacity="0.2" stroke="#ff009f" stroke-opacity="0.2" stroke-width="1"/>
<g fill="#ff009f" stroke="#ff009f" stroke-width="1.2" stroke-linejoin="round">
<use href="#st" x="565.3" y="390.62"/><use href="#st" x="566.78" y="295.08"/><use href="#st" x="568.26" y="295.08"/><use href="#st" x="569.74" y="296.12"/><use href="#st" x="571.22" y="354.4"/><use href="#st" x="572.7" y="332.35"/><use href="#st" x="574.19" y="336.55"/><use href="#st" x="575.67" y="338.65"/><use href="#st" x="577.15" y="323.95"/><use href="#st" x="578.63" y="359.12"/><use href="#st" x="580.11" y="340.75"/><use href="#st" x="581.59" y="342.33"/><use href="#st" x="583.07" y="343.9"/><use href="#st" x="584.55" y="345.48"/><use href="#st" x="586.03" y="348.1"/><use href="#st" x="587.51" y="345.48"/><use href="#st" x="589" y="369.1"/><use href="#st" x="590.48" y="324.48"/><use href="#st" x="591.96" y="370.68"/><use href="#st" x="593.44" y="379.6"/><use href="#st" x="594.92" y="384.33"/><use href="#st" x="596.4" y="387.48"/><use href="#st" x="597.88" y="369.62"/><use href="#st" x="599.36" y="346"/><use href="#st" x="600.84" y="369.62"/><use href="#st" x="602.32" y="369.1"/><use href="#st" x="603.81" y="358.6"/><use href="#st" x="605.29" y="390.62"/><use href="#st" x="606.77" y="369.62"/><use href="#st" x="608.25" y="354.4"/><use href="#st" x="609.73" y="372.78"/><use href="#st" x="611.21" y="386.95"/><use href="#st" x="612.69" y="388.53"/><use href="#st" x="614.17" y="338.12"/><use href="#st" x="615.65" y="349.68"/><use href="#st" x="617.13" y="365.95"/><use href="#st" x="618.62" y="384.85"/><use href="#st" x="620.1" y="381.18"/><use href="#st" x="621.58" y="385.38"/><use href="#st" x="623.06" y="378.03"/><use href="#st" x="624.54" y="368.05"/><use href="#st" x="626.02" y="365.95"/><use href="#st" x="627.5" y="355.45"/><use href="#st" x="628.98" y="379.6"/><use href="#st" x="630.46" y="358.6"/><use href="#st" x="631.94" y="381.18"/><use href="#st" x="633.43" y="333.93"/><use href="#st" x="634.91" y="375.4"/><use href="#st" x="636.39" y="392.2"/><use href="#st" x="637.87" y="384.85"/><use href="#st" x="639.35" y="386.95"/><use href="#st" x="640.83" y="379.6"/><use href="#st" x="642.31" y="381.7"/><use href="#st" x="643.79" y="370.68"/><use href="#st" x="645.27" y="382.75"/><use href="#st" x="646.75" y="379.6"/><use href="#st" x="648.24" y="371.2"/><use href="#st" x="649.72" y="374.35"/><use href="#st" x="651.2" y="350.2"/><use href="#st" x="652.68" y="392.2"/><use href="#st" x="654.16" y="347.05"/><use href="#st" x="655.64" y="359.65"/><use href="#st" x="657.12" y="385.38"/><use href="#st" x="658.6" y="370.68"/><use href="#st" x="660.08" y="376.45"/><use href="#st" x="661.56" y="379.6"/><use href="#st" x="663.05" y="369.1"/><use href="#st" x="664.53" y="373.83"/><use href="#st" x="666.01" y="353.35"/><use href="#st" x="667.49" y="332.35"/><use href="#st" x="668.97" y="376.45"/><use href="#st" x="670.45" y="378.55"/><use href="#st" x="671.93" y="379.6"/><use href="#st" x="673.41" y="368.05"/><use href="#st" x="674.89" y="379.6"/><use href="#st" x="676.38" y="374.35"/><use href="#st" x="677.86" y="370.68"/><use href="#st" x="679.34" y="369.1"/><use href="#st" x="680.82" y="367.53"/><use href="#st" x="682.3" y="376.45"/><use href="#st" x="683.78" y="362.01"/><use href="#st" x="685.26" y="362.01"/><use href="#st" x="686.74" y="362.01"/><use href="#st" x="688.22" y="362.01"/><use href="#st" x="689.7" y="362.01"/><use href="#st" x="691.18" y="362.01"/><use href="#st" x="692.67" y="362.01"/><use href="#st" x="694.15" y="362.01"/><use href="#st" x="695.63" y="362.01"/><use href="#st" x="697.11" y="362.01"/><use href="#st" x="698.59" y="362.01"/><use href="#st" x="700.07" y="362.01"/><use href="#st" x="701.55" y="362.01"/><use href="#st" x="703.03" y="362.01"/><use href="#st" x="704.51" y="362.01"/><use href="#st" x="706" y="362.01"/><use href="#st" x="707.48" y="362.01"/><use href="#st" x="708.96" y="362.01"/><use href="#st" x="710.44" y="362.01"/><use href="#st" x="711.92" y="362.01"/><use href="#st" x="713.4" y="362.01"/><use href="#st" x="714.88" y="362.01"/><use href="#st" x="716.36" y="362.01"/><use href="#st" x="717.84" y="362.01"/><use href="#st" x="719.32" y="362.01"/><use href="#st" x="720.8" y="362.01"/><use href="#st" x="722.29" y="362.01"/><use href="#st" x="723.77" y="362.01"/><use href="#st" x="725.25" y="362.01"/><use href="#st" x="726.73" y="362.01"/><use href="#st" x="728.21" y="362.01"/><use href="#st" x="729.69" y="362.01"/><use href="#st" x="731.17" y="362.01"/><use href="#st" x="732.65" y="362.01"/><use href="#st" x="734.13" y="362.01"/><use href="#st" x="735.62" y="362.01"/><use href="#st" x="737.1" y="362.01"/><use href="#st" x="738.58" y="362.01"/><use href="#st" x="740.06" y="362.01"/><use href="#st" x="741.54" y="362.01"/>
</g>
</g>
<rect x="563.1" y="420.4" width="86.4" height="38.9" rx="2.4" ry="2.4" fill="#fff" fill-opacity="0.8" stroke="#ccc" stroke-opacity="0.8" stroke-width="0.9"/>
<path d="M567.75 429.6 H591.15" stroke="#0dff0b" stroke-width="1.9" stroke-linecap="square" fill="none"/>
<use href="#st" x="579.7" y="447.9" fill="#ff009f" stroke="#ff009f" stroke-width="1.2" stroke-linejoin="round"/>
<text x="600.61" y="434.9" font-size="11.6" textLength="27.12" lengthAdjust="spacingAndGlyphs">cls_7</text>
<text x="600.33" y="452.2" font-size="11.6" textLength="41.59" lengthAdjust="spacingAndGlyphs">noise_7</text>
<rect x="557.4" y="262.5" width="192.4" height="202.8" fill="none" stroke="#000" stroke-width="1"/>
<text x="561.76" y="483.1" font-size="11.6" textLength="6.5" lengthAdjust="spacingAndGlyphs">0</text>
<text x="632.27" y="483.1" font-size="11.6" textLength="13.56" lengthAdjust="spacingAndGlyphs">50</text>
<text x="702.53" y="483.1" font-size="11.6" textLength="20.68" lengthAdjust="spacingAndGlyphs">100</text>
<text x="530.32" y="447" font-size="11.6" textLength="17.15" lengthAdjust="spacingAndGlyphs">0.0</text>
<text x="530.54" y="420.75" font-size="11.6" textLength="16.95" lengthAdjust="spacingAndGlyphs">0.5</text>
<text x="530.33" y="394.5" font-size="11.6" textLength="17.14" lengthAdjust="spacingAndGlyphs">1.0</text>
<text x="530.56" y="368.25" font-size="11.6" textLength="16.93" lengthAdjust="spacingAndGlyphs">1.5</text>
<text x="530.24" y="342" font-size="11.6" textLength="17.22" lengthAdjust="spacingAndGlyphs">2.0</text>
<text x="530.47" y="315.75" font-size="11.6" textLength="17.02" lengthAdjust="spacingAndGlyphs">2.5</text>
<text x="530.43" y="289.5" font-size="11.6" textLength="17.03" lengthAdjust="spacingAndGlyphs">3.0</text>
<path d="M565.3 465.3v3.9M639.35 465.3v3.9M713.4 465.3v3.9M557.4 442.6h-3.9M557.4 416.35h-3.9M557.4 390.1h-3.9M557.4 363.85h-3.9M557.4 337.6h-3.9M557.4 311.35h-3.9M557.4 285.1h-3.9" stroke="#000" stroke-width="1" fill="none"/>
<text x="633.29" y="501.9" font-size="14.2" textLength="40.34" lengthAdjust="spacingAndGlyphs">epoch</text>
<g transform="translate(522.2 364.5) rotate(-90)"><text x="-22.06" y="0" font-size="14.2" textLength="44.17" lengthAdjust="spacingAndGlyphs">weight</text></g>
<g clip-path="url(#c8)">
<path d="M821.5 385.1 L822.97 290.15 L824.45 287.17 L825.92 285.47 L827.39 284.57 L828.87 282.97 L830.34 283.26 L831.81 283.1 L833.28 283.33 L834.76 282.89 L836.23 281.38 L837.7 282.43 L839.18 281.25 L840.65 280.68 L842.12 279.72 L843.6 279.84 L845.07 278.85 L846.54 280.44 L848.01 281.81 L849.49 282.83 L850.96 279.87 L852.43 279.78 L853.91 277.65 L855.38 280.39 L856.85 282.47 L858.33 283.75 L859.8 284.9 L861.27 283.64 L862.74 283.76 L864.22 281.54 L865.69 280.61 L867.16 278.71 L868.64 277.04 L870.11 282.09 L871.58 286.02 L873.05 285.98 L874.53 286.43 L876 286.46 L877.47 286.49 L878.95 287.27 L880.42 288.74 L881.89 289.59 L883.37 289.06 L884.84 287.33 L886.31 288.19 L887.78 286.76 L889.26 287.01 L890.73 288.02 L892.2 287.61 L893.68 288.81 L895.15 288.55 L896.62 289.85 L898.1 290.12 L899.57 289.13 L901.04 289.81 L902.51 288.96 L903.99 287.3 L905.46 286.38 L906.93 285.12 L908.41 287.23 L909.88 288.15 L911.35 290.32 L912.83 288.93 L914.3 289.36 L915.77 289.12 L917.25 288.67 L918.72 289.08 L920.19 288.6 L921.66 288.04 L923.14 289.06 L924.61 288.45 L926.08 290.07 L927.56 288.84 L929.03 287.58 L930.5 284.29 L931.98 283.41 L933.45 282.79 L934.92 283.34 L936.39 283.8 L937.87 289.56 L939.34 290.29 L940.81 290.29 L942.29 290.29 L943.76 290.29 L945.23 290.29 L946.71 290.29 L948.18 290.29 L949.65 290.29 L951.12 290.29 L952.6 290.29 L954.07 290.29 L955.54 290.29 L957.02 290.29 L958.49 290.29 L959.96 290.29 L961.43 290.29 L962.91 290.29 L964.38 290.29 L965.85 290.29 L967.33 290.29 L968.8 290.29 L970.27 290.29 L971.75 290.29 L973.22 290.29 L974.69 290.29 L976.16 290.29 L977.64 290.29 L979.11 290.29 L980.58 290.29 L982.06 290.29 L983.53 290.29 L985 290.29 L986.48 290.29 L987.95 290.29 L989.42 290.29 L990.89 290.29 L992.37 290.29 L993.84 290.29 L995.31 290.29 L996.79 290.29 L996.79 292.56 L995.31 292.56 L993.84 292.56 L992.37 292.56 L990.89 292.56 L989.42 292.56 L987.95 292.56 L986.48 292.56 L985 292.56 L983.53 292.56 L982.06 292.56 L980.58 292.56 L979.11 292.56 L977.64 292.56 L976.16 292.56 L974.69 292.56 L973.22 292.56 L971.75 292.56 L970.27 292.56 L968.8 292.56 L967.33 292.56 L965.85 292.56 L964.38 292.56 L962.91 292.56 L961.43 292.56 L959.96 292.56 L958.49 292.56 L957.02 292.56 L955.54 292.56 L954.07 292.56 L952.6 292.56 L951.12 292.56 L949.65 292.56 L948.18 292.56 L946.71 292.56 L945.23 292.56 L943.76 292.56 L942.29 292.56 L940.81 292.56 L939.34 292.56 L937.87 292.26 L936.39 297.43 L934.92 300.21 L933.45 303.26 L931.98 301.13 L930.5 298.73 L929.03 296.6 L927.56 293.91 L926.08 294.76 L924.61 294.74 L923.14 293.16 L921.66 293.18 L920.19 293.22 L918.72 293.65 L917.25 293.84 L915.77 293.66 L914.3 293.66 L912.83 295.16 L911.35 293.44 L909.88 296.12 L908.41 296.97 L906.93 298.26 L905.46 293.94 L903.99 294.52 L902.51 294.19 L901.04 293.87 L899.57 294.9 L898.1 294.12 L896.62 295.53 L895.15 295.05 L893.68 295.54 L892.2 294.21 L890.73 295.63 L889.26 295.78 L887.78 295.71 L886.31 295.49 L884.84 295.5 L883.37 296.87 L881.89 295.99 L880.42 296.56 L878.95 298.58 L877.47 298.48 L876 298.02 L874.53 298.48 L873.05 299.28 L871.58 302.56 L870.11 305.31 L868.64 309.82 L867.16 306.17 L865.69 304.93 L864.22 301.06 L862.74 301.37 L861.27 302.09 L859.8 301.94 L858.33 305.53 L856.85 307.14 L855.38 308.98 L853.91 307.98 L852.43 306.46 L850.96 307.26 L849.49 305.79 L848.01 308.69 L846.54 310.61 L845.07 309.74 L843.6 310.15 L842.12 309.83 L840.65 309.61 L839.18 306.85 L837.7 306.54 L836.23 303.94 L834.76 302.86 L833.28 304.29 L831.81 303.77 L830.34 302.39 L828.87 303.01 L827.39 302.73 L825.92 303.37 L824.45 302.35 L822.97 299.17 L821.5 386.36Z" fill="#59d200" fill-opacity="0.2" stroke="#59d200" stroke-opacity="0.2" stroke-width="1"/>
<path d="M821.5 385.8 L822.97 294.07 L824.45 294.36 L825.92 293.82 L827.39 293.28 L828.87 292.74 L830.34 292.84 L831.81 292.94 L833.28 293.05 L834.76 293.15 L836.23 293.25 L837.7 293.35 L839.18 293.45 L840.65 293.55 L842.12 293.96 L843.6 294.36 L845.07 294.76 L846.54 295.17 L848.01 293.96 L849.49 292.74 L850.96 293.28 L852.43 293.82 L853.91 294.36 L855.38 293.75 L856.85 293.15 L858.33 292.54 L859.8 291.93 L861.27 292.26 L862.74 292.58 L864.22 292.9 L865.69 293.23 L867.16 293.55 L868.64 293.28 L870.11 293.01 L871.58 292.74 L873.05 292.47 L874.53 292.2 L876 291.93 L877.47 291.88 L878.95 291.82 L880.42 291.77 L881.89 291.72 L883.37 291.66 L884.84 291.61 L886.31 291.56 L887.78 291.5 L889.26 291.45 L890.73 291.42 L892.2 291.39 L893.68 291.36 L895.15 291.33 L896.62 291.3 L898.1 291.27 L899.57 291.24 L901.04 291.21 L902.51 291.18 L903.99 291.15 L905.46 291.12 L906.93 292.42 L908.41 292.29 L909.88 292.16 L911.35 292.03 L912.83 291.9 L914.3 291.77 L915.77 291.64 L917.25 291.51 L918.72 291.38 L920.19 291.25 L921.66 291.12 L923.14 291.21 L924.61 291.3 L926.08 291.39 L927.56 291.48 L929.03 291.57 L930.5 291.66 L931.98 291.75 L933.45 291.84 L934.92 291.93 L936.39 291.69 L937.87 291.45 L939.34 291.45 L940.81 291.45 L942.29 291.45 L943.76 291.45 L945.23 291.45 L946.71 291.45 L948.18 291.45 L949.65 291.45 L951.12 291.45 L952.6 291.45 L954.07 291.45 L955.54 291.45 L957.02 291.45 L958.49 291.45 L959.96 291.45 L961.43 291.45 L962.91 291.45 L964.38 291.45 L965.85 291.45 L967.33 291.45 L968.8 291.45 L970.27 291.45 L971.75 291.45 L973.22 291.45 L974.69 291.45 L976.16 291.45 L977.64 291.45 L979.11 291.45 L980.58 291.45 L982.06 291.45 L983.53 291.45 L985 291.45 L986.48 291.45 L987.95 291.45 L989.42 291.45 L990.89 291.45 L992.37 291.45 L993.84 291.45 L995.31 291.45 L996.79 291.45" fill="none" stroke="#59d200" stroke-width="1.75" stroke-linejoin="round" stroke-linecap="butt"/>
<path d="M821.5 385.8 L822.97 281.98 L824.45 280.46 L825.92 280.46 L827.39 297.73 L828.87 300.31 L830.34 271.9 L831.81 275.67 L833.28 282.59 L834.76 314.15 L836.23 300.67 L837.7 314.13 L839.18 297.46 L840.65 319.5 L842.12 316.24 L843.6 331.34 L845.07 317.74 L846.54 298.61 L848.01 332.54 L849.49 348.5 L850.96 334.41 L852.43 334.78 L853.91 343 L855.38 310.7 L856.85 325.64 L858.33 334.96 L859.8 319.26 L861.27 339.88 L862.74 317.07 L864.22 322.88 L865.69 331.88 L867.16 335.08 L868.64 345.8 L870.11 308.69 L871.58 317.31 L873.05 341.86 L874.53 339.16 L876 349.83 L877.47 336.71 L878.95 331.49 L880.42 311.74 L881.89 330.18 L883.37 300.52 L884.84 299.52 L886.31 294.58 L887.78 325.38 L889.26 286.51 L890.73 326.99 L892.2 329.08 L893.68 326.95 L895.15 328.05 L896.62 332.08 L898.1 331.47 L899.57 336.03 L901.04 323.1 L902.51 311.28 L903.99 331.06 L905.46 308.85 L906.93 294.58 L908.41 342.66 L909.88 303.84 L911.35 317.21 L912.83 321.31 L914.3 316.92 L915.77 316.41 L917.25 318.61 L918.72 302.18 L920.19 312.54 L921.66 289.31 L923.14 278.45 L924.61 320.54 L926.08 331.51 L927.56 317.65 L929.03 330.71 L930.5 327.51 L931.98 328.59 L933.45 321.71 L934.92 328.42 L936.39 305.66 L937.87 324.78 L939.34 312.22 L940.81 312.22 L942.29 312.22 L943.76 312.22 L945.23 312.22 L946.71 312.22 L948.18 312.22 L949.65 312.22 L951.12 312.22 L952.6 312.22 L954.07 312.22 L955.54 312.22 L957.02 312.22 L958.49 312.22 L959.96 312.22 L961.43 312.22 L962.91 312.22 L964.38 312.22 L965.85 312.22 L967.33 312.22 L968.8 312.22 L970.27 312.22 L971.75 312.22 L973.22 312.22 L974.69 312.22 L976.16 312.22 L977.64 312.22 L979.11 312.22 L980.58 312.22 L982.06 312.22 L983.53 312.22 L985 312.22 L986.48 312.22 L987.95 312.22 L989.42 312.22 L990.89 312.22 L992.37 312.22 L993.84 312.22 L995.31 312.22 L996.79 312.22 L996.79 426.12 L995.31 426.12 L993.84 426.12 L992.37 426.12 L990.89 426.12 L989.42 426.12 L987.95 426.12 L986.48 426.12 L985 426.12 L983.53 426.12 L982.06 426.12 L980.58 426.12 L979.11 426.12 L977.64 426.12 L976.16 426.12 L974.69 426.12 L973.22 426.12 L971.75 426.12 L970.27 426.12 L968.8 426.12 L967.33 426.12 L965.85 426.12 L964.38 426.12 L962.91 426.12 L961.43 426.12 L959.96 426.12 L958.49 426.12 L957.02 426.12 L955.54 426.12 L954.07 426.12 L952.6 426.12 L951.12 426.12 L949.65 426.12 L948.18 426.12 L946.71 426.12 L945.23 426.12 L943.76 426.12 L942.29 426.12 L940.81 426.12 L939.34 426.12 L937.87 432.71 L936.39 435.7 L934.92 443.18 L933.45 439.81 L931.98 443.01 L930.5 429.98 L929.03 445.93 L927.56 424.71 L926.08 437.07 L924.61 426.86 L923.14 389.33 L921.66 407.69 L920.19 428.82 L918.72 419.02 L917.25 419.73 L915.77 435.03 L914.3 419.4 L912.83 426.09 L911.35 437.25 L909.88 416.35 L908.41 455.14 L906.93 422.59 L905.46 429.49 L903.99 434.49 L902.51 422.02 L901.04 434.39 L899.57 445.65 L898.1 440.13 L896.62 433.47 L895.15 445.57 L893.68 444.65 L892.2 445.54 L890.73 430.49 L889.26 375.22 L887.78 441.18 L886.31 410.5 L884.84 413.61 L883.37 420.68 L881.89 432.35 L880.42 428.61 L878.95 450.19 L877.47 446.48 L876 453.02 L874.53 453.61 L873.05 445.87 L871.58 429.09 L870.11 414.53 L868.64 458.05 L867.16 452.64 L865.69 436.69 L864.22 429.57 L862.74 432.35 L861.27 441.8 L859.8 423.11 L858.33 438.66 L856.85 434.87 L855.38 420.58 L853.91 451.78 L852.43 446.9 L850.96 441.22 L849.49 444.26 L848.01 443.09 L846.54 413.52 L845.07 429.67 L843.6 445.3 L842.12 418.07 L840.65 437.99 L839.18 415.68 L837.7 416.14 L836.23 420.53 L834.76 422.17 L833.28 384.18 L831.81 388.07 L830.34 389.83 L828.87 414.34 L827.39 414.4 L825.92 310.7 L824.45 308.69 L822.97 307.18 L821.5 385.8Z" fill="#cf18ff" fill-opacity="0.2" stroke="#cf18ff" stroke-opacity="0.2" stroke-width="1"/>
<g fill="#cf18ff" stroke="#cf18ff" stroke-width="1.2" stroke-linejoin="round">
<use href="#st" x="821.5" y="385.8"/><use href="#st" x="822.97" y="294.58"/><use href="#st" x="824.45" y="294.58"/><use href="#st" x="825.92" y="295.58"/><use href="#st" x="827.39" y="356.06"/><use href="#st" x="828.87" y="357.32"/><use href="#st" x="830.34" y="330.86"/><use href="#st" x="831.81" y="331.87"/><use href="#st" x="833.28" y="333.38"/><use href="#st" x="834.76" y="368.16"/><use href="#st" x="836.23" y="360.6"/><use href="#st" x="837.7" y="365.14"/><use href="#st" x="839.18" y="356.57"/><use href="#st" x="840.65" y="378.74"/><use href="#st" x="842.12" y="367.15"/><use href="#st" x="843.6" y="388.32"/><use href="#st" x="845.07" y="373.7"/><use href="#st" x="846.54" y="356.06"/><use href="#st" x="848.01" y="387.82"/><use href="#st" x="849.49" y="396.38"/><use href="#st" x="850.96" y="387.82"/><use href="#st" x="852.43" y="390.84"/><use href="#st" x="853.91" y="397.39"/><use href="#st" x="855.38" y="365.64"/><use href="#st" x="856.85" y="380.26"/><use href="#st" x="858.33" y="386.81"/><use href="#st" x="859.8" y="371.18"/><use href="#st" x="861.27" y="390.84"/><use href="#st" x="862.74" y="374.71"/><use href="#st" x="864.22" y="376.22"/><use href="#st" x="865.69" y="384.29"/><use href="#st" x="867.16" y="393.86"/><use href="#st" x="868.64" y="401.93"/><use href="#st" x="870.11" y="361.61"/><use href="#st" x="871.58" y="373.2"/><use href="#st" x="873.05" y="393.86"/><use href="#st" x="874.53" y="396.38"/><use href="#st" x="876" y="401.42"/><use href="#st" x="877.47" y="391.6"/><use href="#st" x="878.95" y="390.84"/><use href="#st" x="880.42" y="370.18"/><use href="#st" x="881.89" y="381.26"/><use href="#st" x="883.37" y="360.6"/><use href="#st" x="884.84" y="356.57"/><use href="#st" x="886.31" y="352.54"/><use href="#st" x="887.78" y="383.28"/><use href="#st" x="889.26" y="330.86"/><use href="#st" x="890.73" y="378.74"/><use href="#st" x="892.2" y="387.31"/><use href="#st" x="893.68" y="385.8"/><use href="#st" x="895.15" y="386.81"/><use href="#st" x="896.62" y="382.78"/><use href="#st" x="898.1" y="385.8"/><use href="#st" x="899.57" y="390.84"/><use href="#st" x="901.04" y="378.74"/><use href="#st" x="902.51" y="366.65"/><use href="#st" x="903.99" y="382.78"/><use href="#st" x="905.46" y="369.17"/><use href="#st" x="906.93" y="358.58"/><use href="#st" x="908.41" y="398.9"/><use href="#st" x="909.88" y="360.1"/><use href="#st" x="911.35" y="377.23"/><use href="#st" x="912.83" y="373.7"/><use href="#st" x="914.3" y="368.16"/><use href="#st" x="915.77" y="375.72"/><use href="#st" x="917.25" y="369.17"/><use href="#st" x="918.72" y="360.6"/><use href="#st" x="920.19" y="370.68"/><use href="#st" x="921.66" y="348.5"/><use href="#st" x="923.14" y="333.89"/><use href="#st" x="924.61" y="373.7"/><use href="#st" x="926.08" y="384.29"/><use href="#st" x="927.56" y="371.18"/><use href="#st" x="929.03" y="388.32"/><use href="#st" x="930.5" y="378.74"/><use href="#st" x="931.98" y="385.8"/><use href="#st" x="933.45" y="380.76"/><use href="#st" x="934.92" y="385.8"/><use href="#st" x="936.39" y="370.68"/><use href="#st" x="937.87" y="378.74"/><use href="#st" x="939.34" y="368.92"/><use href="#st" x="940.81" y="368.92"/><use href="#st" x="942.29" y="368.92"/><use href="#st" x="943.76" y="368.92"/><use href="#st" x="945.23" y="368.92"/><use href="#st" x="946.71" y="368.92"/><use href="#st" x="948.18" y="368.92"/><use href="#st" x="949.65" y="368.92"/><use href="#st" x="951.12" y="368.92"/><use href="#st" x="952.6" y="368.92"/><use href="#st" x="954.07" y="368.92"/><use href="#st" x="955.54" y="368.92"/><use href="#st" x="957.02" y="368.92"/><use href="#st" x="958.49" y="368.92"/><use href="#st" x="959.96" y="368.92"/><use href="#st" x="961.43" y="368.92"/><use href="#st" x="962.91" y="368.92"/><use href="#st" x="964.38" y="368.92"/><use href="#st" x="965.85" y="368.92"/><use href="#st" x="967.33" y="368.92"/><use href="#st" x="968.8" y="368.92"/><use href="#st" x="970.27" y="368.92"/><use href="#st" x="971.75" y="368.92"/><use href="#st" x="973.22" y="368.92"/><use href="#st" x="974.69" y="368.92"/><use href="#st" x="976.16" y="368.92"/><use href="#st" x="977.64" y="368.92"/><use href="#st" x="979.11" y="368.92"/><use href="#st" x="980.58" y="368.92"/><use href="#st" x="982.06" y="368.92"/><use href="#st" x="983.53" y="368.92"/><use href="#st" x="985" y="368.92"/><use href="#st" x="986.48" y="368.92"/><use href="#st" x="987.95" y="368.92"/><use href="#st" x="989.42" y="368.92"/><use href="#st" x="990.89" y="368.92"/><use href="#st" x="992.37" y="368.92"/><use href="#st" x="993.84" y="368.92"/><use href="#st" x="995.31" y="368.92"/><use href="#st" x="996.79" y="368.92"/>
</g>
</g>
<rect x="819" y="420.4" width="86.4" height="38.9" rx="2.4" ry="2.4" fill="#fff" fill-opacity="0.8" stroke="#ccc" stroke-opacity="0.8" stroke-width="0.9"/>
<path d="M823.65 429.6 H847.05" stroke="#59d200" stroke-width="1.9" stroke-linecap="square" fill="none"/>
<use href="#st" x="835.6" y="447.9" fill="#cf18ff" stroke="#cf18ff" stroke-width="1.2" stroke-linejoin="round"/>
<text x="856.5" y="434.9" font-size="11.6" textLength="27.23" lengthAdjust="spacingAndGlyphs">cls_8</text>
<text x="856.23" y="452.2" font-size="11.6" textLength="41.7" lengthAdjust="spacingAndGlyphs">noise_8</text>
<rect x="813.3" y="262.5" width="192.7" height="202.8" fill="none" stroke="#000" stroke-width="1"/>
<text x="817.96" y="483.1" font-size="11.6" textLength="6.5" lengthAdjust="spacingAndGlyphs">0</text>
<text x="888.07" y="483.1" font-size="11.6" textLength="13.56" lengthAdjust="spacingAndGlyphs">50</text>
<text x="957.93" y="483.1" font-size="11.6" textLength="20.68" lengthAdjust="spacingAndGlyphs">100</text>
<text x="798.25" y="440.6" font-size="11.6" textLength="6.5" lengthAdjust="spacingAndGlyphs">0</text>
<text x="798.6" y="390.2" font-size="11.6" textLength="6.25" lengthAdjust="spacingAndGlyphs">1</text>
<text x="798.57" y="339.8" font-size="11.6" textLength="6.28" lengthAdjust="spacingAndGlyphs">2</text>
<text x="798.52" y="289.4" font-size="11.6" textLength="6.28" lengthAdjust="spacingAndGlyphs">3</text>
<path d="M821.5 465.3v3.9M895.15 465.3v3.9M968.8 465.3v3.9M813.3 436.2h-3.9M813.3 385.8h-3.9M813.3 335.4h-3.9M813.3 285h-3.9" stroke="#000" stroke-width="1" fill="none"/>
<text x="889.34" y="501.9" font-size="14.2" textLength="40.34" lengthAdjust="spacingAndGlyphs">epoch</text>
<g transform="translate(789.7 364.5) rotate(-90)"><text x="-22.06" y="0" font-size="14.2" textLength="44.17" lengthAdjust="spacingAndGlyphs">weight</text></g>
<g clip-path="url(#c9)">
<path d="M1077.5 403.2 L1078.97 284.72 L1080.44 282.29 L1081.91 283.96 L1083.38 286.69 L1084.85 289.41 L1086.32 292.25 L1087.79 293.95 L1089.26 294.54 L1090.73 295.68 L1092.2 295.7 L1093.67 295.72 L1095.14 295.74 L1096.61 295.76 L1098.08 295.78 L1099.55 295.8 L1101.02 295.82 L1102.49 295.84 L1103.96 295.87 L1105.43 295.89 L1106.9 295.91 L1108.37 295.93 L1109.84 295.95 L1111.31 295.97 L1112.78 295.99 L1114.25 295.99 L1115.72 295.99 L1117.19 295.99 L1118.66 295.99 L1120.13 295.99 L1121.6 295.99 L1123.07 295.99 L1124.54 295.99 L1126.01 295.99 L1127.48 295.99 L1128.95 295.99 L1130.42 295.99 L1131.89 295.99 L1133.36 295.99 L1134.83 295.99 L1136.3 295.99 L1137.77 295.99 L1139.24 295.99 L1140.71 295.99 L1142.18 295.99 L1143.65 295.99 L1145.12 295.99 L1146.59 295.99 L1148.06 295.99 L1149.53 296.63 L1151 297.28 L1152.47 295.99 L1153.94 295.99 L1155.41 295.99 L1156.88 295.99 L1158.35 295.99 L1159.82 295.99 L1161.29 295.99 L1162.76 295.99 L1164.23 295.99 L1165.7 295.99 L1167.17 295.99 L1168.64 295.99 L1170.11 295.99 L1171.58 295.99 L1173.05 295.99 L1174.52 295.99 L1175.99 295.99 L1177.46 295.99 L1178.93 295.99 L1180.4 295.99 L1181.87 295.99 L1183.34 295.99 L1184.81 295.99 L1186.28 295.99 L1187.75 295.99 L1189.22 295.99 L1190.69 295.99 L1192.16 295.99 L1193.63 295.99 L1195.1 296.25 L1196.57 296.25 L1198.04 296.25 L1199.51 296.25 L1200.98 296.25 L1202.45 296.25 L1203.92 296.25 L1205.39 296.25 L1206.86 296.25 L1208.33 296.25 L1209.8 296.25 L1211.27 296.25 L1212.74 296.25 L1214.21 296.25 L1215.68 296.25 L1217.15 296.25 L1218.62 296.25 L1220.09 296.25 L1221.56 296.25 L1223.03 296.25 L1224.5 296.25 L1225.97 296.25 L1227.44 296.25 L1228.91 296.25 L1230.38 296.25 L1231.85 296.25 L1233.32 296.25 L1234.79 296.25 L1236.26 296.25 L1237.73 296.25 L1239.2 296.25 L1240.67 296.25 L1242.14 296.25 L1243.61 296.25 L1245.08 296.25 L1246.55 296.25 L1248.02 296.25 L1249.49 296.25 L1250.96 296.25 L1252.43 296.25 L1252.43 297.94 L1250.96 297.94 L1249.49 297.94 L1248.02 297.94 L1246.55 297.94 L1245.08 297.94 L1243.61 297.94 L1242.14 297.94 L1240.67 297.94 L1239.2 297.94 L1237.73 297.94 L1236.26 297.94 L1234.79 297.94 L1233.32 297.94 L1231.85 297.94 L1230.38 297.94 L1228.91 297.94 L1227.44 297.94 L1225.97 297.94 L1224.5 297.94 L1223.03 297.94 L1221.56 297.94 L1220.09 297.94 L1218.62 297.94 L1217.15 297.94 L1215.68 297.94 L1214.21 297.94 L1212.74 297.94 L1211.27 297.94 L1209.8 297.94 L1208.33 297.94 L1206.86 297.94 L1205.39 297.94 L1203.92 297.94 L1202.45 297.94 L1200.98 297.94 L1199.51 297.94 L1198.04 297.94 L1196.57 297.94 L1195.1 297.94 L1193.63 298.23 L1192.16 298.23 L1190.69 298.23 L1189.22 298.23 L1187.75 298.23 L1186.28 298.23 L1184.81 298.23 L1183.34 298.23 L1181.87 298.23 L1180.4 298.23 L1178.93 298.23 L1177.46 298.23 L1175.99 298.23 L1174.52 298.23 L1173.05 298.23 L1171.58 298.23 L1170.11 298.23 L1168.64 298.23 L1167.17 298.23 L1165.7 298.23 L1164.23 298.23 L1162.76 298.23 L1161.29 298.23 L1159.82 298.23 L1158.35 298.23 L1156.88 298.23 L1155.41 298.23 L1153.94 298.23 L1152.47 298.23 L1151 299.53 L1149.53 298.88 L1148.06 298.23 L1146.59 298.23 L1145.12 298.23 L1143.65 298.23 L1142.18 298.23 L1140.71 298.23 L1139.24 298.23 L1137.77 298.23 L1136.3 298.23 L1134.83 298.23 L1133.36 298.23 L1131.89 298.23 L1130.42 298.23 L1128.95 298.23 L1127.48 298.23 L1126.01 298.23 L1124.54 298.23 L1123.07 298.23 L1121.6 298.23 L1120.13 298.23 L1118.66 298.23 L1117.19 298.23 L1115.72 298.23 L1114.25 298.23 L1112.78 298.23 L1111.31 298.21 L1109.84 298.19 L1108.37 298.17 L1106.9 298.15 L1105.43 298.13 L1103.96 298.11 L1102.49 298.09 L1101.02 298.07 L1099.55 298.05 L1098.08 298.03 L1096.61 298.01 L1095.14 297.99 L1093.67 297.97 L1092.2 297.95 L1090.73 297.93 L1089.26 299.03 L1087.79 300.7 L1086.32 303.49 L1084.85 307.4 L1083.38 311.42 L1081.91 315.44 L1080.44 319.38 L1078.97 324.06 L1077.5 403.2Z" fill="#78ef00" fill-opacity="0.2" stroke="#78ef00" stroke-opacity="0.2" stroke-width="1"/>
<path d="M1077.5 403.2 L1078.97 304.39 L1080.44 300.83 L1081.91 299.7 L1083.38 299.05 L1084.85 298.4 L1086.32 297.87 L1087.79 297.33 L1089.26 296.79 L1090.73 296.81 L1092.2 296.83 L1093.67 296.85 L1095.14 296.87 L1096.61 296.89 L1098.08 296.91 L1099.55 296.93 L1101.02 296.95 L1102.49 296.97 L1103.96 296.99 L1105.43 297.01 L1106.9 297.03 L1108.37 297.05 L1109.84 297.07 L1111.31 297.09 L1112.78 297.11 L1114.25 297.11 L1115.72 297.11 L1117.19 297.11 L1118.66 297.11 L1120.13 297.11 L1121.6 297.11 L1123.07 297.11 L1124.54 297.11 L1126.01 297.11 L1127.48 297.11 L1128.95 297.11 L1130.42 297.11 L1131.89 297.11 L1133.36 297.11 L1134.83 297.11 L1136.3 297.11 L1137.77 297.11 L1139.24 297.11 L1140.71 297.11 L1142.18 297.11 L1143.65 297.11 L1145.12 297.11 L1146.59 297.11 L1148.06 297.11 L1149.53 297.76 L1151 298.4 L1152.47 297.11 L1153.94 297.11 L1155.41 297.11 L1156.88 297.11 L1158.35 297.11 L1159.82 297.11 L1161.29 297.11 L1162.76 297.11 L1164.23 297.11 L1165.7 297.11 L1167.17 297.11 L1168.64 297.11 L1170.11 297.11 L1171.58 297.11 L1173.05 297.11 L1174.52 297.11 L1175.99 297.11 L1177.46 297.11 L1178.93 297.11 L1180.4 297.11 L1181.87 297.11 L1183.34 297.11 L1184.81 297.11 L1186.28 297.11 L1187.75 297.11 L1189.22 297.11 L1190.69 297.11 L1192.16 297.11 L1193.63 297.11 L1195.1 297.09 L1196.57 297.09 L1198.04 297.09 L1199.51 297.09 L1200.98 297.09 L1202.45 297.09 L1203.92 297.09 L1205.39 297.09 L1206.86 297.09 L1208.33 297.09 L1209.8 297.09 L1211.27 297.09 L1212.74 297.09 L1214.21 297.09 L1215.68 297.09 L1217.15 297.09 L1218.62 297.09 L1220.09 297.09 L1221.56 297.09 L1223.03 297.09 L1224.5 297.09 L1225.97 297.09 L1227.44 297.09 L1228.91 297.09 L1230.38 297.09 L1231.85 297.09 L1233.32 297.09 L1234.79 297.09 L1236.26 297.09 L1237.73 297.09 L1239.2 297.09 L1240.67 297.09 L1242.14 297.09 L1243.61 297.09 L1245.08 297.09 L1246.55 297.09 L1248.02 297.09 L1249.49 297.09 L1250.96 297.09 L1252.43 297.09" fill="none" stroke="#78ef00" stroke-width="1.75" stroke-linejoin="round" stroke-linecap="butt"/>
<path d="M1077.5 403.2 L1078.97 287.99 L1080.44 289.51 L1081.91 287.35 L1083.38 285.19 L1084.85 283.03 L1086.32 278.99 L1087.79 278.58 L1089.26 278.18 L1090.73 285.46 L1092.2 292.74 L1093.67 289.51 L1095.14 286.27 L1096.61 285.46 L1098.08 284.65 L1099.55 294.36 L1101.02 287.08 L1102.49 279.8 L1103.96 294.36 L1105.43 295.17 L1106.9 295.98 L1108.37 296.79 L1109.84 288.7 L1111.31 280.61 L1112.78 291.12 L1114.25 286.67 L1115.72 282.22 L1117.19 285.87 L1118.66 289.51 L1120.13 281.42 L1121.6 287.08 L1123.07 292.74 L1124.54 284.65 L1126.01 276.56 L1127.48 283.84 L1128.95 291.12 L1130.42 292.74 L1131.89 294.36 L1133.36 289.51 L1134.83 284.65 L1136.3 282.22 L1137.77 279.8 L1139.24 281.42 L1140.71 283.03 L1142.18 278.99 L1143.65 284.25 L1145.12 289.51 L1146.59 293.15 L1148.06 296.79 L1149.53 298 L1151 299.21 L1152.47 298 L1153.94 296.79 L1155.41 292.2 L1156.88 287.62 L1158.35 283.03 L1159.82 280.61 L1161.29 278.18 L1162.76 275.75 L1164.23 285.06 L1165.7 294.36 L1167.17 276.56 L1168.64 291.12 L1170.11 288.97 L1171.58 286.81 L1173.05 284.65 L1174.52 283.03 L1175.99 281.42 L1177.46 276.56 L1178.93 271.71 L1180.4 283.03 L1181.87 287.89 L1183.34 292.74 L1184.81 294.36 L1186.28 289.51 L1187.75 284.65 L1189.22 289.91 L1190.69 295.17 L1192.16 280.61 L1193.63 283.03 L1195.1 281.81 L1196.57 281.81 L1198.04 281.81 L1199.51 281.81 L1200.98 281.81 L1202.45 281.81 L1203.92 281.81 L1205.39 281.81 L1206.86 281.81 L1208.33 281.81 L1209.8 281.81 L1211.27 281.81 L1212.74 281.81 L1214.21 281.81 L1215.68 281.81 L1217.15 281.81 L1218.62 281.81 L1220.09 281.81 L1221.56 281.81 L1223.03 281.81 L1224.5 281.81 L1225.97 281.81 L1227.44 281.81 L1228.91 281.81 L1230.38 281.81 L1231.85 281.81 L1233.32 281.81 L1234.79 281.81 L1236.26 281.81 L1237.73 281.81 L1239.2 281.81 L1240.67 281.81 L1242.14 281.81 L1243.61 281.81 L1245.08 281.81 L1246.55 281.81 L1248.02 281.81 L1249.49 281.81 L1250.96 281.81 L1252.43 281.81 L1252.43 357.9 L1250.96 357.9 L1249.49 357.9 L1248.02 357.9 L1246.55 357.9 L1245.08 357.9 L1243.61 357.9 L1242.14 357.9 L1240.67 357.9 L1239.2 357.9 L1237.73 357.9 L1236.26 357.9 L1234.79 357.9 L1233.32 357.9 L1231.85 357.9 L1230.38 357.9 L1228.91 357.9 L1227.44 357.9 L1225.97 357.9 L1224.5 357.9 L1223.03 357.9 L1221.56 357.9 L1220.09 357.9 L1218.62 357.9 L1217.15 357.9 L1215.68 357.9 L1214.21 357.9 L1212.74 357.9 L1211.27 357.9 L1209.8 357.9 L1208.33 357.9 L1206.86 357.9 L1205.39 357.9 L1203.92 357.9 L1202.45 357.9 L1200.98 357.9 L1199.51 357.9 L1198.04 357.9 L1196.57 357.9 L1195.1 357.9 L1193.63 417.2 L1192.16 396.57 L1190.69 420.73 L1189.22 391.04 L1187.75 421.78 L1186.28 429.05 L1184.81 423.68 L1183.34 386 L1181.87 411.14 L1180.4 393.88 L1178.93 423.92 L1177.46 375.66 L1175.99 421.6 L1174.52 388.66 L1173.05 412.82 L1171.58 388.77 L1170.11 421.04 L1168.64 394.47 L1167.17 422.83 L1165.7 425.68 L1164.23 455.47 L1162.76 391.44 L1161.29 421.73 L1159.82 395.75 L1158.35 414.43 L1156.88 385.46 L1155.41 418.01 L1153.94 390.51 L1152.47 413.45 L1151 396.04 L1149.53 417.61 L1148.06 396.96 L1146.59 422.31 L1145.12 387.25 L1143.65 414.76 L1142.18 398.09 L1140.71 422.7 L1139.24 392.8 L1137.77 423.38 L1136.3 394.51 L1134.83 417.04 L1133.36 392.17 L1131.89 422.26 L1130.42 391.85 L1128.95 413.95 L1127.48 386.9 L1126.01 379.03 L1124.54 398.31 L1123.07 413.27 L1121.6 389.57 L1120.13 410.66 L1118.66 386.25 L1117.19 422.48 L1115.72 382.41 L1114.25 416.11 L1112.78 392.94 L1111.31 415.7 L1109.84 393.48 L1108.37 414.71 L1106.9 388.35 L1105.43 419.98 L1103.96 389.24 L1102.49 379.03 L1101.02 388.29 L1099.55 423.91 L1098.08 396.15 L1096.61 413.94 L1095.14 387.73 L1093.67 416.42 L1092.2 398.56 L1090.73 413.04 L1089.26 395.73 L1087.79 414.67 L1086.32 395.06 L1084.85 419.42 L1083.38 396.4 L1081.91 369.48 L1080.44 318.9 L1078.97 316.09 L1077.5 403.2Z" fill="#bc50f8" fill-opacity="0.2" stroke="#bc50f8" stroke-opacity="0.2" stroke-width="1"/>
<g fill="#bc50f8" stroke="#bc50f8" stroke-width="1.2" stroke-linejoin="round">
<use href="#st" x="1077.5" y="403.2"/><use href="#st" x="1078.97" y="301.2"/><use href="#st" x="1080.44" y="301.2"/><use href="#st" x="1081.91" y="302.04"/><use href="#st" x="1083.38" y="357.68"/><use href="#st" x="1084.85" y="349.25"/><use href="#st" x="1086.32" y="347"/><use href="#st" x="1087.79" y="347"/><use href="#st" x="1089.26" y="336.88"/><use href="#st" x="1090.73" y="368.92"/><use href="#st" x="1092.2" y="353.74"/><use href="#st" x="1093.67" y="340.26"/><use href="#st" x="1095.14" y="347"/><use href="#st" x="1096.61" y="348.12"/><use href="#st" x="1098.08" y="341.38"/><use href="#st" x="1099.55" y="369.48"/><use href="#st" x="1101.02" y="341.66"/><use href="#st" x="1102.49" y="327.89"/><use href="#st" x="1103.96" y="362.74"/><use href="#st" x="1105.43" y="356.27"/><use href="#st" x="1106.9" y="368.92"/><use href="#st" x="1108.37" y="358.24"/><use href="#st" x="1109.84" y="354.87"/><use href="#st" x="1111.31" y="336.88"/><use href="#st" x="1112.78" y="357.68"/><use href="#st" x="1114.25" y="349.81"/><use href="#st" x="1115.72" y="331.83"/><use href="#st" x="1117.19" y="364.42"/><use href="#st" x="1118.66" y="358.8"/><use href="#st" x="1120.13" y="331.83"/><use href="#st" x="1121.6" y="341.94"/><use href="#st" x="1123.07" y="353.18"/><use href="#st" x="1124.54" y="368.92"/><use href="#st" x="1126.01" y="326.77"/><use href="#st" x="1127.48" y="334.07"/><use href="#st" x="1128.95" y="353.18"/><use href="#st" x="1130.42" y="355.43"/><use href="#st" x="1131.89" y="358.8"/><use href="#st" x="1133.36" y="343.35"/><use href="#st" x="1134.83" y="347"/><use href="#st" x="1136.3" y="336.88"/><use href="#st" x="1137.77" y="349.25"/><use href="#st" x="1139.24" y="314.4"/><use href="#st" x="1140.71" y="318.62"/><use href="#st" x="1142.18" y="340.82"/><use href="#st" x="1143.65" y="362.17"/><use href="#st" x="1145.12" y="308.78"/><use href="#st" x="1146.59" y="362.74"/><use href="#st" x="1148.06" y="363.86"/><use href="#st" x="1149.53" y="364.42"/><use href="#st" x="1151" y="366.67"/><use href="#st" x="1152.47" y="368.36"/><use href="#st" x="1153.94" y="370.04"/><use href="#st" x="1155.41" y="375.1"/><use href="#st" x="1156.88" y="349.25"/><use href="#st" x="1158.35" y="328.45"/><use href="#st" x="1159.82" y="352.62"/><use href="#st" x="1161.29" y="327.33"/><use href="#st" x="1162.76" y="334.07"/><use href="#st" x="1164.23" y="381.28"/><use href="#st" x="1165.7" y="344.75"/><use href="#st" x="1167.17" y="326.21"/><use href="#st" x="1168.64" y="360.49"/><use href="#st" x="1170.11" y="352.62"/><use href="#st" x="1171.58" y="347"/><use href="#st" x="1173.05" y="341.94"/><use href="#st" x="1174.52" y="332.39"/><use href="#st" x="1175.99" y="339.13"/><use href="#st" x="1177.46" y="322.27"/><use href="#st" x="1178.93" y="328.45"/><use href="#st" x="1180.4" y="352.62"/><use href="#st" x="1181.87" y="347"/><use href="#st" x="1183.34" y="364.42"/><use href="#st" x="1184.81" y="345.88"/><use href="#st" x="1186.28" y="358.8"/><use href="#st" x="1187.75" y="339.13"/><use href="#st" x="1189.22" y="341.38"/><use href="#st" x="1190.69" y="351.5"/><use href="#st" x="1192.16" y="355.43"/><use href="#st" x="1193.63" y="343.35"/><use href="#st" x="1195.1" y="320.02"/><use href="#st" x="1196.57" y="320.02"/><use href="#st" x="1198.04" y="320.02"/><use href="#st" x="1199.51" y="320.02"/><use href="#st" x="1200.98" y="320.02"/><use href="#st" x="1202.45" y="320.02"/><use href="#st" x="1203.92" y="320.02"/><use href="#st" x="1205.39" y="320.02"/><use href="#st" x="1206.86" y="320.02"/><use href="#st" x="1208.33" y="320.02"/><use href="#st" x="1209.8" y="320.02"/><use href="#st" x="1211.27" y="320.02"/><use href="#st" x="1212.74" y="320.02"/><use href="#st" x="1214.21" y="320.02"/><use href="#st" x="1215.68" y="320.02"/><use href="#st" x="1217.15" y="320.02"/><use href="#st" x="1218.62" y="320.02"/><use href="#st" x="1220.09" y="320.02"/><use href="#st" x="1221.56" y="320.02"/><use href="#st" x="1223.03" y="320.02"/><use href="#st" x="1224.5" y="320.02"/><use href="#st" x="1225.97" y="320.02"/><use href="#st" x="1227.44" y="320.02"/><use href="#st" x="1228.91" y="320.02"/><use href="#st" x="1230.38" y="320.02"/><use href="#st" x="1231.85" y="320.02"/><use href="#st" x="1233.32" y="320.02"/><use href="#st" x="1234.79" y="320.02"/><use href="#st" x="1236.26" y="320.02"/><use href="#st" x="1237.73" y="320.02"/><use href="#st" x="1239.2" y="320.02"/><use href="#st" x="1240.67" y="320.02"/><use href="#st" x="1242.14" y="320.02"/><use href="#st" x="1243.61" y="320.02"/><use href="#st" x="1245.08" y="320.02"/><use href="#st" x="1246.55" y="320.02"/><use href="#st" x="1248.02" y="320.02"/><use href="#st" x="1249.49" y="320.02"/><use href="#st" x="1250.96" y="320.02"/><use href="#st" x="1252.43" y="320.02"/>
</g>
</g>
<rect x="1074.1" y="420.4" width="86.4" height="38.9" rx="2.4" ry="2.4" fill="#fff" fill-opacity="0.8" stroke="#ccc" stroke-opacity="0.8" stroke-width="0.9"/>
<path d="M1078.75 429.6 H1102.15" stroke="#78ef00" stroke-width="1.9" stroke-linecap="square" fill="none"/>
<use href="#st" x="1090.7" y="447.9" fill="#bc50f8" stroke="#bc50f8" stroke-width="1.2" stroke-linejoin="round"/>
<text x="1111.6" y="434.9" font-size="11.6" textLength="27.27" lengthAdjust="spacingAndGlyphs">cls_9</text>
<text x="1111.33" y="452.2" font-size="11.6" textLength="41.73" lengthAdjust="spacingAndGlyphs">noise_9</text>
<rect x="1068.4" y="262.5" width="193.8" height="202.8" fill="none" stroke="#000" stroke-width="1"/>
<text x="1073.96" y="483.1" font-size="11.6" textLength="6.5" lengthAdjust="spacingAndGlyphs">0</text>
<text x="1143.92" y="483.1" font-size="11.6" textLength="13.56" lengthAdjust="spacingAndGlyphs">50</text>
<text x="1213.63" y="483.1" font-size="11.6" textLength="20.68" lengthAdjust="spacingAndGlyphs">100</text>
<text x="1041.32" y="463.8" font-size="11.6" textLength="17.15" lengthAdjust="spacingAndGlyphs">0.0</text>
<text x="1041.54" y="435.7" font-size="11.6" textLength="16.95" lengthAdjust="spacingAndGlyphs">0.5</text>
<text x="1041.33" y="407.6" font-size="11.6" textLength="17.14" lengthAdjust="spacingAndGlyphs">1.0</text>
<text x="1041.56" y="379.5" font-size="11.6" textLength="16.93" lengthAdjust="spacingAndGlyphs">1.5</text>
<text x="1041.24" y="351.4" font-size="11.6" textLength="17.22" lengthAdjust="spacingAndGlyphs">2.0</text>
<text x="1041.47" y="323.3" font-size="11.6" textLength="17.02" lengthAdjust="spacingAndGlyphs">2.5</text>
<text x="1041.43" y="295.2" font-size="11.6" textLength="17.03" lengthAdjust="spacingAndGlyphs">3.0</text>
<text x="1041.66" y="267.1" font-size="11.6" textLength="16.83" lengthAdjust="spacingAndGlyphs">3.5</text>
<path d="M1077.5 465.3v3.9M1151 465.3v3.9M1224.5 465.3v3.9M1068.4 459.4h-3.9M1068.4 431.3h-3.9M1068.4 403.2h-3.9M1068.4 375.1h-3.9M1068.4 347h-3.9M1068.4 318.9h-3.9M1068.4 290.8h-3.9M1068.4 262.7h-3.9" stroke="#000" stroke-width="1" fill="none"/>
<text x="1144.99" y="501.9" font-size="14.2" textLength="40.34" lengthAdjust="spacingAndGlyphs">epoch</text>
<g transform="translate(1033.2 364.5) rotate(-90)"><text x="-22.06" y="0" font-size="14.2" textLength="44.17" lengthAdjust="spacingAndGlyphs">weight</text></g>
</g>
</svg>
</body></html>
